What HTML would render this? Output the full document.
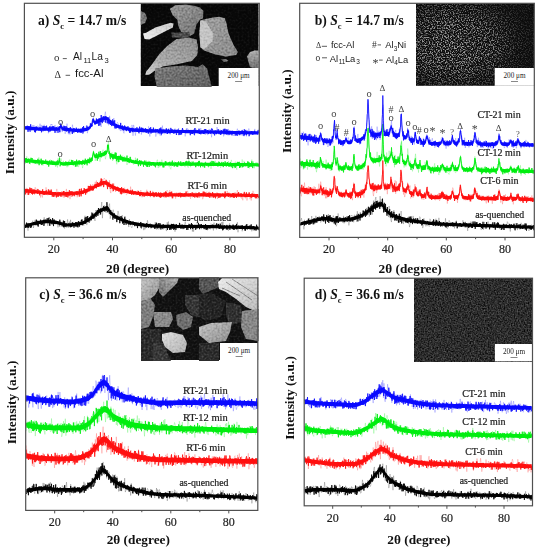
<!DOCTYPE html>
<html><head><meta charset="utf-8"><style>
html,body{margin:0;padding:0;background:#fff;width:537px;height:550px;overflow:hidden}
svg{display:block}
</style></head><body>
<svg width="537" height="550" viewBox="0 0 537 550">
<defs>
<linearGradient id="gb" x1="0" y1="0" x2="1" y2="0.3"><stop offset="0" stop-color="#3a3a3a"/><stop offset="0.55" stop-color="#2a2a2a"/><stop offset="1" stop-color="#0a0a0a"/></linearGradient>
<filter id="spk1" x="0" y="0" width="100%" height="100%" color-interpolation-filters="sRGB">
<feTurbulence type="fractalNoise" baseFrequency="0.75" numOctaves="2" seed="7"/>
<feColorMatrix type="matrix" values="0 0 0 0 0.7  0 0 0 0 0.7  0 0 0 0 0.7  4.2 0 0 0 -1.9"/>
<feGaussianBlur stdDeviation="0.3"/>
</filter>
<radialGradient id="gmb" cx="0.3" cy="0.5" r="0.7" fx="0.3" fy="0.5"><stop offset="0" stop-color="#f0f0f0"/><stop offset="0.5" stop-color="#c0c0c0"/><stop offset="0.8" stop-color="#505050"/><stop offset="1" stop-color="#282828"/></radialGradient>
<mask id="mb" maskUnits="userSpaceOnUse" x="416" y="3" width="119" height="83"><rect x="416" y="3.3" width="118.3" height="82.5" fill="url(#gmb)"/></mask>
<filter id="grain" x="0" y="0" width="100%" height="100%" color-interpolation-filters="sRGB">
<feTurbulence type="fractalNoise" baseFrequency="0.5" numOctaves="3" seed="11"/>
<feColorMatrix type="matrix" values="0.8 0 0 0 0.1  0.8 0 0 0 0.1  0.8 0 0 0 0.1  0 0 0 0 1"/>
</filter>
<linearGradient id="ga1" x1="0" y1="1" x2="1" y2="0"><stop offset="0" stop-color="#f0f0f0"/><stop offset="1" stop-color="#c8c8c8"/></linearGradient>
<linearGradient id="ga2" x1="0" y1="0" x2="1" y2="1"><stop offset="0" stop-color="#9a9a9a"/><stop offset="1" stop-color="#707070"/></linearGradient>
<linearGradient id="ga3" x1="0" y1="1" x2="1" y2="0"><stop offset="0" stop-color="#d8d8d8"/><stop offset="0.3" stop-color="#aaaaaa"/><stop offset="1" stop-color="#8e8e8e"/></linearGradient>
<linearGradient id="ga4" x1="0" y1="0" x2="1" y2="1"><stop offset="0" stop-color="#7c7c7c"/><stop offset="1" stop-color="#5e5e5e"/></linearGradient>
<linearGradient id="ga5" x1="0" y1="0" x2="1" y2="1"><stop offset="0" stop-color="#a0a0a0"/><stop offset="1" stop-color="#8a8a8a"/></linearGradient>
<linearGradient id="ga6" x1="0" y1="0" x2="0" y2="1"><stop offset="0" stop-color="#b0b0b0"/><stop offset="1" stop-color="#707070"/></linearGradient>
<linearGradient id="gc5" x1="1" y1="0" x2="0" y2="1"><stop offset="0" stop-color="#b4b4b4"/><stop offset="1" stop-color="#6a6a6a"/></linearGradient>
<linearGradient id="gc1" x1="0" y1="0" x2="1" y2="1"><stop offset="0" stop-color="#c8c8c8"/><stop offset="1" stop-color="#8a8a8a"/></linearGradient>
<linearGradient id="gc2" x1="0" y1="0" x2="1" y2="1"><stop offset="0" stop-color="#e0e0e0"/><stop offset="1" stop-color="#b0b0b0"/></linearGradient>
<linearGradient id="gc3" x1="0" y1="0" x2="1" y2="1"><stop offset="0" stop-color="#ececec"/><stop offset="1" stop-color="#b8b8b8"/></linearGradient>
<linearGradient id="gc4" x1="0" y1="0" x2="1" y2="1"><stop offset="0" stop-color="#c4c4c4"/><stop offset="1" stop-color="#8c8c8c"/></linearGradient>
<filter id="spk2" x="0" y="0" width="100%" height="100%" color-interpolation-filters="sRGB">
<feTurbulence type="fractalNoise" baseFrequency="0.7" numOctaves="2" seed="3"/>
<feColorMatrix type="matrix" values="0.48 0 0 0 -0.065  0.48 0 0 0 -0.065  0.48 0 0 0 -0.065  0 0 0 0 1"/>
<feGaussianBlur stdDeviation="0.4"/>
</filter>
<linearGradient id="gbm" x1="0" y1="0" x2="1" y2="0.2"><stop offset="0" stop-color="#000" stop-opacity="0"/><stop offset="0.45" stop-color="#000" stop-opacity="0.1"/><stop offset="0.75" stop-color="#000" stop-opacity="0.45"/><stop offset="1" stop-color="#000" stop-opacity="0.55"/></linearGradient>
</defs>
<rect width="537" height="550" fill="#fff"/>
<g transform="scale(0.1)" fill="none" stroke="#000"><path fill="#000" stroke="none" d="M250 2248l6-2 6-2 6-2 6-3 6-2 6-2 6-2 6-2 6-2 6-1 6-2 6-2 6-2 6-1 6-2 6-1 6-1 6-2 6-1 6-1 6-2 6-1 6-1 6-1 6-2 6-1 6-1 6-1 6-1 6-1 6 0 6-1 6 0 6 0 6-1 6 0 6 1 6 0 6 0 6 0 6 1 6 0 6 0 6 1 6 1 6 0 6 1 6 0 6 1 6 1 6 0 6 1 6 1 6 1 6 1 6 2 6 2 6 2 6 2 6 2 6 2 6 2 6 2 6 2 6 2 6 1 6 2 6 0 6 1 6 0 6 0 6 0 6 0 6 0 6-1 6 0 6-1 6 0 6-1 6 0 6-1 6 0 6-1 6-1 6-1 6-1 6-1 6 0 6-1 6-1 6-1 6-2 6-1 6-2 6-2 6-2 6-2 6-3 6-3 6-3 6-4 6-3 6-4 6-4 6-4 6-4 6-3 6-4 6-4 6-4 6-5 6-5 6-5 6-6 6-6 6-5 6-6 6-5 6-6 6-5 6-4 6-5 6-3 6-4 6-3 6-4 6-3 6-3 6-3 6-2 6-3 6-2 6-3 6-3 6-2 6-1 6-1 6 2 6 6 6 9 6 11 6 11 6 9 6 7 6 5 6 5 6 5 6 5 6 4 6 4 6 4 6 4 6 3 6 4 6 3 6 3 6 3 6 3 6 3 6 3 6 2 6 3 6 3 6 2 6 2 6 3 6 2 6 2 6 2 6 2 6 2 6 2 6 2 6 1 6 2 6 1 6 2 6 2 6 1 6 2 6 1 6 1 6 2 6 1 6 1 6 2 6 1 6 1 6 1 6 1 6 1 6 1 6 1 6 1 6 1 6 0 6 1 6 1 6 0 6 1 6 1 6 0 6 1 6 1 6 0 6 1 6 0 6 1 6 0 6 1 6 0 6 1 6 0 6 1 6 0 6 1 6 0 6 0 6 0 6 1 6 0 6 0 6 0 6 0 6 1 6 0 6 0 6 0 6 0 6 0 6 0 6 0 6 0 6 0 6 0 6 0 6 0 6 0 6 0 6 0 6 0 6 0 6 0 6 0 6 0 6 0 6 0 6 0 6 0 6 1 6 0 6 0 6 0 6 0 6 0 6 0 6 0 6 0 6 0 6 0 6 0 6 0 6 0 6 0 6 0 6 0 6 0 6 0 6 0 6 0 6 0 6 0 6 0 6 0 6 0 6 0 6 0 6 0 6 0 6 0 6 0 6 0 6 0 6 0 6 0 6 0 6 0 6 0 6 0 6 0 6 1 6 0 6 0 6 0 6 0 6 0 6 0 6 0 6 0 6 0 6 0 6 0 6 0 6 0 6 0 6 1 6 0 6 0 6 0 6 0 6 0 6 0 6 0 6 0 6 0 6 1 6 0 6 0 6 0 6 0 6 0 6 0 6 0 6 1 6 0 6 0 6 0 6 0 6 0 6 0 6 1 6 0 6 0 6 0 6 0 6 0 6 0 6 1 6 0 6 0 6 0 6 0 6 0 6 1 6 0 6 0 6 0 6 0 6 0 6 1 6 0 6 0 6 0 6 0 6 1 6 0 6 0 6 0 6 0 6 1 6 0 6 0 6 0 6 0 6 1 6 0 6 0 6 0 6 0 6 1 6 0 6 0 6 0 6 0 6 1 6 0 6 0 6 0 6 1 6 0 6 0 6 0 6 0 6 1 6 0 6 0 6 0 6 1 6 0 0 30 -6 0 -6-1 -6 0 -6 0 -6 0 -6-1 -6 0 -6 0 -6 0 -6 0 -6-1 -6 0 -6 0 -6 0 -6 0 -6-1 -6 0 -6 0 -6 0 -6 0 -6-1 -6 0 -6 0 -6 0 -6 0 -6-1 -6 0 -6 0 -6 0 -6 0 -6 0 -6-1 -6 0 -6 0 -6 0 -6 0 -6-1 -6 0 -6 0 -6 0 -6 0 -6 0 -6-1 -6 0 -6 0 -6 0 -6 0 -6 0 -6-1 -6 0 -6 0 -6 0 -6 0 -6 0 -6 0 -6-1 -6 0 -6 0 -6 0 -6 0 -6 0 -6 0 -6-1 -6 0 -6 0 -6 0 -6 0 -6 0 -6 0 -6 0 -6 0 -6-1 -6 0 -6 0 -6 0 -6 0 -6 0 -6 0 -6 0 -6 0 -6 0 -6-1 -6 0 -6 0 -6 0 -6 0 -6 0 -6 0 -6 0 -6 0 -6 0 -6 0 -6 0 -6 0 -6 0 -6-1 -6 0 -6 0 -6 0 -6 0 -6 0 -6 0 -6 0 -6 0 -6 0 -6 0 -6 0 -6 0 -6 0 -6 0 -6 0 -6 0 -6 0 -6 0 -6 0 -6 0 -6 0 -6 0 -6 0 -6 0 -6 0 -6 0 -6 0 -6 0 -6 0 -6 0 -6 0 -6 0 -6 0 -6 0 -6 0 -6 0 -6 0 -6 0 -6-1 -6 0 -6 0 -6 0 -6 0 -6 0 -6 0 -6 0 -6 0 -6 0 -6 0 -6 0 -6 0 -6 0 -6 0 -6 0 -6 0 -6 0 -6 0 -6 0 -6 0 -6 0 -6 0 -6 0 -6 0 -6 0 -6 0 -6 0 -6 0 -6-1 -6 0 -6 0 -6 0 -6 0 -6 0 -6-1 -6 0 -6 0 -6 0 -6-1 -6 0 -6-1 -6 0 -6 0 -6-1 -6 0 -6-1 -6 0 -6-1 -6-1 -6 0 -6-1 -6 0 -6-1 -6-1 -6 0 -6-1 -6 0 -6-1 -6-1 -6 0 -6-1 -6-1 -6-1 -6-1 -6-1 -6-1 -6-1 -6-1 -6-1 -6-2 -6-1 -6-1 -6-2 -6-1 -6-1 -6-2 -6-1 -6-2 -6-1 -6-2 -6-1 -6-2 -6-2 -6-2 -6-2 -6-2 -6-2 -6-2 -6-2 -6-2 -6-3 -6-2 -6-2 -6-3 -6-3 -6-2 -6-3 -6-3 -6-3 -6-3 -6-4 -6-3 -6-4 -6-3 -6-4 -6-5 -6-4 -6-5 -6-5 -6-5 -6-6 -6-9 -6-11 -6-10 -6-9 -6-6 -6-2 -6 1 -6 1 -6 2 -6 3 -6 3 -6 2 -6 3 -6 2 -6 3 -6 3 -6 3 -6 3 -6 3 -6 4 -6 3 -6 4 -6 5 -6 5 -6 5 -6 5 -6 6 -6 5 -6 6 -6 5 -6 5 -6 5 -6 4 -6 4 -6 4 -6 4 -6 4 -6 3 -6 4 -6 4 -6 3 -6 3 -6 4 -6 3 -6 3 -6 2 -6 3 -6 2 -6 2 -6 1 -6 2 -6 1 -6 1 -6 1 -6 1 -6 0 -6 1 -6 1 -6 1 -6 1 -6 0 -6 1 -6 1 -6 0 -6 1 -6 0 -6 1 -6 0 -6 0 -6 0 -6 1 -6 0 -6 0 -6 0 -6-1 -6-1 -6-1 -6-1 -6-2 -6-2 -6-2 -6-2 -6-2 -6-2 -6-2 -6-2 -6-1 -6-2 -6-1 -6-1 -6-1 -6-1 -6 0 -6-1 -6-1 -6 0 -6-1 -6 0 -6-1 -6 0 -6-1 -6 0 -6-1 -6 0 -6 0 -6 0 -6 0 -6 0 -6 0 -6 0 -6 0 -6 1 -6 1 -6 0 -6 1 -6 1 -6 1 -6 1 -6 2 -6 1 -6 1 -6 1 -6 1 -6 2 -6 1 -6 1 -6 1 -6 2 -6 1 -6 2 -6 1 -6 2 -6 1 -6 2 -6 2 -6 2 -6 2 -6 2 -6 2 -6 2 -6 2 -6 2 -6 2z"/><path stroke-width="6" stroke-opacity="0.35" d="M250 2232l6 10 6 16 6-32 6 37 6 44 6-74 6 5 6 28 6-7 6 16 6-11 6-28 6-30 6 74 6-25 6-45 6-13 6 54 6-52 6 38 6 23 6-35 6 4 6-3 6 8 6 2 6 1 6-9 6-2 6-10 6-10 6-33 6 62 6-2 6-41 6 24 6-28 6 71 6-64 6 16 6-41 6 33 6-13 6 48 6-22 6 27 6-15 6-16 6-16 6 20 6 3 6-2 6 4 6 10 6 43 6-48 6 14 6 29 6-33 6-20 6 51 6-25 6 1 6-26 6 19 6 50 6-44 6 14 6 20 6-44 6-38 6 85 6-25 6-38 6 38 6-56 6 65 6-36 6 21 6-30 6 26 6 1 6-17 6 43 6-30 6 31 6-21 6-3 6 26 6-20 6 17 6-25 6-39 6 23 6-25 6 30 6-2 6 23 6-60 6-39 6 77 6-26 6 43 6-22 6-47 6-20 6 18 6-7 6 41 6-23 6-40 6-16 6 0 6 0 6-8 6 76 6 7 6-110 6 20 6 37 6-12 6 2 6-59 6 31 6 29 6-23 6-61 6-44 6 162 6-87 6-30 6-13 6 22 6 17 6 36 6-67 6 66 6-20 6 17 6-72 6-15 6 151 6-32 6-55 6 43 6-19 6-27 6 40 6 17 6 14 6 9 6 0 6-24 6 7 6-51 6 24 6 33 6 43 6-42 6-7 6 46 6-56 6 65 6-9 6 23 6-38 6 21 6-24 6 44 6-29 6 26 6 7 6 35 6-80 6 26 6 36 6 14 6 11 6-17 6-20 6 6 6-17 6 13 6-23 6 20 6 19 6-34 6 7 6-12 6 1 6 27 6-14 6-15 6 71 6-27 6-22 6 22 6 39 6-55 6 47 6-52 6-9 6 30 6-60 6 28 6 46 6-30 6 19 6-34 6 54 6-27 6 2 6 9 6-18 6 20 6 17 6-68 6 34 6 41 6-32 6 28 6-24 6 27 6-12 6 7 6-53 6 29 6 21 6-42 6 52 6-32 6 23 6-32 6 10 6 32 6 13 6-89 6 46 6-53 6 43 6-3 6 21 6 20 6-16 6-38 6 4 6 24 6 23 6-30 6 54 6-55 6-7 6 34 6-15 6-6 6-2 6 10 6-19 6-18 6 2 6 17 6-6 6 17 6 0 6-24 6 11 6-40 6 32 6 4 6 9 6 3 6 16 6-45 6 24 6 13 6-6 6-11 6-5 6 66 6-59 6 60 6-40 6-22 6-2 6-16 6 3 6 10 6 17 6-7 6 28 6-3 6-15 6-30 6 52 6-15 6-4 6 9 6-37 6 47 6-14 6 22 6-36 6-6 6 45 6-41 6 32 6-8 6-27 6 34 6-56 6 7 6 22 6 1 6 38 6-79 6 38 6-7 6 7 6 31 6-24 6-12 6 16 6-40 6 42 6 9 6-26 6 2 6-42 6 36 6-39 6 73 6-32 6-1 6 11 6-2 6 27 6 7 6-16 6 23 6-51 6-22 6 35 6-11 6 8 6 27 6-47 6 34 6 5 6-22 6 5 6 15 6-19 6 35 6-77 6 101 6-72 6 9 6 29 6-13 6-9 6 6 6 40 6-45 6-7 6 6 6-6 6 31 6-3 6-42 6 33 6-38 6 16 6 34 6-30 6 22 6 12 6-33 6 50 6-21 6 1 6 13 6-20 6-7 6-3 6 5 6-6 6-4 6-6 6 18"/><path stroke-width="8" stroke-linejoin="bevel" d="M250 2262l3 15 3-6 3-17 3 19 3-46 3 26 3 1 3 22 3-30 3-16 3 25 3 23 3-31 3 1 3-3 3 3 3 20 3 10 3-26 3-10 3 32 3-30 3-2 3-8 3 0 3 9 3-10 3 11 3-6 3 7 3-16 3 2 3 7 3-4 3 0 3 18 3-39 3-16 3 46 3-18 3 27 3-25 3-20 3 59 3-33 3-15 3-6 3 22 3-22 3 18 3 13 3-46 3 18 3 15 3 20 3-13 3-26 3 35 3-34 3 3 3 10 3-27 3 61 3-20 3-18 3-15 3-11 3 28 3 6 3-20 3 4 3 13 3-11 3-33 3 47 3-8 3 9 3-27 3-25 3 16 3 29 3 32 3 4 3-36 3-32 3 21 3 15 3 0 3-6 3 22 3-40 3-22 3 23 3-5 3 62 3-43 3-22 3 37 3 7 3-17 3 3 3 15 3-8 3-22 3 24 3 6 3-10 3 10 3-5 3-13 3 2 3 14 3-19 3 30 3 2 3-55 3 35 3-11 3 3 3 15 3-5 3 14 3-3 3 2 3-19 3 8 3 31 3-61 3 67 3-36 3 29 3-56 3 31 3 21 3-11 3 15 3-31 3 6 3-2 3 19 3-1 3-9 3-2 3-1 3 6 3-17 3 15 3-2 3-6 3-1 3 33 3-34 3 16 3 16 3-11 3-12 3 16 3-40 3 3 3 13 3 3 3 2 3 32 3-4 3-29 3 5 3-20 3 20 3-28 3 45 3-32 3 18 3-32 3 45 3-14 3 22 3-32 3-29 3 14 3-9 3 48 3-38 3-3 3 23 3-6 3 3 3-18 3-27 3 10 3-15 3 59 3-8 3-23 3 16 3 0 3-2 3-4 3 5 3-16 3-43 3-4 3 64 3-14 3-55 3 44 3-22 3 5 3-36 3 57 3-18 3 15 3 4 3 2 3 5 3-28 3-4 3-19 3 22 3-18 3-21 3 46 3-12 3-65 3 7 3 31 3-26 3 52 3-25 3 6 3 5 3 6 3-38 3 17 3-11 3 10 3-8 3 17 3-23 3-26 3 12 3-32 3 32 3 26 3-52 3-26 3 35 3-12 3 10 3-16 3 15 3-28 3 60 3-45 3 17 3 4 3-23 3 13 3-18 3-7 3 5 3 16 3-45 3 8 3 1 3 5 3 41 3-31 3-8 3 10 3 22 3-46 3 44 3-85 3 36 3 60 3 4 3-32 3-12 3 35 3-25 3 53 3-4 3-5 3-33 3 48 3-24 3 4 3-2 3 10 3 16 3 11 3 2 3 33 3-54 3 35 3-38 3 13 3-19 3 53 3-18 3-1 3-3 3 23 3-28 3 21 3 40 3-48 3-8 3-6 3 39 3-14 3-15 3 0 3 19 3-20 3 64 3-44 3 1 3 3 3-32 3 8 3 23 3 8 3-22 3 58 3-23 3 17 3-1 3-26 3 48 3-39 3-36 3-8 3 45 3 18 3-14 3 31 3-36 3 17 3 4 3-32 3 26 3 2 3 14 3 3 3-4 3-30 3 27 3 7 3-18 3 14 3 1 3 8 3-19 3 8 3-4 3-2 3-11 3 6 3-13 3 16 3 16 3 0 3 3 3-14 3 26 3-31 3 21 3-5 3-19 3 1 3 25 3-11 3 5 3 33 3-27 3-7 3 10 3-21 3 7 3 11 3-20 3 13 3-2 3 5 3-30 3 58 3-30 3 11 3-25 3-4 3 22 3-6 3 16 3-25 3 0 3 21 3 7 3 3 3-15 3 5 3-16 3 34 3-3 3 0 3-43 3 40 3-25 3 19 3 0 3 12 3-21 3-3 3-10 3-2 3 28 3-23 3 25 3-17 3-2 3 24 3-2 3-28 3 13 3 2 3 11 3-21 3 5 3 5 3 12 3 3 3-21 3 35 3-20 3-19 3-11 3 16 3-28 3 39 3 6 3 11 3-12 3-34 3 22 3 15 3-44 3 21 3 22 3-8 3-32 3 23 3 8 3 31 3-38 3-7 3 18 3 1 3 4 3 13 3-23 3-20 3 22 3-1 3 15 3-2 3-24 3 23 3 3 3-18 3 18 3-12 3 0 3-5 3 15 3 22 3-31 3-21 3 14 3-5 3 13 3-7 3 37 3-23 3 17 3-39 3 7 3 35 3-57 3 28 3-26 3 47 3-45 3 17 3 2 3-23 3 60 3-37 3 28 3-36 3-11 3 25 3 0 3 31 3-50 3-8 3 13 3 15 3 4 3-20 3 6 3 14 3 8 3-25 3 11 3-38 3 21 3 21 3-6 3-3 3 27 3-29 3-12 3 20 3 0 3-21 3 33 3 11 3-35 3-4 3 12 3 20 3-28 3-2 3 2 3 13 3-1 3-6 3 21 3 16 3-43 3 25 3-12 3 30 3-47 3 8 3 7 3-24 3 19 3 14 3-33 3 24 3 25 3-36 3-5 3-21 3 33 3-23 3 34 3 16 3-16 3-21 3 22 3-17 3-10 3 10 3 11 3-9 3 13 3 25 3-23 3 2 3-22 3 30 3-14 3 10 3-27 3 15 3-39 3 30 3-7 3-3 3 42 3-50 3 21 3 0 3 11 3 7 3-40 3 16 3-2 3 21 3 4 3-21 3-2 3-7 3 21 3 20 3-20 3-16 3-2 3 2 3-14 3 51 3-25 3-6 3 39 3-31 3 19 3-18 3 13 3-16 3-6 3 11 3 5 3 6 3-14 3-6 3-2 3 10 3-12 3 3 3 13 3 0 3-1 3-18 3-11 3 26 3-2 3-8 3 9 3 10 3-16 3 9 3-20 3 11 3-9 3-9 3 28 3-41 3 34 3 12 3-5 3-29 3 26 3-31 3 15 3 34 3-19 3 16 3-34 3-15 3 20 3 30 3-5 3 2 3-18 3 1 3-1 3 37 3-33 3 25 3-29 3 23 3-36 3 9 3 13 3-14 3 2 3 4 3-5 3 31 3-6 3-38 3 46 3-26 3 1 3-2 3 15 3-2 3-18 3 8 3-20 3 47 3-40 3 0 3 2 3 13 3 9 3-16 3 6 3-6 3 25 3-16 3-28 3 47 3-17 3 23 3-37 3 2 3 5 3-18 3 15 3 24 3-8 3-44 3 53 3-14 3 7 3-11 3 2 3-2 3 0 3-16 3 31 3-12 3 2 3 0 3-9 3 3 3-18 3 23 3 0 3-7 3-21 3 44 3-22 3 3 3-4 3-5 3 3 3-10 3 8 3 38 3-12 3 12 3-38 3-18 3 7 3-13 3 49 3 2 3-16 3 4 3 0 3-7 3 12 3-25 3 9 3 4 3-22 3 10 3 21 3-2 3-38 3 47 3-8 3 6 3-12 3 10 3-27 3 15 3-12 3 8 3 24 3 7 3-23 3-6 3 17 3-4 3 20 3-18 3-41 3 34 3-6 3-6 3 13 3-1 3-6 3 27"/></g>
<g transform="scale(0.1)" fill="none" stroke="#ff1010"><path fill="#ff1010" stroke="none" d="M250 1888l6 1 6 1 6 1 6 0 6 1 6 1 6 1 6 1 6 0 6 1 6 1 6 1 6 1 6 0 6 1 6 1 6 0 6 1 6 1 6 1 6 0 6 1 6 1 6 0 6 1 6 0 6 1 6 1 6 0 6 1 6 0 6 1 6 1 6 0 6 1 6 0 6 1 6 0 6 1 6 1 6 0 6 1 6 0 6 1 6 1 6 0 6 1 6 0 6 1 6 0 6 0 6 1 6 0 6 0 6 1 6 0 6 0 6 0 6 0 6 0 6 0 6 0 6 0 6 0 6-1 6 0 6 0 6 0 6 0 6-1 6 0 6 0 6 0 6-1 6 0 6-1 6 0 6 0 6-1 6 0 6-1 6 0 6-1 6 0 6-1 6 0 6-1 6 0 6-1 6-1 6-1 6-1 6-1 6-2 6-1 6-2 6-2 6-2 6-2 6-3 6-2 6-2 6-3 6-2 6-2 6-3 6-2 6-3 6-3 6-3 6-3 6-4 6-3 6-3 6-3 6-4 6-3 6-3 6-3 6-4 6-3 6-3 6-4 6-3 6-2 6-3 6-2 6-2 6-2 6-2 6-1 6-1 6-1 6 2 6 2 6 4 6 4 6 4 6 4 6 3 6 3 6 3 6 4 6 3 6 3 6 3 6 3 6 3 6 3 6 3 6 2 6 3 6 2 6 2 6 2 6 2 6 2 6 2 6 2 6 2 6 2 6 1 6 2 6 2 6 1 6 2 6 1 6 2 6 1 6 2 6 1 6 1 6 2 6 1 6 1 6 1 6 2 6 1 6 1 6 1 6 1 6 0 6 1 6 1 6 1 6 0 6 1 6 1 6 0 6 1 6 1 6 0 6 1 6 1 6 0 6 1 6 0 6 1 6 1 6 0 6 1 6 0 6 1 6 0 6 1 6 0 6 1 6 0 6 1 6 0 6 1 6 0 6 0 6 1 6 0 6 0 6 0 6 1 6 0 6 0 6 0 6 0 6 0 6 0 6 0 6 0 6 0 6 0 6 0 6 0 6 0 6 0 6 0 6 0 6 0 6 0 6 0 6 0 6 0 6 0 6 0 6 0 6 0 6 0 6 0 6 0 6 0 6 0 6 0 6 0 6 0 6 0 6 0 6 0 6 0 6 0 6 0 6 0 6 0 6 0 6 0 6 0 6 0 6 0 6 0 6 0 6 0 6 0 6 0 6 0 6 0 6 0 6 0 6 0 6 0 6 0 6 0 6 0 6 0 6 0 6 0 6 0 6 0 6 0 6 0 6 0 6 0 6 0 6 0 6 0 6 0 6 0 6 0 6 0 6 0 6 0 6 0 6 0 6 0 6 0 6 0 6 0 6 0 6 0 6 0 6 0 6 1 6 0 6 0 6 0 6 0 6 0 6 0 6 0 6 0 6 0 6 0 6 0 6 0 6 0 6 0 6 0 6 0 6 0 6 0 6 1 6 0 6 0 6 0 6 0 6 0 6 0 6 0 6 0 6 0 6 0 6 0 6 0 6 1 6 0 6 0 6 0 6 0 6 0 6 0 6 0 6 0 6 0 6 1 6 0 6 0 6 0 6 0 6 0 6 0 6 0 6 0 6 1 6 0 6 0 6 0 6 0 6 0 6 0 6 0 6 0 6 1 6 0 6 0 6 0 6 0 6 0 6 0 6 0 6 1 6 0 6 0 6 0 6 0 6 0 6 0 6 0 6 1 6 0 6 0 6 0 6 0 6 0 6 0 0 31 -6 0 -6 0 -6 0 -6 0 -6 0 -6 0 -6 0 -6-1 -6 0 -6 0 -6 0 -6 0 -6 0 -6 0 -6 0 -6-1 -6 0 -6 0 -6 0 -6 0 -6 0 -6 0 -6 0 -6-1 -6 0 -6 0 -6 0 -6 0 -6 0 -6 0 -6 0 -6 0 -6 0 -6-1 -6 0 -6 0 -6 0 -6 0 -6 0 -6 0 -6 0 -6 0 -6 0 -6-1 -6 0 -6 0 -6 0 -6 0 -6 0 -6 0 -6 0 -6 0 -6 0 -6 0 -6 0 -6-1 -6 0 -6 0 -6 0 -6 0 -6 0 -6 0 -6 0 -6 0 -6 0 -6 0 -6 0 -6 0 -6 0 -6 0 -6-1 -6 0 -6 0 -6 0 -6 0 -6 0 -6 0 -6 0 -6 0 -6 0 -6 0 -6 0 -6 0 -6 0 -6 0 -6 0 -6 0 -6 0 -6 0 -6 0 -6 0 -6 0 -6 0 -6 0 -6 0 -6 0 -6 0 -6 0 -6 0 -6 0 -6 0 -6 0 -6 0 -6 0 -6 0 -6 0 -6 0 -6 0 -6 0 -6 0 -6 0 -6 0 -6 0 -6 0 -6 0 -6 0 -6 0 -6 0 -6 0 -6 0 -6 0 -6 0 -6 0 -6 0 -6 0 -6 0 -6 0 -6 0 -6 0 -6 0 -6 0 -6 0 -6 0 -6 0 -6 0 -6 0 -6 0 -6 0 -6 0 -6 0 -6 0 -6 0 -6 0 -6 0 -6 0 -6 0 -6 0 -6 0 -6 0 -6 0 -6 0 -6 0 -6 0 -6 0 -6 0 -6 0 -6 0 -6 0 -6 0 -6 0 -6 0 -6 0 -6 0 -6 0 -6 0 -6 0 -6 0 -6 0 -6-1 -6 0 -6 0 -6 0 -6 0 -6-1 -6 0 -6 0 -6-1 -6 0 -6 0 -6-1 -6 0 -6 0 -6-1 -6 0 -6-1 -6 0 -6-1 -6 0 -6-1 -6 0 -6-1 -6-1 -6 0 -6-1 -6 0 -6-1 -6-1 -6 0 -6-1 -6 0 -6-1 -6-1 -6 0 -6-1 -6-1 -6 0 -6-1 -6-1 -6-1 -6-1 -6-1 -6-1 -6-1 -6-1 -6-1 -6-1 -6-2 -6-1 -6-1 -6-2 -6-1 -6-1 -6-2 -6-1 -6-2 -6-1 -6-2 -6-1 -6-2 -6-2 -6-2 -6-1 -6-2 -6-2 -6-2 -6-2 -6-3 -6-2 -6-2 -6-3 -6-2 -6-3 -6-3 -6-3 -6-3 -6-4 -6-3 -6-3 -6-3 -6-3 -6-3 -6-4 -6-4 -6-4 -6-2 -6-1 -6 0 -6 1 -6 1 -6 2 -6 2 -6 2 -6 2 -6 2 -6 3 -6 3 -6 3 -6 3 -6 3 -6 4 -6 3 -6 3 -6 3 -6 3 -6 3 -6 3 -6 3 -6 3 -6 3 -6 3 -6 3 -6 3 -6 2 -6 3 -6 2 -6 2 -6 2 -6 3 -6 2 -6 2 -6 2 -6 2 -6 2 -6 2 -6 1 -6 2 -6 1 -6 1 -6 1 -6 0 -6 1 -6 1 -6 0 -6 1 -6 0 -6 1 -6 0 -6 1 -6 0 -6 0 -6 1 -6 0 -6 1 -6 0 -6 0 -6 1 -6 0 -6 0 -6 0 -6 1 -6 0 -6 0 -6 0 -6 0 -6 1 -6 0 -6 0 -6 0 -6 0 -6 0 -6 0 -6 0 -6 0 -6 0 -6-1 -6 0 -6 0 -6 0 -6-1 -6 0 -6-1 -6 0 -6-1 -6 0 -6-1 -6 0 -6-1 -6 0 -6-1 -6-1 -6 0 -6-1 -6 0 -6-1 -6 0 -6-1 -6 0 -6-1 -6 0 -6-1 -6-1 -6 0 -6-1 -6 0 -6-1 -6-1 -6 0 -6-1 -6 0 -6-1 -6-1 -6 0 -6-1 -6-1 -6-1 -6 0 -6-1 -6-1 -6 0 -6-1 -6-1 -6-1 -6 0 -6-1 -6-1 -6-1 -6-1 -6 0 -6-1z"/><path stroke-width="6" stroke-opacity="0.35" d="M250 1916l6-5 6-33 6 24 6 44 6-48 6 22 6-17 6 45 6-53 6-15 6 55 6-52 6 29 6-4 6 21 6 19 6-76 6 56 6-27 6-14 6 43 6-9 6-8 6 11 6-18 6 69 6-54 6 29 6 25 6-56 6 24 6-22 6-7 6 36 6-77 6 37 6 23 6 20 6-25 6 22 6-53 6 36 6-22 6-17 6 71 6-20 6 1 6 14 6-11 6-10 6 32 6-50 6-32 6 32 6 23 6-27 6 25 6-7 6-1 6 12 6-35 6 8 6 52 6-26 6 34 6-30 6-7 6-11 6-42 6 65 6-39 6 2 6 3 6 2 6 70 6-47 6 22 6-5 6-7 6 1 6-1 6-14 6 24 6-18 6-19 6-15 6 60 6-34 6-43 6 24 6-1 6-29 6 22 6 39 6-19 6-17 6-11 6 7 6 10 6-27 6 15 6-15 6-7 6 27 6-3 6 7 6-22 6 25 6-81 6 53 6-36 6 34 6-49 6 65 6-38 6 7 6-58 6 40 6-53 6 60 6-35 6 25 6-20 6-13 6-2 6-26 6 42 6 2 6 17 6-12 6-41 6-21 6 9 6 7 6 21 6 45 6 3 6-40 6 12 6 24 6-60 6 107 6 22 6-89 6-3 6 76 6-53 6-27 6 32 6 20 6 33 6-42 6 21 6-38 6 50 6 4 6-4 6-20 6 1 6-4 6 24 6 0 6 20 6-46 6 53 6-62 6 44 6 2 6 26 6-5 6-15 6-37 6 28 6 2 6 9 6-65 6 55 6 4 6-10 6 18 6-26 6 24 6-9 6-11 6 42 6-12 6 2 6-41 6 7 6 9 6 1 6 46 6-65 6 59 6 14 6-45 6 31 6-20 6-9 6-13 6 8 6 9 6-37 6 69 6-39 6 3 6 18 6 18 6 6 6-52 6 21 6 4 6-37 6 49 6 6 6-43 6 26 6 4 6 6 6-31 6 30 6-13 6-13 6 32 6-1 6-20 6 10 6-13 6 17 6 3 6-4 6 25 6-47 6 38 6-28 6-33 6-7 6 13 6 53 6 7 6-71 6 6 6 45 6 10 6-37 6 17 6 39 6-44 6 20 6-33 6 61 6-37 6-27 6 22 6-12 6 7 6-1 6 2 6-19 6 24 6 9 6-10 6 19 6-21 6 29 6-34 6 9 6 26 6-28 6-20 6-16 6 23 6 13 6 10 6 15 6 18 6-56 6-12 6 53 6-5 6-25 6-1 6-14 6 5 6-10 6 56 6-6 6-38 6 17 6-15 6 43 6-25 6-16 6-4 6-1 6 58 6-10 6-39 6-1 6 3 6 12 6-12 6-28 6 44 6 5 6-32 6-17 6 27 6 4 6 6 6 23 6-22 6-27 6 12 6 11 6 10 6-26 6 10 6 21 6-45 6 69 6-45 6 20 6-6 6 13 6-40 6 37 6-4 6-36 6 11 6-11 6 26 6 10 6-48 6 32 6-3 6-36 6 23 6 15 6-25 6 54 6-40 6 0 6 23 6-5 6-17 6-10 6 16 6 36 6-60 6 28 6 22 6-33 6-37 6 70 6 2 6-6 6-15 6 24 6-23 6 33 6-14 6 32 6-62 6 32 6-5 6 15 6-4 6-56 6 82 6-59 6 22 6-12 6-29 6 65 6-40 6 53 6-37 6-5 6-55 6 44 6 6 6 4 6 4 6 21 6-38 6 0 6 39 6-40"/><path stroke-width="8" stroke-linejoin="bevel" d="M250 1915l3-25 3 54 3-33 3 8 3 6 3-25 3 26 3-38 3 5 3 11 3 46 3-28 3 11 3-28 3 17 3-46 3 33 3 13 3-18 3-24 3 6 3 41 3 13 3-30 3 35 3-51 3 34 3-5 3 13 3-44 3 44 3-15 3-17 3 8 3 4 3 9 3-19 3 0 3 16 3-1 3 9 3 7 3-47 3 31 3 6 3-3 3-19 3 30 3 18 3-32 3-10 3 27 3-13 3 2 3 2 3-11 3 7 3-11 3-21 3 51 3-12 3-6 3 24 3-25 3 22 3-5 3-18 3-16 3 29 3-4 3 13 3-42 3 24 3 6 3 2 3-3 3 3 3-42 3 33 3-6 3-14 3 27 3-8 3-12 3-3 3 28 3-42 3 36 3-17 3 21 3 29 3-14 3-17 3 25 3 7 3-15 3 15 3-27 3 7 3-11 3-4 3 6 3-12 3 11 3 37 3-24 3-14 3 30 3-4 3-40 3 6 3 39 3-26 3 1 3-11 3-9 3 36 3-32 3 22 3 21 3-21 3-12 3 13 3-1 3-16 3 11 3-23 3-9 3 19 3-19 3 18 3 8 3 4 3 27 3-45 3 8 3 0 3-9 3 48 3-45 3 9 3 0 3 40 3-42 3-8 3 33 3-31 3-24 3 52 3-3 3-39 3 3 3 20 3-16 3-9 3 5 3 49 3-12 3-36 3 15 3 4 3-8 3 5 3 29 3-39 3-3 3 12 3-11 3 4 3-1 3-9 3 36 3-31 3 33 3-37 3-2 3 20 3-9 3 18 3-3 3 27 3-77 3 19 3 17 3-4 3 2 3 40 3-78 3 49 3-17 3 3 3 18 3-21 3 14 3 8 3-2 3-56 3 20 3-13 3 9 3 9 3 41 3-51 3 5 3 1 3 30 3-40 3 18 3 6 3-6 3-51 3 13 3 36 3-48 3 28 3-26 3 35 3-10 3-31 3 24 3-18 3 8 3 35 3-21 3 0 3 22 3-30 3 23 3-21 3-4 3-14 3-12 3-6 3 1 3 29 3-4 3-28 3 43 3-42 3 3 3-23 3 10 3 36 3-11 3-25 3 39 3-30 3 2 3 20 3-14 3-19 3-18 3 52 3-79 3 34 3-27 3 25 3 32 3-28 3-3 3 8 3 46 3-14 3-27 3-20 3 5 3 18 3-13 3 4 3-19 3-6 3 8 3 32 3-23 3 75 3-38 3 4 3 9 3-43 3-1 3 22 3 19 3 1 3 25 3-3 3-6 3 3 3-16 3 14 3-22 3-1 3 30 3-52 3 64 3 11 3-46 3 26 3-10 3-21 3 28 3 4 3 11 3-25 3 10 3-13 3 32 3-20 3 20 3-29 3 16 3-18 3 4 3 36 3-24 3 3 3 17 3-28 3 52 3-50 3 8 3 49 3-72 3 66 3-25 3 3 3-28 3 23 3-25 3 42 3-22 3-7 3 4 3 7 3 21 3-11 3-19 3-1 3-3 3 33 3-4 3-28 3-8 3 28 3-8 3 19 3-10 3 9 3 8 3 5 3-22 3 17 3-21 3-11 3 25 3 17 3 4 3-24 3-28 3 35 3-8 3 14 3 8 3-25 3-4 3 6 3-5 3-5 3 21 3-16 3 8 3 0 3-5 3 21 3-18 3 7 3 15 3-15 3-21 3 16 3 0 3 18 3 17 3-23 3-5 3 26 3-34 3 16 3 3 3-8 3-2 3 6 3 22 3-15 3-18 3 14 3 11 3 13 3-15 3-9 3 18 3-7 3-11 3-13 3 12 3 14 3-31 3-8 3 33 3-32 3 4 3 17 3 0 3 5 3 2 3 5 3-9 3-11 3-22 3 54 3-7 3-2 3-10 3-13 3 21 3-8 3-20 3 37 3-37 3 15 3 33 3-39 3 15 3 14 3-16 3-21 3 14 3 6 3-21 3 44 3-17 3 6 3-7 3 2 3-11 3-17 3 33 3-10 3 23 3-41 3 20 3 30 3-53 3 3 3 21 3 22 3-43 3 18 3-3 3-6 3 5 3 22 3-17 3-22 3 11 3 11 3-23 3 11 3 4 3-26 3 60 3-52 3 25 3-3 3-7 3 27 3-17 3-13 3 30 3-10 3-24 3-7 3 36 3-15 3-20 3 30 3-30 3 12 3-2 3-18 3 41 3 26 3-27 3-4 3-10 3 3 3 5 3 6 3-17 3 8 3-4 3 12 3 6 3 2 3-23 3-1 3 18 3-14 3 1 3 10 3-1 3 14 3-38 3 35 3-24 3 17 3-29 3 17 3-7 3 36 3-41 3 32 3-30 3-5 3 22 3 12 3-17 3 10 3-6 3-4 3 22 3-21 3 13 3-31 3 15 3 17 3-21 3-26 3 44 3-2 3-13 3 6 3-7 3 11 3 11 3-12 3-6 3-6 3 5 3-6 3 23 3-31 3 7 3 14 3 0 3-1 3-10 3 9 3-24 3-2 3 4 3 25 3 15 3-27 3-2 3 4 3 32 3-24 3-2 3-10 3 16 3 12 3-17 3-15 3 32 3-20 3 28 3-43 3 13 3 7 3-31 3 28 3 8 3-11 3 8 3-4 3-15 3 23 3-22 3 7 3-7 3 21 3-17 3 0 3-25 3 28 3 19 3-46 3 37 3-6 3-26 3 20 3 21 3-15 3 6 3 11 3-21 3 17 3-31 3 5 3 35 3-1 3-6 3-37 3 19 3-10 3 43 3-50 3 2 3 10 3 14 3-14 3 4 3 9 3-4 3-28 3 9 3 44 3-24 3 26 3-5 3-5 3-16 3 22 3-29 3 40 3-24 3 0 3-15 3-3 3 5 3-4 3-5 3-3 3 19 3 15 3 12 3-18 3-13 3 11 3 16 3-23 3 13 3-9 3-4 3-10 3 19 3-23 3-2 3 20 3 9 3-1 3-1 3-17 3 3 3 18 3 14 3-67 3 55 3-15 3-4 3-10 3 1 3-8 3 22 3-19 3 12 3-19 3 40 3-8 3-27 3 24 3-13 3-7 3 14 3 12 3 9 3-18 3 14 3-8 3 0 3 5 3-35 3 15 3 28 3-42 3 7 3 40 3-43 3 17 3 3 3-9 3 18 3-1 3-23 3 36 3-37 3 5 3 5 3 5 3-20 3 20 3-36 3 25 3-6 3 3 3 9 3 5 3-15 3 12 3-23 3 17 3 19 3-24 3 6 3 4 3 12 3-6 3-8 3-12 3 18 3-37 3 40 3-17 3 20 3-10 3 20 3-29 3-19 3 29 3-7 3 5 3 19 3-30 3 23 3 3 3 3 3-45 3 31 3-12 3 7 3-8 3 7 3 18 3 11 3-14 3-28 3 36 3-36 3 13 3 21 3-24 3 18 3-14 3-12 3 19 3-10 3 33 3 1 3-4 3-37 3 42 3-23 3 3 3-4 3-11 3 10 3 11 3 9 3-13"/></g>
<g transform="scale(0.1)" fill="none" stroke="#00ee10"><path fill="#00ee10" stroke="none" d="M250 1586l6 1 6 1 6 0 6 1 6 1 6 1 6 0 6 1 6 1 6 0 6 1 6 1 6 1 6 0 6 1 6 1 6 0 6 1 6 1 6 0 6 1 6 1 6 0 6 1 6 1 6 0 6 1 6 0 6 1 6 1 6 0 6 1 6 1 6 0 6 1 6 1 6 0 6 1 6 1 6 0 6 1 6 1 6 1 6 0 6 1 6 1 6 0 6 1 6 1 6 0 6 0 6 1 6 0 6-1 6-2 6-7 6-16 6 10 6 11 6 4 6 1 6 1 6 0 6 0 6 0 6 0 6 0 6 0 6-1 6 0 6 0 6 0 6-1 6 0 6-1 6 0 6 0 6-1 6 0 6-1 6 0 6-1 6 0 6-1 6 0 6-1 6 0 6-1 6 0 6-1 6 0 6-1 6 0 6-1 6-1 6-1 6-1 6-1 6-1 6-1 6-1 6-1 6-1 6-2 6-1 6-2 6-2 6-2 6-4 6-5 6-7 6-13 6-28 6-32 6 23 6 18 6 4 6 0 6-2 6-2 6-2 6-2 6-2 6-1 6-2 6-2 6-2 6-2 6-1 6-2 6-2 6-3 6-2 6-3 6-4 6-7 6-16 6-45 6 7 6 49 6 20 6 10 6 5 6 4 6 3 6 3 6 2 6 2 6 2 6 2 6 1 6 2 6 1 6 2 6 1 6 1 6 2 6 1 6 1 6 1 6 1 6 1 6 2 6 1 6 1 6 1 6 2 6 1 6 2 6 2 6 2 6 2 6 3 6 2 6 2 6 2 6 2 6 2 6 2 6 2 6 1 6 1 6 1 6 1 6 1 6 0 6 1 6 1 6 1 6 0 6 1 6 1 6 0 6 1 6 1 6 0 6 1 6 0 6 1 6 0 6 1 6 0 6 1 6 0 6 1 6 0 6 1 6 0 6 0 6 1 6 0 6 1 6 0 6 0 6 0 6 1 6 0 6 0 6 0 6 1 6 0 6 0 6 0 6 0 6 0 6 0 6 0 6 0 6 1 6 0 6 0 6 0 6 0 6 0 6 0 6 0 6 0 6 0 6 0 6 0 6 0 6 0 6 0 6 0 6 1 6 0 6 0 6 0 6 0 6 0 6 0 6 0 6 0 6 0 6 0 6 0 6 0 6 0 6 0 6 0 6 0 6 0 6 0 6 0 6 0 6 0 6 0 6 0 6 0 6 0 6 0 6 1 6 0 6 0 6 0 6 0 6 0 6 0 6 0 6 0 6 0 6 0 6 0 6 0 6 0 6 0 6 0 6 0 6 0 6 0 6 0 6 0 6 0 6 0 6 0 6 1 6 0 6 0 6 0 6 0 6 0 6 0 6 0 6 0 6 0 6 0 6 0 6 0 6 0 6 0 6 0 6 0 6 0 6 1 6 0 6 0 6 0 6 0 6 0 6 0 6 0 6 0 6 0 6 0 6 0 6 0 6 0 6 0 6 0 6 0 6 1 6 0 6 0 6 0 6 0 6 0 6 0 6 0 6 0 6 0 6 0 6 0 6 0 6 0 6 0 6 0 6 1 6 0 6 0 6 0 6 0 6 0 6 0 6 0 6 0 6 0 6 0 6 0 6 0 6 0 6 0 6 1 6 0 6 0 6 0 6 0 6 0 6 0 6 0 6 0 6 0 6 0 6 0 6 0 6 0 6 0 6 1 6 0 6 0 6 0 6 0 6 0 6 0 6 0 6 0 6 0 6 0 6 0 6 0 0 31 -6 0 -6 0 -6 0 -6 0 -6 0 -6 0 -6 0 -6 0 -6 0 -6 0 -6 0 -6 0 -6 0 -6-1 -6 0 -6 0 -6 0 -6 0 -6 0 -6 0 -6 0 -6 0 -6 0 -6 0 -6 0 -6 0 -6 0 -6 0 -6 0 -6-1 -6 0 -6 0 -6 0 -6 0 -6 0 -6 0 -6 0 -6 0 -6 0 -6 0 -6 0 -6 0 -6 0 -6 0 -6 0 -6-1 -6 0 -6 0 -6 0 -6 0 -6 0 -6 0 -6 0 -6 0 -6 0 -6 0 -6 0 -6 0 -6 0 -6 0 -6 0 -6 0 -6-1 -6 0 -6 0 -6 0 -6 0 -6 0 -6 0 -6 0 -6 0 -6 0 -6 0 -6 0 -6 0 -6 0 -6 0 -6 0 -6 0 -6 0 -6 0 -6-1 -6 0 -6 0 -6 0 -6 0 -6 0 -6 0 -6 0 -6 0 -6 0 -6 0 -6 0 -6 0 -6 0 -6 0 -6 0 -6 0 -6 0 -6 0 -6-1 -6 0 -6 0 -6 0 -6 0 -6 0 -6 0 -6 0 -6 0 -6 0 -6 0 -6 0 -6 0 -6 0 -6 0 -6 0 -6 0 -6 0 -6 0 -6 0 -6 0 -6 0 -6 0 -6 0 -6 0 -6 0 -6 0 -6 0 -6 0 -6 0 -6-1 -6 0 -6 0 -6 0 -6 0 -6 0 -6 0 -6 0 -6 0 -6 0 -6 0 -6 0 -6 0 -6 0 -6 0 -6 0 -6 0 -6 0 -6 0 -6 0 -6 0 -6 0 -6 0 -6-1 -6 0 -6 0 -6 0 -6 0 -6 0 -6 0 -6 0 -6 0 -6 0 -6 0 -6 0 -6 0 -6-1 -6 0 -6 0 -6 0 -6 0 -6 0 -6-1 -6 0 -6 0 -6-1 -6 0 -6 0 -6 0 -6-1 -6 0 -6-1 -6 0 -6 0 -6-1 -6 0 -6-1 -6 0 -6-1 -6 0 -6-1 -6 0 -6-1 -6 0 -6-1 -6-1 -6 0 -6-1 -6 0 -6-1 -6-1 -6 0 -6-1 -6-1 -6-1 -6 0 -6-1 -6-1 -6-2 -6-1 -6-2 -6-2 -6-2 -6-2 -6-2 -6-2 -6-2 -6-2 -6-2 -6-2 -6-2 -6-1 -6-2 -6-1 -6-1 -6-1 -6-1 -6-2 -6-1 -6-1 -6-1 -6-1 -6-1 -6-1 -6-2 -6-1 -6-1 -6-2 -6-2 -6-1 -6-2 -6-2 -6-2 -6-3 -6-2 -6-4 -6-5 -6-10 -6-20 -6-49 -6-6 -6 45 -6 15 -6 7 -6 4 -6 3 -6 3 -6 2 -6 2 -6 2 -6 1 -6 2 -6 2 -6 1 -6 2 -6 2 -6 2 -6 2 -6 1 -6 2 -6 2 -6 0 -6-5 -6-18 -6-23 -6 32 -6 27 -6 13 -6 8 -6 4 -6 4 -6 2 -6 2 -6 1 -6 2 -6 1 -6 2 -6 1 -6 1 -6 1 -6 1 -6 1 -6 1 -6 0 -6 1 -6 1 -6 0 -6 1 -6 0 -6 1 -6 0 -6 1 -6 0 -6 1 -6 0 -6 1 -6 0 -6 1 -6 0 -6 1 -6 0 -6 0 -6 1 -6 0 -6 1 -6 0 -6 0 -6 0 -6 1 -6 0 -6 0 -6 0 -6 1 -6 0 -6 0 -6 0 -6-1 -6 0 -6-2 -6-3 -6-12 -6-10 -6 17 -6 6 -6 2 -6 1 -6 0 -6 0 -6 0 -6-1 -6 0 -6-1 -6 0 -6-1 -6-1 -6 0 -6-1 -6-1 -6 0 -6-1 -6-1 -6-1 -6 0 -6-1 -6-1 -6 0 -6-1 -6 0 -6-1 -6 0 -6-1 -6-1 -6 0 -6-1 -6-1 -6 0 -6-1 -6 0 -6-1 -6-1 -6 0 -6-1 -6-1 -6 0 -6-1 -6-1 -6 0 -6-1 -6 0 -6-1 -6-1 -6 0 -6-1 -6-1 -6-1 -6 0 -6-1 -6-1 -6 0z"/><path stroke-width="6" stroke-opacity="0.35" d="M250 1602l6-7 6 26 6-58 6 59 6 12 6-44 6-6 6 31 6 28 6-69 6 44 6-25 6 8 6 11 6 10 6 19 6-33 6 0 6 22 6 13 6-14 6 11 6-66 6 38 6-4 6-16 6 4 6 35 6-1 6 25 6-33 6-8 6-11 6 8 6 15 6-11 6 35 6-50 6 39 6-22 6 3 6-24 6 5 6 38 6-8 6 7 6 13 6-18 6-7 6-8 6 51 6-33 6 7 6 32 6-92 6 70 6-58 6 25 6 8 6-44 6 27 6 16 6 10 6-29 6 49 6-16 6 12 6-4 6-25 6 49 6-28 6 19 6-52 6-16 6 36 6-9 6-28 6 22 6 20 6-33 6 26 6 21 6-37 6-2 6 17 6-2 6 19 6-41 6 64 6-4 6-64 6 19 6 0 6 29 6-7 6 39 6-32 6-19 6-31 6 40 6-33 6-5 6 8 6-18 6 21 6-14 6-9 6 47 6-53 6 5 6 23 6-19 6-11 6-68 6 7 6 9 6 81 6-36 6-15 6-28 6 15 6-1 6 30 6-66 6 108 6-70 6-18 6 25 6-34 6-23 6 37 6 3 6 8 6 47 6-28 6-53 6 14 6-67 6-51 6 67 6 21 6 93 6-27 6 15 6-52 6 86 6-53 6 28 6-59 6 47 6-5 6 46 6 29 6-57 6-19 6-5 6 3 6 1 6 38 6-51 6 57 6-24 6-30 6 37 6-12 6-19 6 49 6 8 6-37 6 68 6-46 6 0 6 18 6-23 6 10 6-38 6 33 6-11 6 29 6-20 6 45 6-18 6 3 6-56 6 62 6-36 6 17 6 29 6-14 6-12 6-22 6 43 6-31 6 24 6-7 6 6 6-11 6 7 6 12 6 7 6-36 6-12 6 67 6-44 6-7 6-10 6 42 6 2 6-14 6 20 6-29 6 20 6 1 6-5 6 15 6-8 6 13 6-27 6-1 6-39 6 1 6 82 6-50 6 39 6 2 6-54 6 33 6-54 6 28 6 23 6-24 6-7 6 5 6 38 6-32 6 6 6 7 6 14 6-22 6 33 6-15 6 31 6 11 6-28 6-47 6-5 6 27 6 28 6-54 6 28 6-12 6 30 6 4 6 4 6-43 6 3 6 1 6 3 6 14 6-15 6 32 6-40 6 16 6 9 6-5 6 24 6 5 6-50 6-16 6 51 6 5 6 14 6-87 6 36 6 7 6 40 6-61 6 45 6-15 6-29 6 6 6 17 6 3 6 7 6 25 6-38 6-8 6 11 6 34 6-62 6 33 6-10 6 31 6-26 6-12 6 37 6 14 6-14 6-22 6-17 6-5 6 21 6-6 6 17 6-16 6 43 6-6 6-20 6-36 6 75 6-45 6-15 6 14 6-10 6-2 6 26 6-49 6 23 6 18 6-24 6 11 6 18 6 8 6-41 6 35 6 23 6-18 6-13 6-1 6-5 6 14 6-21 6 19 6-28 6 13 6 8 6-25 6 21 6-31 6 24 6-11 6 24 6-32 6-17 6 44 6 40 6-6 6-50 6 55 6-64 6 0 6 54 6 25 6-82 6 24 6-16 6 25 6-22 6 17 6-14 6 29 6-63 6 68 6 9 6-64 6 25 6 34 6-10 6-28 6 13 6-5 6-20 6 44 6 24 6-32 6-20 6 20 6-57 6 72 6-58 6 18 6 55 6-27 6 1 6-36 6 10 6-2 6-2 6 23"/><path stroke-width="8" stroke-linejoin="bevel" d="M250 1636l3-11 3-44 3 30 3 18 3-48 3 14 3 35 3-41 3 26 3-12 3 5 3-22 3 18 3-6 3 39 3-20 3-9 3-2 3 13 3-40 3 11 3 2 3 2 3-14 3 38 3-17 3 31 3-24 3-4 3 14 3 1 3-13 3 16 3 12 3-29 3 30 3-25 3 18 3-15 3-6 3 13 3-24 3-8 3 27 3-3 3-15 3 55 3-28 3-19 3 21 3 1 3-16 3 3 3-27 3 36 3 28 3-12 3-2 3-27 3-8 3 33 3-9 3-8 3-2 3 22 3-5 3-18 3 6 3-25 3 8 3 29 3-16 3-7 3 19 3 17 3-34 3 9 3 1 3 44 3-22 3-12 3-27 3 35 3-2 3-12 3-9 3 5 3-18 3 20 3-1 3-6 3 9 3-19 3 43 3-20 3-16 3 31 3-3 3-17 3-12 3 20 3 8 3 3 3 4 3-1 3-36 3 24 3-31 3 43 3-10 3 7 3-19 3-8 3-17 3-24 3 39 3 48 3-14 3-21 3 10 3 3 3-15 3 9 3 5 3-12 3 14 3 12 3-6 3-8 3-7 3 14 3-20 3-1 3 29 3-25 3-16 3 34 3-2 3 6 3-19 3 19 3-19 3-14 3 13 3 6 3-21 3 14 3 7 3-11 3 8 3-2 3-12 3 17 3 4 3-41 3 21 3 23 3-6 3-37 3 33 3 18 3-8 3-2 3-14 3 3 3-20 3 19 3 36 3-37 3-15 3 23 3-41 3 68 3-26 3-15 3-1 3-9 3 16 3-2 3-25 3 40 3-22 3-12 3 32 3-3 3-21 3-2 3 28 3-25 3 10 3 18 3-42 3-5 3 10 3 4 3 10 3 15 3-24 3 35 3-25 3-37 3 32 3 11 3 6 3-31 3 10 3 38 3-35 3-19 3-11 3 18 3 12 3-26 3 41 3-37 3-21 3 43 3-13 3-6 3 23 3-36 3 19 3-27 3 31 3-40 3-16 3-10 3-25 3 18 3 2 3 28 3-4 3-8 3 23 3-2 3-30 3 14 3-28 3 34 3 14 3 28 3-41 3 15 3 7 3-16 3-54 3 28 3 16 3-2 3-5 3-22 3-21 3 46 3 16 3-35 3 20 3-23 3 7 3-10 3 29 3-38 3 21 3 15 3-21 3-27 3 34 3-14 3-26 3 22 3-4 3 17 3-28 3 7 3 1 3-72 3 35 3-37 3 1 3 54 3 38 3-24 3 11 3 45 3 8 3 12 3-38 3-18 3 2 3 14 3-12 3 30 3 18 3-46 3 52 3-46 3 5 3-13 3 43 3-15 3 3 3-46 3 35 3 19 3-51 3 84 3-31 3 16 3-26 3 24 3 7 3 20 3-63 3 61 3-60 3 24 3-9 3 4 3-32 3 31 3-16 3 19 3 10 3-4 3-2 3 29 3-20 3 6 3 14 3-25 3 4 3 11 3-17 3 29 3-34 3 8 3 2 3-2 3 6 3-7 3-33 3 64 3-27 3 22 3-32 3 31 3-32 3 49 3-27 3-4 3-32 3 2 3 32 3-1 3 1 3 3 3 25 3-22 3 1 3-5 3-5 3 25 3-13 3 2 3 11 3-3 3 12 3 0 3-33 3 9 3 29 3-22 3 17 3-24 3-23 3 2 3 25 3 5 3 44 3-24 3-1 3 4 3-40 3 27 3-2 3 33 3-42 3-12 3 25 3-4 3 5 3 2 3 0 3-13 3 4 3 43 3-46 3 19 3-24 3-11 3 42 3-11 3 18 3-4 3-12 3-15 3 42 3-29 3 33 3-22 3 4 3-5 3-2 3-10 3 36 3-46 3-9 3 28 3-14 3 25 3-18 3 21 3-16 3-13 3 7 3 16 3-20 3-4 3 10 3 8 3 14 3-12 3 7 3-16 3 31 3 4 3-42 3 14 3-6 3 7 3-9 3-6 3-9 3 12 3 8 3 15 3-7 3-14 3-4 3-13 3 33 3-9 3 8 3 2 3-3 3-10 3-2 3-11 3 5 3 16 3 26 3-38 3 9 3 29 3-31 3-6 3 5 3-4 3-25 3 41 3-39 3 18 3 2 3 13 3-10 3-4 3-6 3 16 3-8 3-6 3-10 3 7 3 16 3-26 3 25 3 0 3 15 3-27 3-5 3 13 3-4 3-28 3 52 3-15 3-1 3-14 3 17 3-9 3 28 3-14 3 11 3-39 3 5 3 7 3-3 3 33 3-19 3-21 3 12 3 32 3-32 3 13 3-35 3 18 3 6 3-2 3 4 3 5 3 12 3-43 3 27 3 10 3-7 3 13 3-19 3-4 3-6 3 26 3-33 3 13 3 6 3 10 3-14 3-10 3 23 3-26 3 6 3-19 3 33 3-1 3-28 3 23 3 11 3-18 3-15 3 23 3 11 3-37 3 41 3-14 3 15 3-30 3 30 3-9 3 7 3-11 3 14 3-17 3-4 3-9 3-8 3 24 3-6 3 4 3-3 3 9 3-4 3-10 3 21 3 20 3-45 3 7 3 15 3-19 3 26 3-25 3-8 3 4 3 30 3-46 3 32 3-34 3 43 3-5 3 4 3 22 3-32 3 18 3-8 3 7 3-27 3 28 3-21 3 27 3-8 3-12 3 8 3-1 3-5 3 30 3-45 3-8 3 1 3 16 3 3 3 11 3 4 3-10 3-2 3-16 3 29 3 6 3-22 3 12 3-20 3 9 3 2 3 11 3-34 3 23 3 12 3-8 3 4 3-46 3 24 3 6 3-5 3-24 3 51 3-12 3-33 3 22 3 7 3 14 3-4 3-25 3 5 3 13 3 11 3-21 3-3 3 18 3-6 3 18 3-13 3 8 3-44 3 9 3-3 3 12 3 16 3-10 3 12 3-19 3 26 3-2 3-38 3 9 3 7 3 21 3 0 3 15 3-49 3 25 3-3 3-4 3 2 3-29 3 36 3-11 3-13 3 40 3-31 3 14 3-14 3-13 3 16 3 12 3-20 3 23 3 18 3-8 3-22 3-7 3 25 3-34 3 5 3 42 3-20 3 2 3-12 3 38 3 0 3-35 3 14 3-16 3 11 3 13 3 0 3-23 3 10 3 26 3-18 3 7 3-12 3-10 3-15 3 2 3-11 3 9 3 3 3 24 3-36 3 32 3-36 3 62 3-41 3 11 3 24 3-29 3 4 3 1 3 6 3-16 3 34 3-9 3-15 3 16 3-20 3-6 3 6 3 9 3-30 3 18 3 12 3-24 3 22 3-22 3 20 3-4 3 6 3-16 3-19 3-5 3 67 3-54 3 9 3-12 3 46 3-10 3 2 3-30 3 32 3-26 3 30 3-20 3-33 3 32 3-11 3 46 3-53 3 16 3 0 3-9 3 2 3 10 3 6 3-11 3 2 3 4 3-14 3 11 3 4 3 14 3-5 3-2 3 6 3-25 3 28 3-22"/></g>
<g transform="scale(0.1)" fill="none" stroke="#0a0aff"><path fill="#0a0aff" stroke="none" d="M250 1261l6 1 6 0 6 1 6 1 6 0 6 1 6 1 6 0 6 1 6 0 6 1 6 1 6 0 6 1 6 0 6 1 6 0 6 1 6 0 6 1 6 0 6 0 6 1 6 0 6 0 6 0 6 1 6 0 6 0 6 0 6 0 6 0 6 0 6 0 6 0 6 0 6 0 6 0 6 0 6 0 6 0 6 0 6 0 6 0 6 0 6 0 6 0 6 0 6 0 6 0 6 0 6 0 6-1 6 0 6-1 6-1 6-3 6-6 6-14 6-6 6 16 6 9 6 4 6 2 6 1 6 1 6 1 6 1 6 0 6 1 6 0 6 1 6 1 6 0 6 1 6 1 6 0 6 1 6 0 6 1 6 0 6 1 6 0 6 1 6 0 6 0 6 0 6 1 6 0 6 0 6-1 6 0 6 0 6-1 6-1 6 0 6-1 6-1 6-1 6-2 6-1 6-2 6-1 6-2 6-2 6-3 6-5 6-7 6-7 6-9 6-11 6-16 6-34 6-5 6 24 6 8 6 0 6-2 6-3 6-3 6-3 6-3 6-3 6-3 6-3 6-3 6-3 6-3 6-2 6-3 6-3 6-3 6-2 6-1 6 1 6 3 6 4 6 6 6 6 6 6 6 5 6 5 6 4 6 5 6 5 6 5 6 5 6 4 6 4 6 4 6 3 6 3 6 2 6 3 6 2 6 2 6 2 6 2 6 2 6 1 6 2 6 2 6 1 6 2 6 1 6 2 6 1 6 2 6 1 6 2 6 1 6 2 6 1 6 1 6 2 6 1 6 1 6 1 6 1 6 1 6 1 6 0 6 1 6 0 6 1 6 0 6 1 6 0 6 0 6 1 6 0 6 0 6 1 6 0 6 0 6 0 6 1 6 0 6 0 6 1 6 0 6 0 6 0 6 0 6 1 6 0 6 0 6 0 6 0 6 1 6 0 6 0 6 0 6 0 6 0 6 1 6 0 6 0 6 0 6 0 6 0 6 0 6 1 6 0 6 0 6 0 6 0 6 0 6 1 6 0 6 0 6 0 6 0 6 0 6 0 6 0 6 1 6 0 6 0 6 0 6 0 6 0 6 0 6 0 6 1 6 0 6 0 6 0 6 0 6 0 6 0 6 0 6 0 6 0 6 1 6 0 6 0 6 0 6 0 6 0 6 0 6 0 6 0 6 0 6 0 6 1 6 0 6 0 6 0 6 0 6 0 6 0 6 0 6 0 6 0 6 1 6 0 6 0 6 0 6 0 6 0 6 0 6 0 6 0 6 0 6 1 6 0 6 0 6 0 6 0 6 0 6 0 6 0 6 0 6 1 6 0 6 0 6 0 6 0 6 0 6 0 6 0 6 0 6 1 6 0 6 0 6 0 6 0 6 0 6 0 6 0 6 1 6 0 6 0 6 0 6 0 6 0 6 0 6 0 6 0 6 1 6 0 6 0 6 0 6 0 6 0 6 0 6 0 6 1 6 0 6 0 6 0 6 0 6 0 6 0 6 0 6 1 6 0 6 0 6 0 6 0 6 0 6 0 6 0 6 1 6 0 6 0 6 0 6 0 6 0 6 0 6 0 6 1 6 0 6 0 6 0 6 0 6 0 6 0 6 1 6 0 6 0 6 0 6 0 6 0 6 0 6 0 6 1 6 0 6 0 6 0 6 0 6 0 6 0 6 0 6 1 6 0 6 0 6 0 6 0 6 0 6 0 6 1 6 0 6 0 6 0 6 0 6 0 6 0 0 31 -6 0 -6 0 -6 0 -6 0 -6 0 -6 0 -6-1 -6 0 -6 0 -6 0 -6 0 -6 0 -6 0 -6 0 -6-1 -6 0 -6 0 -6 0 -6 0 -6 0 -6 0 -6 0 -6-1 -6 0 -6 0 -6 0 -6 0 -6 0 -6 0 -6 0 -6 0 -6-1 -6 0 -6 0 -6 0 -6 0 -6 0 -6 0 -6 0 -6-1 -6 0 -6 0 -6 0 -6 0 -6 0 -6 0 -6 0 -6-1 -6 0 -6 0 -6 0 -6 0 -6 0 -6 0 -6 0 -6 0 -6-1 -6 0 -6 0 -6 0 -6 0 -6 0 -6 0 -6 0 -6-1 -6 0 -6 0 -6 0 -6 0 -6 0 -6 0 -6 0 -6 0 -6-1 -6 0 -6 0 -6 0 -6 0 -6 0 -6 0 -6 0 -6 0 -6-1 -6 0 -6 0 -6 0 -6 0 -6 0 -6 0 -6 0 -6 0 -6-1 -6 0 -6 0 -6 0 -6 0 -6 0 -6 0 -6 0 -6 0 -6-1 -6 0 -6 0 -6 0 -6 0 -6 0 -6 0 -6 0 -6 0 -6 0 -6-1 -6 0 -6 0 -6 0 -6 0 -6 0 -6 0 -6 0 -6 0 -6 0 -6 0 -6 0 -6-1 -6 0 -6 0 -6 0 -6 0 -6 0 -6 0 -6 0 -6 0 -6 0 -6 0 -6-1 -6 0 -6 0 -6 0 -6 0 -6 0 -6 0 -6 0 -6 0 -6 0 -6-1 -6 0 -6 0 -6 0 -6 0 -6 0 -6 0 -6 0 -6 0 -6-1 -6 0 -6 0 -6 0 -6 0 -6 0 -6 0 -6 0 -6-1 -6 0 -6 0 -6 0 -6 0 -6 0 -6 0 -6-1 -6 0 -6 0 -6 0 -6 0 -6 0 -6 0 -6-1 -6 0 -6 0 -6 0 -6 0 -6 0 -6-1 -6 0 -6 0 -6 0 -6 0 -6-1 -6 0 -6 0 -6 0 -6 0 -6-1 -6 0 -6 0 -6 0 -6-1 -6 0 -6 0 -6-1 -6 0 -6 0 -6-1 -6 0 -6 0 -6-1 -6 0 -6 0 -6-1 -6-1 -6 0 -6-1 -6-1 -6-1 -6-1 -6-1 -6-2 -6-1 -6-1 -6-2 -6-1 -6-1 -6-2 -6-1 -6-2 -6-1 -6-1 -6-2 -6-1 -6-2 -6-1 -6-2 -6-2 -6-2 -6-2 -6-2 -6-2 -6-2 -6-2 -6-3 -6-3 -6-4 -6-4 -6-4 -6-4 -6-5 -6-5 -6-4 -6-5 -6-5 -6-4 -6-6 -6-5 -6-6 -6-5 -6-3 -6 0 -6 1 -6 2 -6 3 -6 3 -6 2 -6 3 -6 2 -6 3 -6 3 -6 3 -6 3 -6 3 -6 3 -6 3 -6 3 -6 2 -6 2 -6-1 -6-7 -6-25 -6 5 -6 34 -6 16 -6 11 -6 8 -6 7 -6 6 -6 5 -6 3 -6 2 -6 2 -6 1 -6 2 -6 1 -6 1 -6 1 -6 1 -6 1 -6 1 -6 1 -6 0 -6 1 -6 0 -6 0 -6 0 -6 0 -6 0 -6 0 -6-1 -6 0 -6 0 -6-1 -6 0 -6 0 -6-1 -6-1 -6 0 -6-1 -6 0 -6-1 -6 0 -6-1 -6-1 -6 0 -6-1 -6-1 -6 0 -6-1 -6-1 -6-1 -6-2 -6-4 -6-8 -6-17 -6 6 -6 14 -6 6 -6 3 -6 1 -6 1 -6 0 -6 1 -6 0 -6 0 -6 0 -6 0 -6 0 -6 0 -6 0 -6 0 -6 0 -6 0 -6 0 -6 0 -6 0 -6 0 -6 0 -6 0 -6 0 -6 0 -6 0 -6 0 -6 0 -6 0 -6 0 -6 0 -6 0 -6 0 -6-1 -6 0 -6 0 -6-1 -6 0 -6 0 -6-1 -6 0 -6 0 -6-1 -6 0 -6-1 -6 0 -6-1 -6 0 -6-1 -6-1 -6 0 -6-1 -6 0 -6-1 -6-1 -6 0 -6-1 -6 0 -6-1z"/><path stroke-width="6" stroke-opacity="0.35" d="M250 1274l6 23 6-2 6-28 6-9 6 4 6 52 6-8 6-21 6-26 6 39 6 7 6-12 6-42 6 23 6-22 6 50 6-22 6 11 6-22 6 28 6-39 6 2 6 11 6 16 6-50 6 73 6-61 6 28 6 13 6 28 6-7 6-64 6 35 6 29 6-47 6 29 6 1 6-19 6 58 6-42 6 12 6-5 6-57 6 9 6-10 6 47 6 4 6-17 6 0 6-25 6 32 6 47 6-55 6-13 6 27 6 11 6-16 6 49 6-23 6-48 6-5 6 66 6-24 6-21 6-6 6-4 6 73 6-74 6 40 6-69 6 62 6 39 6 5 6-43 6 47 6-33 6 1 6 22 6-89 6 29 6 21 6 35 6-29 6-1 6-2 6 1 6 14 6-5 6 13 6-24 6-9 6 35 6-46 6 29 6-9 6 0 6 16 6-14 6-25 6-10 6 29 6-16 6 18 6 35 6-36 6-33 6 19 6-17 6 8 6-28 6-38 6 6 6-5 6-4 6-1 6 21 6 21 6-23 6-4 6 23 6-21 6-15 6 52 6-22 6-26 6 21 6 40 6-95 6-16 6 27 6 21 6 13 6-70 6-33 6 58 6 23 6-14 6 4 6 64 6-3 6-91 6 59 6 32 6-37 6 43 6-12 6 14 6-77 6 111 6-47 6 3 6 8 6-21 6-12 6 10 6 33 6 32 6-27 6 41 6-53 6 48 6-33 6 14 6 34 6 12 6-72 6 25 6-12 6-5 6 30 6-5 6-28 6 6 6 25 6 19 6-4 6-44 6-18 6 3 6 105 6-109 6 26 6 26 6 55 6-48 6-23 6-7 6 22 6 12 6-10 6-12 6 11 6-28 6 73 6-65 6 10 6-13 6 22 6 16 6-15 6-1 6 27 6-10 6-10 6-1 6-42 6 21 6 80 6-67 6 2 6 25 6-4 6-19 6-18 6 39 6-31 6-7 6 81 6-32 6-22 6 27 6 3 6-36 6 7 6 41 6-19 6 24 6-30 6-73 6 81 6-49 6 54 6-47 6 35 6 10 6-50 6 24 6 2 6-19 6-12 6 26 6 34 6-34 6-1 6-6 6 19 6 12 6-16 6 19 6-53 6 32 6-15 6 11 6-19 6 29 6-43 6 50 6 14 6-16 6 18 6-8 6-41 6-8 6 20 6 17 6-9 6 47 6-45 6-37 6 27 6-25 6 16 6-4 6 14 6 7 6-18 6-2 6 9 6 30 6-8 6-25 6-2 6 29 6-50 6 21 6-3 6 9 6 30 6-7 6-33 6 27 6-9 6-34 6 48 6 11 6-26 6-2 6 29 6-27 6 35 6-5 6-54 6 9 6 48 6 4 6-34 6-28 6 51 6-16 6 0 6 49 6-90 6 22 6 38 6-18 6-25 6 29 6-26 6 43 6-76 6 43 6-1 6 32 6-20 6-29 6 10 6 13 6 12 6-22 6 15 6 41 6-19 6-1 6-1 6-3 6-12 6-2 6 27 6-64 6 65 6-47 6 9 6-3 6 20 6 24 6-35 6 4 6 34 6-18 6 18 6-34 6 34 6-52 6-21 6 35 6 30 6-20 6-25 6 2 6 6 6 14 6 29 6-41 6 15 6 20 6-21 6 5 6-1 6 29 6-50 6-12 6 34 6-51 6 26 6 7 6-10 6 6 6 19 6 7 6-31 6 35 6-28 6-27 6 35 6-3 6 14 6-6 6-5 6-36"/><path stroke-width="8" stroke-linejoin="bevel" d="M250 1267l3 7 3 8 3-4 3 7 3 0 3-24 3-3 3 35 3-28 3 53 3-58 3 23 3-4 3 6 3-21 3 23 3 30 3-45 3-29 3 51 3-4 3 5 3-27 3 22 3 9 3-24 3 10 3 8 3 5 3-17 3 7 3 32 3 1 3-54 3 57 3-44 3 25 3-40 3 18 3-7 3 25 3-10 3 4 3 0 3-4 3 13 3-14 3-3 3-10 3-4 3 6 3 16 3 11 3-19 3 36 3-12 3-21 3 5 3-6 3-31 3 45 3-10 3-33 3 45 3-25 3 5 3-25 3 29 3 8 3-15 3 7 3-32 3 41 3-10 3 0 3 13 3 6 3-19 3 17 3 16 3-51 3 20 3-29 3 34 3 18 3-27 3-17 3 10 3 17 3-33 3 1 3 33 3-32 3 25 3-20 3-9 3 42 3 5 3-33 3 53 3-37 3 7 3-6 3-22 3 36 3-15 3 6 3-6 3-10 3 47 3-33 3-13 3 15 3-34 3 25 3 32 3-60 3 12 3-37 3 23 3 27 3-29 3 7 3 40 3-13 3 8 3-1 3-31 3-7 3-2 3 42 3-33 3-6 3 22 3 7 3 7 3-35 3 54 3-38 3 19 3-3 3-16 3 24 3-1 3 14 3 14 3 4 3-20 3-4 3-18 3-19 3 33 3-16 3 5 3-3 3 16 3-14 3 47 3-25 3-23 3 15 3 18 3-44 3 24 3-12 3 10 3-9 3 11 3 5 3 3 3-35 3 37 3-11 3-11 3 9 3 28 3-29 3-12 3 26 3-15 3 15 3-7 3 18 3-33 3 4 3 24 3 10 3-25 3 17 3-13 3-8 3-29 3 63 3-16 3-58 3 51 3-24 3-8 3 7 3 21 3-14 3-3 3 0 3-5 3 15 3-45 3 11 3 20 3-19 3 23 3-11 3 11 3-12 3 12 3-14 3 10 3-24 3-30 3 29 3-4 3-15 3 24 3-16 3 11 3-53 3-19 3 5 3 28 3-30 3 35 3-6 3-3 3 26 3-1 3-4 3-30 3 13 3-38 3 47 3-42 3 21 3 23 3-25 3 7 3-20 3 63 3-78 3 12 3 9 3 52 3-64 3 13 3 16 3-69 3 68 3-13 3 26 3-1 3-25 3 13 3-42 3-13 3 20 3 9 3-13 3 16 3 5 3 26 3-46 3-6 3 23 3-4 3 11 3 29 3-57 3 40 3 17 3 1 3-60 3 29 3 38 3-26 3 12 3-10 3 33 3-21 3-9 3 11 3 30 3-19 3-41 3-7 3 60 3-47 3 39 3-15 3 21 3-18 3-31 3 77 3-27 3-2 3 36 3-16 3 9 3-25 3 8 3 8 3-20 3 29 3-7 3-13 3-1 3 25 3-18 3 11 3-1 3-8 3-39 3 51 3 9 3-26 3 0 3 30 3-38 3 46 3-12 3 16 3-25 3 3 3 4 3-32 3 12 3 37 3-32 3-4 3 24 3 19 3-24 3-4 3 5 3 9 3-34 3 34 3 2 3 12 3 1 3-7 3 24 3-33 3-2 3 31 3-26 3-11 3 1 3 10 3-22 3 40 3-11 3 16 3-38 3 12 3-5 3 20 3-2 3 6 3-1 3-29 3 23 3-3 3-2 3 9 3-39 3 20 3 7 3-10 3-5 3 35 3-1 3 14 3-44 3-22 3 49 3-17 3-12 3 26 3-9 3-27 3 29 3-28 3 36 3-29 3-5 3 37 3 4 3-20 3-14 3 28 3-7 3 2 3-10 3-18 3 16 3 31 3-33 3 9 3 1 3 16 3-11 3-11 3 37 3-27 3 2 3-15 3-14 3 32 3-13 3 11 3-41 3 63 3-26 3 12 3-30 3 19 3 1 3 15 3-5 3-45 3 36 3-1 3-7 3 8 3 6 3 6 3-33 3 5 3 14 3 10 3-26 3 16 3-20 3 20 3-3 3 11 3 14 3-34 3 19 3-32 3 30 3 23 3-52 3 17 3-28 3 43 3 27 3-49 3 20 3 17 3-34 3 16 3-16 3 5 3 8 3 14 3-10 3-5 3-2 3 20 3-9 3-1 3-36 3 26 3-13 3 44 3-17 3 13 3-36 3-11 3 11 3 23 3-21 3 23 3 10 3-27 3 21 3-50 3 15 3 10 3 4 3-17 3 17 3 22 3-3 3-6 3-21 3 36 3-11 3-27 3 32 3-21 3 14 3-2 3 3 3 14 3 12 3-29 3-4 3-2 3 8 3 2 3-30 3 22 3 34 3-23 3 5 3-18 3 35 3-24 3-14 3-7 3 19 3 20 3-38 3-5 3-21 3 48 3-28 3 5 3-5 3 3 3 26 3-25 3 15 3-14 3 6 3 16 3 0 3-29 3 19 3-15 3 26 3-21 3-5 3 27 3-21 3 11 3 9 3-20 3 4 3 14 3 26 3-26 3 2 3-11 3-1 3 24 3-34 3 0 3 34 3-35 3-7 3 27 3 8 3 12 3 7 3-70 3 33 3-2 3 10 3-18 3 13 3 4 3-1 3-16 3 17 3-17 3 0 3 9 3 17 3-44 3 30 3 23 3-19 3-11 3 12 3 21 3-27 3-8 3 23 3-16 3-7 3 24 3-26 3 8 3 26 3-19 3 18 3-48 3 5 3 11 3 10 3-27 3 33 3-12 3 0 3 9 3-5 3-14 3 15 3-15 3 39 3-28 3 4 3-7 3 11 3 3 3-5 3-14 3 33 3-17 3-29 3-6 3 18 3-1 3-8 3 11 3 20 3 14 3-15 3 2 3 12 3 16 3-16 3-8 3-11 3-14 3 22 3 12 3-13 3-13 3 17 3-10 3-8 3-21 3 39 3-19 3 28 3-27 3 11 3-10 3 36 3-7 3-20 3 22 3-41 3 29 3-18 3 6 3-5 3 16 3-36 3 20 3 28 3-55 3 31 3-17 3-14 3 41 3-13 3 26 3-47 3 34 3 18 3-52 3 38 3 1 3-7 3 18 3-11 3-21 3-1 3 10 3 27 3-27 3 16 3-16 3 12 3-1 3 10 3 9 3-35 3-9 3 16 3 1 3 4 3 11 3-21 3 7 3 0 3 16 3-23 3 25 3 11 3-32 3 25 3-13 3-10 3 32 3-12 3-23 3 13 3-18 3-11 3 37 3-16 3 25 3-22 3 2 3-6 3 4 3-14 3 8 3-22 3-1 3 6 3 12 3 8 3-2 3 21 3 15 3-68 3 57 3-8 3-22 3 11 3-32 3 26 3 27 3-41 3 8 3 11 3 9 3-10 3-8 3 17 3-18 3 42 3-15 3-17 3-13 3 4 3-3 3 6 3 11 3-25 3 22 3-3 3-14 3 33 3-12 3-2 3-13 3-2 3 11 3-22 3 27 3-22 3 16 3 11 3-14 3-6 3-1 3 13 3-19 3 16 3 15 3-42 3 16 3 16"/></g>
<g transform="scale(0.1)" fill="none" stroke="#000"><path fill="#000" stroke="none" d="M3003 2224l6-2 6-1 6-2 6-2 6-1 6-2 6-2 6-1 6-2 6-1 6-2 6-1 6-2 6-1 6-2 6-1 6-1 6-2 6-1 6-2 6-1 6-2 6-1 6-2 6-2 6-1 6-2 6-1 6-2 6-1 6-2 6-1 6-1 6-1 6-1 6-1 6 0 6-1 6 0 6 0 6 0 6 0 6 1 6 0 6 1 6 1 6 0 6 1 6 1 6 1 6 1 6 1 6 1 6 1 6 0 6 1 6 1 6 0 6 1 6 0 6 0 6 0 6 0 6 0 6 0 6 0 6-1 6 0 6 0 6 0 6-1 6 0 6-1 6 0 6 0 6-1 6 0 6-1 6-1 6 0 6-1 6 0 6-1 6-1 6-1 6-1 6-1 6-1 6-2 6-1 6-2 6-2 6-2 6-2 6-2 6-3 6-2 6-2 6-3 6-2 6-3 6-3 6-3 6-4 6-4 6-4 6-5 6-4 6-5 6-4 6-5 6-4 6-4 6-5 6-4 6-5 6-4 6-5 6-5 6-5 6-4 6-5 6-4 6-3 6-4 6-2 6-3 6-2 6-2 6-2 6-2 6-1 6-1 6-1 6-1 6 2 6 6 6 10 6 11 6 11 6 9 6 7 6 6 6 6 6 6 6 5 6 5 6 5 6 5 6 4 6 4 6 3 6 4 6 3 6 3 6 3 6 2 6 3 6 2 6 3 6 2 6 2 6 2 6 2 6 2 6 2 6 2 6 2 6 1 6 2 6 1 6 2 6 2 6 1 6 1 6 2 6 1 6 2 6 1 6 1 6 1 6 1 6 2 6 1 6 1 6 1 6 1 6 1 6 1 6 1 6 1 6 1 6 1 6 1 6 0 6 1 6 1 6 1 6 1 6 1 6 1 6 1 6 0 6 1 6 1 6 1 6 1 6 0 6 1 6 1 6 1 6 0 6 1 6 1 6 0 6 1 6 1 6 0 6 1 6 1 6 0 6 1 6 0 6 1 6 0 6 1 6 0 6 1 6 0 6 0 6 1 6 0 6 0 6 1 6 0 6 0 6 1 6 0 6 0 6 1 6 0 6 0 6 0 6 1 6 0 6 0 6 1 6 0 6 0 6 0 6 1 6 0 6 0 6 0 6 1 6 0 6 0 6 0 6 0 6 1 6 0 6 0 6 0 6 1 6 0 6 0 6 0 6 0 6 1 6 0 6 0 6 0 6 0 6 0 6 1 6 0 6 0 6 0 6 0 6 1 6 0 6 0 6 0 6 0 6 1 6 0 6 0 6 0 6 0 6 1 6 0 6 0 6 0 6 0 6 1 6 0 6 0 6 0 6 0 6 1 6 0 6 0 6 0 6 0 6 1 6 0 6 0 6 0 6 1 6 0 6 0 6 0 6 0 6 1 6 0 6 0 6 0 6 1 6 0 6 0 6 0 6 0 6 1 6 0 6 0 6 0 6 0 6 1 6 0 6 0 6 0 6 0 6 1 6 0 6 0 6 0 6 1 6 0 6 0 6 0 6 0 6 1 6 0 6 0 6 0 6 0 6 1 6 0 6 0 6 0 6 0 6 1 6 0 6 0 6 0 6 0 6 1 6 0 6 0 6 0 6 0 6 1 6 0 6 0 6 0 6 0 6 1 6 0 6 0 6 0 6 0 6 1 6 0 6 0 6 0 6 0 6 1 6 0 6 0 6 0 6 0 6 1 6 0 6 0 6 0 6 0 6 1 6 0 6 0 0 30 -6 0 -6 0 -6-1 -6 0 -6 0 -6 0 -6 0 -6-1 -6 0 -6 0 -6 0 -6 0 -6 0 -6-1 -6 0 -6 0 -6 0 -6 0 -6-1 -6 0 -6 0 -6 0 -6 0 -6 0 -6-1 -6 0 -6 0 -6 0 -6 0 -6-1 -6 0 -6 0 -6 0 -6 0 -6-1 -6 0 -6 0 -6 0 -6 0 -6-1 -6 0 -6 0 -6 0 -6 0 -6-1 -6 0 -6 0 -6 0 -6 0 -6 0 -6-1 -6 0 -6 0 -6 0 -6 0 -6-1 -6 0 -6 0 -6 0 -6 0 -6-1 -6 0 -6 0 -6 0 -6 0 -6-1 -6 0 -6 0 -6 0 -6 0 -6-1 -6 0 -6 0 -6 0 -6-1 -6 0 -6 0 -6 0 -6 0 -6-1 -6 0 -6 0 -6 0 -6 0 -6-1 -6 0 -6 0 -6 0 -6 0 -6-1 -6 0 -6 0 -6 0 -6 0 -6-1 -6 0 -6 0 -6 0 -6 0 -6-1 -6 0 -6 0 -6 0 -6 0 -6 0 -6-1 -6 0 -6 0 -6 0 -6 0 -6-1 -6 0 -6 0 -6 0 -6 0 -6 0 -6-1 -6 0 -6 0 -6 0 -6 0 -6-1 -6 0 -6 0 -6 0 -6 0 -6-1 -6 0 -6 0 -6 0 -6 0 -6-1 -6 0 -6 0 -6 0 -6 0 -6-1 -6 0 -6 0 -6 0 -6-1 -6 0 -6 0 -6 0 -6-1 -6 0 -6 0 -6 0 -6-1 -6 0 -6 0 -6-1 -6 0 -6 0 -6-1 -6 0 -6 0 -6-1 -6 0 -6 0 -6-1 -6 0 -6 0 -6-1 -6 0 -6-1 -6 0 -6-1 -6 0 -6-1 -6-1 -6 0 -6-1 -6 0 -6-1 -6-1 -6 0 -6-1 -6-1 -6 0 -6-1 -6-1 -6-1 -6 0 -6-1 -6-1 -6-1 -6-1 -6 0 -6-1 -6-1 -6-1 -6-1 -6-1 -6 0 -6-1 -6-1 -6-1 -6-1 -6-1 -6-1 -6-1 -6-1 -6-1 -6-1 -6-1 -6-1 -6-1 -6-1 -6-2 -6-1 -6-1 -6-1 -6-2 -6-1 -6-1 -6-2 -6-1 -6-2 -6-1 -6-2 -6-2 -6-1 -6-2 -6-2 -6-2 -6-2 -6-2 -6-2 -6-3 -6-2 -6-3 -6-2 -6-3 -6-3 -6-3 -6-3 -6-3 -6-4 -6-4 -6-4 -6-5 -6-5 -6-5 -6-6 -6-5 -6-6 -6-7 -6-9 -6-11 -6-10 -6-9 -6-7 -6-1 -6 0 -6 1 -6 1 -6 2 -6 1 -6 2 -6 2 -6 2 -6 3 -6 2 -6 3 -6 4 -6 4 -6 4 -6 4 -6 5 -6 5 -6 4 -6 5 -6 4 -6 5 -6 4 -6 4 -6 4 -6 4 -6 5 -6 4 -6 5 -6 4 -6 4 -6 4 -6 3 -6 3 -6 3 -6 3 -6 2 -6 3 -6 2 -6 2 -6 2 -6 2 -6 2 -6 2 -6 2 -6 2 -6 1 -6 2 -6 1 -6 1 -6 1 -6 1 -6 1 -6 1 -6 0 -6 1 -6 0 -6 1 -6 0 -6 1 -6 0 -6 1 -6 0 -6 1 -6 0 -6 0 -6 1 -6 0 -6 0 -6 0 -6 1 -6 0 -6 0 -6 0 -6 0 -6 0 -6-1 -6 0 -6-1 -6 0 -6-1 -6-1 -6 0 -6-1 -6-1 -6-1 -6-1 -6-1 -6-1 -6 0 -6-1 -6-1 -6 0 -6 0 -6-1 -6 0 -6 0 -6 0 -6 1 -6 0 -6 1 -6 1 -6 1 -6 1 -6 1 -6 2 -6 1 -6 1 -6 2 -6 1 -6 2 -6 1 -6 2 -6 2 -6 1 -6 2 -6 1 -6 1 -6 2 -6 1 -6 1 -6 2 -6 1 -6 1 -6 2 -6 1 -6 2 -6 1 -6 2 -6 1 -6 2 -6 1 -6 2 -6 2 -6 1 -6 2z"/><path stroke-width="6" stroke-opacity="0.35" d="M3003 2211l6-5 6-25 6 48 6-17 6 5 6 77 6-96 6 40 6-19 6 9 6-21 6 21 6-8 6 16 6-53 6 56 6-28 6 4 6-55 6 40 6 38 6-7 6 13 6-19 6-17 6-50 6 46 6-6 6-3 6 3 6-35 6 1 6 43 6 18 6-13 6-3 6-49 6 53 6-23 6-29 6 57 6-32 6 15 6-53 6 50 6-46 6-12 6 43 6 10 6-21 6-1 6 33 6-35 6 25 6-38 6 17 6 5 6 43 6-20 6 62 6-17 6-42 6-70 6 43 6 7 6-5 6 18 6-6 6-14 6 22 6 29 6-70 6 76 6-10 6-30 6 28 6-21 6 8 6-19 6-30 6 94 6-75 6-21 6 2 6 0 6-10 6 19 6 8 6 46 6-75 6 5 6 34 6-17 6 48 6-106 6 61 6 9 6-3 6-34 6-25 6 63 6-32 6 7 6-53 6 65 6-40 6 5 6-32 6 21 6-45 6 19 6 48 6-71 6-5 6 96 6-48 6-60 6 88 6-51 6 52 6-61 6-80 6 68 6 10 6-94 6-20 6 107 6-5 6-70 6 50 6 5 6-1 6-95 6 63 6-32 6 82 6 13 6-26 6 43 6-13 6-7 6 29 6-13 6 8 6 11 6-7 6 59 6-111 6 91 6-27 6 78 6 19 6-110 6 22 6-10 6-21 6 45 6 13 6 14 6-4 6 11 6 11 6-16 6 1 6 21 6 18 6-4 6-102 6 101 6-10 6-3 6 43 6-37 6-31 6 32 6 13 6-4 6-8 6-14 6 46 6-32 6 65 6-26 6-11 6-73 6 46 6 0 6-48 6 48 6 4 6-21 6 47 6-23 6-33 6 45 6-40 6 15 6 17 6-52 6 9 6 60 6-5 6-29 6 80 6-20 6-79 6 38 6 27 6 16 6-2 6-55 6 55 6-6 6 4 6 6 6-77 6 10 6 31 6-4 6 21 6-11 6 17 6-57 6 43 6 25 6-76 6 35 6-3 6 42 6-23 6-60 6 57 6 22 6 9 6-46 6 5 6 44 6-44 6 27 6-16 6 20 6-73 6 70 6 19 6 15 6-10 6-27 6-47 6 10 6 50 6 5 6-45 6 41 6-5 6-9 6-29 6 63 6-65 6 9 6-22 6 51 6-7 6 8 6 9 6 5 6-38 6-2 6 24 6 9 6-2 6-60 6 33 6 9 6 29 6-57 6 29 6 20 6-36 6 79 6-81 6 49 6-21 6-29 6-11 6 61 6-59 6 44 6-24 6-8 6 39 6-7 6-4 6-31 6 36 6-11 6-3 6 18 6 0 6 1 6-36 6 65 6-1 6-51 6 13 6 40 6-11 6-68 6 44 6 4 6 4 6-11 6-10 6-35 6 48 6-25 6 37 6-6 6-17 6 7 6 9 6-27 6 5 6 7 6 18 6-3 6-3 6-6 6 3 6-7 6-26 6 43 6 19 6-37 6 26 6-22 6 38 6-27 6 30 6-30 6-14 6 19 6-13 6 2 6 3 6-50 6 11 6 52 6 12 6-22 6 46 6-65 6 22 6-17 6 5 6-7 6-22 6 46 6-45 6 44 6-13 6-3 6 41 6-56 6-1 6 27 6 26 6-37 6-32 6 42 6-24 6 32 6-15 6 19 6-31 6 29 6-50 6 56 6-9 6 10 6-7 6 30 6-19 6 4 6-28 6-20 6 3 6 20 6-3 6-18"/><path stroke-width="8" stroke-linejoin="bevel" d="M3003 2252l3-8 3 6 3-16 3 1 3 5 3-1 3-10 3 1 3-5 3 2 3-7 3-2 3-4 3 41 3-37 3 9 3-16 3 19 3 19 3-36 3 15 3-4 3 16 3-18 3-1 3-3 3-32 3 53 3 11 3-46 3 31 3-17 3 26 3-37 3 18 3 15 3-14 3-7 3-6 3-11 3 13 3-21 3 49 3-22 3-14 3-26 3 48 3 4 3-17 3 7 3 0 3-18 3-6 3 7 3 21 3-36 3-20 3 32 3-1 3-4 3 4 3-27 3 6 3 8 3 6 3 10 3 4 3-11 3-7 3-17 3 10 3-22 3 16 3 22 3 3 3-32 3 43 3-70 3 57 3-10 3-4 3 12 3-16 3 52 3-53 3 3 3 13 3-45 3 36 3-24 3 54 3-36 3 8 3-32 3 70 3-69 3 6 3 14 3-29 3 19 3 18 3 29 3 1 3-43 3 11 3 25 3 10 3-39 3 12 3 5 3 3 3-7 3 40 3-39 3 28 3-12 3 34 3-16 3-65 3 50 3-52 3 65 3-31 3-35 3 21 3 12 3 35 3-26 3 7 3-22 3 3 3-20 3 21 3 2 3 4 3-15 3 11 3-5 3 14 3-18 3 1 3-6 3 3 3 8 3-15 3 44 3-5 3-13 3 8 3-39 3 11 3 3 3 13 3 11 3 1 3-46 3 28 3 23 3-28 3 14 3-42 3 33 3-6 3-35 3 55 3 11 3-11 3-23 3 3 3-10 3 24 3-3 3 19 3-29 3 18 3-24 3-11 3 14 3-18 3-1 3 32 3-2 3-32 3-3 3 13 3-12 3 29 3-23 3-21 3 8 3 26 3 33 3-34 3-41 3 9 3 21 3-8 3 6 3 38 3-66 3-1 3 19 3 1 3 2 3 12 3-20 3 22 3-21 3 2 3-49 3 17 3 9 3 21 3-31 3-10 3 3 3 54 3-76 3 38 3-7 3 31 3-20 3-26 3 26 3 9 3-42 3-34 3 9 3 28 3-28 3 26 3 23 3-26 3 47 3-60 3-29 3 33 3 18 3-63 3 45 3 28 3-39 3 40 3-88 3 51 3-60 3-4 3 5 3 65 3-22 3 28 3-61 3-24 3 67 3-42 3-24 3 61 3 6 3-50 3 24 3 10 3-41 3 2 3 29 3 37 3-72 3 49 3-7 3-11 3-10 3-18 3 43 3-19 3-57 3 77 3-25 3 23 3 62 3-39 3-57 3 48 3-14 3 58 3-81 3 76 3-10 3-7 3 22 3 37 3-87 3 36 3 14 3 4 3-4 3 20 3-6 3-11 3-31 3 62 3 20 3-4 3-16 3 20 3-60 3 54 3-9 3-7 3 29 3-29 3-3 3-13 3-17 3 32 3 51 3 3 3-53 3 18 3 32 3-55 3 13 3-19 3 66 3-47 3 7 3 8 3-17 3 67 3-22 3 22 3-88 3 61 3-19 3-19 3 26 3 34 3-9 3-35 3 58 3-21 3-40 3 0 3 5 3 13 3-8 3-2 3 34 3-33 3 18 3-15 3 8 3 31 3-24 3 17 3-17 3 25 3-23 3 25 3-49 3 49 3-13 3-27 3 6 3-26 3 35 3 9 3-14 3 32 3-63 3 39 3-20 3 15 3 27 3-16 3 30 3-36 3-6 3 8 3-23 3 12 3 16 3 20 3-37 3 2 3-13 3 4 3 26 3 2 3 6 3-11 3 26 3-54 3 34 3 13 3-18 3 15 3-12 3-3 3 11 3-15 3 12 3 13 3-32 3 34 3 10 3 9 3-37 3 28 3-55 3 9 3 27 3-21 3 3 3-1 3 13 3-6 3-5 3 17 3-8 3 10 3 6 3 5 3-14 3-3 3 0 3-12 3 29 3-9 3 20 3-13 3-14 3 24 3-20 3 4 3 10 3-4 3-17 3 26 3-5 3-7 3-3 3 8 3-30 3 49 3-63 3 23 3 1 3 24 3-6 3 6 3-28 3 43 3-5 3-52 3 40 3-37 3 24 3 19 3-9 3-22 3 11 3 30 3-15 3 9 3-41 3 38 3-5 3-20 3 41 3-25 3 16 3-23 3 15 3 3 3-11 3 4 3 3 3-6 3-20 3 27 3-7 3 6 3-17 3 39 3-10 3 8 3 9 3-15 3-22 3-16 3 41 3-15 3 10 3 8 3-24 3-13 3 22 3-14 3-6 3 20 3-10 3 13 3-27 3 16 3-2 3 4 3-9 3 21 3-35 3 31 3 11 3-18 3 2 3-14 3 17 3 3 3-4 3 3 3 3 3-5 3-34 3 12 3 17 3 37 3-18 3-18 3-2 3-4 3 17 3-15 3 6 3-15 3 7 3-8 3 3 3 7 3 25 3-13 3 11 3-24 3 12 3-14 3 6 3 1 3-23 3 26 3-19 3 27 3-18 3-15 3 6 3 5 3 37 3-43 3 14 3 9 3-5 3 2 3 12 3-23 3 39 3-5 3-19 3 19 3-20 3-8 3-13 3 9 3 20 3-4 3 20 3-1 3-10 3-12 3 26 3-28 3-37 3 33 3 12 3 2 3 0 3 3 3-50 3 74 3-27 3-7 3-32 3 43 3-29 3-15 3 41 3-1 3-10 3-13 3 21 3-5 3 4 3 2 3-30 3 30 3-27 3 27 3-13 3-2 3 34 3-22 3 0 3 9 3 22 3-71 3 45 3-7 3 17 3-17 3-1 3 10 3-9 3-13 3 14 3 29 3-20 3-45 3 34 3-13 3 30 3-32 3 16 3 9 3 6 3-23 3 14 3 31 3-45 3 11 3-14 3 11 3 10 3-6 3 9 3-30 3 22 3-7 3-31 3 54 3-16 3-10 3 26 3-9 3-45 3 45 3 29 3-32 3 9 3-39 3 2 3 2 3 39 3-2 3-52 3 51 3-46 3 10 3 21 3-9 3 10 3 4 3 15 3-26 3-2 3-1 3 48 3-18 3 1 3-10 3-5 3 19 3-24 3-22 3-2 3 62 3-53 3 6 3 8 3 20 3-34 3 14 3 9 3-26 3 21 3 17 3-14 3-2 3 6 3-8 3-6 3-1 3 21 3-39 3 7 3 32 3 6 3-17 3-15 3-12 3 35 3-7 3 3 3 1 3-23 3 5 3 10 3-1 3-23 3 6 3 17 3 24 3 16 3-33 3-9 3 10 3-4 3-14 3-21 3 37 3-12 3 9 3-15 3 11 3 7 3-23 3 10 3 21 3 3 3-40 3 40 3 8 3-13 3 0 3-4 3 4 3-13 3 27 3-20 3-22 3 30 3 6 3-7 3-22 3 25 3-44 3 61 3-18 3-36 3-4 3 68 3-32 3-15 3 16 3-8 3 0 3 8 3 0 3-20 3 20 3-1 3-18 3 30 3-7 3-23 3 43 3-19 3 13 3-32 3 4 3 9 3-10 3 5 3-18 3 52"/></g>
<g transform="scale(0.1)" fill="none" stroke="#ff1010"><path fill="#ff1010" stroke="none" d="M3003 1875l6 1 6 1 6 0 6 1 6 1 6 1 6 0 6 1 6 1 6 0 6 1 6 1 6 1 6 0 6 1 6 1 6 1 6 0 6 1 6 1 6 1 6 0 6 1 6 1 6 0 6 1 6 0 6 1 6 0 6 0 6-2 6-4 6-14 6-35 6 24 6 25 6 8 6 4 6 2 6 2 6 2 6 1 6 1 6 1 6 1 6 1 6 1 6 0 6 1 6 0 6-1 6-1 6-4 6-9 6-26 6-81 6-43 6 105 6 36 6 5 6-29 6-2 6 41 6 13 6 5 6 3 6 1 6 1 6 1 6 0 6 1 6 0 6-1 6-3 6-8 6-25 6 16 6 16 6 4 6 2 6 0 6 1 6-1 6-1 6-1 6-4 6-9 6-24 6-69 6 14 6 61 6 20 6 7 6 2 6 1 6-1 6-2 6-2 6-2 6-3 6-2 6-3 6-3 6-4 6-5 6-6 6-7 6-10 6-14 6-23 6-44 6-86 6-62 6 80 6 68 6 31 6 15 6 7 6 4 6 2 6 1 6 1 6 0 6 0 6 0 6-1 6 0 6 0 6-1 6 0 6-1 6-1 6-2 6-3 6-7 6-22 6-101 6-26 6 122 6 26 6 8 6 4 6 1 6 1 6 0 6-1 6-3 6-4 6-10 6-18 6-28 6 1 6 29 6 20 6 11 6 6 6 4 6 2 6 2 6 2 6 0 6 0 6-1 6-3 6-9 6-21 6-57 6-85 6 68 6 72 6 30 6 13 6 8 6 4 6 2 6 0 6-6 6-19 6-42 6 17 6 42 6 18 6 9 6 5 6 3 6 2 6 0 6-1 6-4 6-14 6-34 6-4 6 39 6 18 6 8 6 3 6 0 6-5 6-21 6 8 6 20 6 7 6 3 6 2 6 1 6 0 6-2 6-3 6-9 6-20 6-24 6 18 6 25 6 12 6 6 6 4 6 1 6 2 6 1 6 0 6 1 6 0 6 1 6 0 6 0 6 0 6 0 6 0 6 0 6 0 6 0 6-1 6-2 6-3 6-7 6-15 6-15 6 15 6 15 6 8 6 3 6 2 6 1 6 0 6 1 6 0 6 0 6-1 6-1 6-3 6-4 6-12 6-29 6-9 6 31 6 16 6 6 6 2 6 1 6 0 6-2 6-2 6-5 6-10 6-22 6-45 6-28 6 46 6 37 6 17 6 8 6 5 6 2 6 2 6 1 6 1 6 1 6 0 6 0 6 0 6 0 6 0 6 0 6-1 6-1 6-2 6-3 6-6 6-12 6-27 6-39 6 17 6 37 6 19 6 9 6 5 6 3 6 1 6 2 6 0 6 1 6 1 6 0 6 0 6 1 6 0 6 0 6 0 6 1 6 0 6 0 6 0 6 0 6 0 6 0 6 0 6 1 6 0 6 0 6 0 6-1 6 0 6 0 6 0 6-1 6-1 6-2 6-4 6-8 6-21 6-42 6 13 6 38 6 16 6 6 6 4 6 2 6 1 6 0 6 1 6 0 6 1 6 0 6 0 6 0 6-1 6-1 6-2 6-4 6-12 6-12 6 15 6 10 6 4 6 2 6 1 6 0 6 0 6-1 6-1 6-4 6-12 6-16 6 12 6 14 6 6 6 3 6 1 6 1 6 0 6 1 6 0 6 0 6 1 6 0 6 0 6 0 6 0 6 0 6 1 6 0 6 0 6 0 6 0 6 0 6 0 6 0 6 1 6 0 0 34 -6 0 -6-1 -6 0 -6 0 -6 0 -6 0 -6 0 -6 0 -6 0 -6-1 -6 0 -6 0 -6 0 -6 0 -6 0 -6-1 -6 0 -6 0 -6-1 -6 0 -6-1 -6-1 -6-3 -6-5 -6-14 -6-13 -6 17 -6 11 -6 4 -6 2 -6 0 -6 0 -6 0 -6-1 -6-1 -6-4 -6-11 -6-15 -6 12 -6 12 -6 5 -6 2 -6 0 -6 1 -6 0 -6 0 -6 0 -6 0 -6-1 -6 0 -6-1 -6-1 -6-2 -6-3 -6-7 -6-16 -6-37 -6-13 -6 41 -6 21 -6 9 -6 3 -6 2 -6 2 -6 0 -6 1 -6 0 -6 0 -6 0 -6 0 -6 0 -6 0 -6 0 -6 0 -6 0 -6 0 -6 0 -6-1 -6 0 -6 0 -6 0 -6 0 -6 0 -6-1 -6 0 -6 0 -6-1 -6 0 -6-1 -6-1 -6-1 -6-2 -6-2 -6-5 -6-9 -6-19 -6-38 -6-16 -6 39 -6 27 -6 12 -6 6 -6 3 -6 2 -6 1 -6 0 -6 1 -6 0 -6 0 -6 0 -6 0 -6-1 -6 0 -6-1 -6-1 -6-2 -6-2 -6-5 -6-8 -6-17 -6-37 -6-46 -6 28 -6 45 -6 22 -6 10 -6 5 -6 2 -6 2 -6 0 -6-1 -6-2 -6-6 -6-16 -6-31 -6 9 -6 28 -6 12 -6 5 -6 3 -6 1 -6 0 -6 1 -6 0 -6-1 -6 0 -6-1 -6-2 -6-3 -6-8 -6-15 -6-15 -6 15 -6 15 -6 7 -6 3 -6 2 -6 1 -6 0 -6 1 -6 0 -6 0 -6-1 -6 0 -6 0 -6 0 -6-1 -6 0 -6 0 -6-1 -6-1 -6-1 -6-2 -6-3 -6-6 -6-12 -6-25 -6-18 -6 23 -6 21 -6 8 -6 4 -6 1 -6 0 -6 0 -6-2 -6-3 -6-7 -6-20 -6-8 -6 21 -6 6 -6-1 -6-3 -6-8 -6-18 -6-38 -6 4 -6 34 -6 13 -6 5 -6 1 -6 0 -6-2 -6-3 -6-5 -6-8 -6-19 -6-42 -6-16 -6 42 -6 19 -6 6 -6 1 -6-3 -6-4 -6-7 -6-14 -6-29 -6-72 -6-68 -6 85 -6 56 -6 22 -6 9 -6 3 -6 2 -6 0 -6-1 -6-1 -6-2 -6-3 -6-4 -6-6 -6-10 -6-20 -6-29 -6-1 -6 27 -6 19 -6 10 -6 4 -6 2 -6 2 -6 0 -6-1 -6-1 -6-4 -6-8 -6-26 -6-122 -6 26 -6 101 -6 22 -6 7 -6 3 -6 2 -6 1 -6 1 -6 0 -6 1 -6 0 -6 0 -6 1 -6 0 -6 0 -6 0 -6-1 -6-1 -6-2 -6-4 -6-8 -6-14 -6-32 -6-68 -6-80 -6 62 -6 86 -6 44 -6 22 -6 14 -6 10 -6 7 -6 6 -6 5 -6 3 -6 3 -6 3 -6 3 -6 2 -6 2 -6 2 -6 1 -6 1 -6 0 -6-3 -6-6 -6-20 -6-61 -6-14 -6 69 -6 24 -6 8 -6 4 -6 2 -6 1 -6 0 -6 0 -6-1 -6-1 -6-5 -6-16 -6-16 -6 25 -6 9 -6 2 -6 1 -6 0 -6 0 -6 0 -6-1 -6-1 -6-2 -6-2 -6-5 -6-13 -6-42 -6 3 -6 28 -6-4 -6-36 -6-105 -6 43 -6 81 -6 26 -6 9 -6 4 -6 2 -6 0 -6 0 -6 0 -6-1 -6-1 -6 0 -6-1 -6-1 -6-1 -6-2 -6-1 -6-2 -6-2 -6-4 -6-8 -6-25 -6-24 -6 35 -6 14 -6 5 -6 1 -6 0 -6 0 -6 0 -6-1 -6 0 -6-1 -6 0 -6-1 -6-1 -6 0 -6-1 -6-1 -6-1 -6 0 -6-1 -6-1 -6 0 -6-1 -6-1 -6 0 -6-1 -6-1 -6-1 -6 0 -6-1 -6-1 -6 0 -6-1 -6-1 -6 0z"/><path stroke-width="6" stroke-opacity="0.35" d="M3003 1912l6 42 6 9 6-80 6 12 6 31 6-20 6-80 6 86 6-2 6 3 6 6 6 6 6-25 6-39 6 61 6 21 6-44 6-24 6 66 6-66 6 16 6 30 6-58 6 46 6-39 6 75 6-50 6 40 6-48 6 13 6-63 6 107 6-61 6-67 6 38 6 31 6 31 6 36 6-37 6 42 6-59 6 85 6-111 6 111 6-63 6 3 6-7 6 31 6-68 6 66 6-43 6 15 6 6 6-25 6-18 6-57 6-46 6 122 6-47 6 53 6-2 6-14 6 4 6 44 6 24 6 10 6-11 6-29 6 16 6 24 6-50 6 35 6-30 6-6 6 13 6-4 6 3 6 33 6-30 6 15 6-8 6 16 6 9 6 26 6-49 6 20 6 38 6-113 6-31 6-15 6 28 6 29 6 43 6-25 6 31 6 33 6-33 6-2 6-20 6 56 6-32 6-15 6 23 6-15 6-18 6 50 6-85 6 5 6-1 6-32 6-44 6-53 6-103 6 32 6 93 6 51 6 30 6-34 6 63 6-7 6 38 6 32 6-53 6-3 6-37 6 19 6 44 6-23 6-53 6-12 6 55 6-20 6-28 6-5 6 10 6-99 6-17 6-34 6 158 6-14 6 57 6-79 6 58 6-23 6 80 6-71 6-14 6-1 6-15 6 4 6 49 6-98 6 46 6 74 6-65 6 52 6-6 6-94 6 136 6-126 6 71 6 30 6-59 6 19 6-41 6 53 6-86 6-83 6 33 6 104 6-26 6 117 6-37 6 63 6-31 6-16 6 13 6-43 6-54 6 43 6-28 6 23 6-22 6 129 6-15 6-53 6 49 6 12 6-45 6-35 6-57 6 52 6 36 6 14 6-4 6-45 6 31 6 7 6-30 6 27 6 5 6-1 6 63 6-19 6 6 6 16 6-48 6-13 6 21 6-41 6-46 6 54 6 6 6 23 6 32 6-26 6 25 6-15 6 10 6-18 6 0 6 22 6-39 6 50 6 6 6-55 6 12 6 30 6-49 6 42 6-53 6 80 6-11 6-10 6-58 6 52 6-74 6 34 6 6 6 28 6-30 6 37 6-24 6-20 6 97 6-78 6 15 6 5 6-9 6 5 6-24 6 24 6-60 6-38 6 13 6 47 6 31 6 36 6-54 6 6 6 18 6 56 6-76 6 34 6-50 6-64 6-9 6 43 6 33 6 9 6 1 6 47 6 4 6-34 6-8 6 45 6-7 6-37 6 42 6-35 6-11 6 58 6-53 6 31 6-20 6 5 6-5 6-7 6-70 6 11 6 0 6 20 6-7 6-10 6 22 6 50 6-18 6 2 6 26 6 3 6-41 6 45 6-21 6 6 6 18 6-18 6 27 6-23 6 22 6 25 6-76 6 26 6 26 6-57 6 26 6 3 6-2 6 23 6-23 6 58 6-60 6-1 6 6 6 26 6-66 6 31 6 32 6-42 6-14 6 43 6-74 6-8 6 18 6 97 6-33 6-12 6 61 6-46 6-6 6-24 6 12 6-34 6 67 6-28 6 4 6-11 6-6 6 31 6-25 6 21 6-31 6 22 6 14 6-31 6 73 6-80 6 19 6 9 6 1 6 5 6-27 6-33 6-2 6 52 6 18 6-33 6 46 6-12 6-17 6 19 6-6 6-23 6 28 6 0 6-3 6-12 6 4 6-34 6 13 6-15 6 40 6-17 6 26 6-36 6 7 6-27 6 57 6-35 6 45"/><path stroke-width="8" stroke-linejoin="bevel" d="M3003 1935l3-39 3-2 3-7 3-24 3-15 3 48 3-16 3 34 3 8 3-58 3 4 3 38 3 28 3 4 3-52 3 18 3 32 3-51 3-5 3 55 3-47 3-11 3 65 3-47 3 1 3 24 3 21 3-16 3-12 3 5 3 0 3-3 3-45 3 46 3-37 3 14 3 21 3-6 3 12 3-9 3 12 3 31 3-66 3 50 3 17 3-51 3 2 3 6 3 13 3-26 3 8 3 8 3 2 3 31 3-43 3 30 3-1 3-13 3-1 3-21 3 1 3 23 3-4 3-14 3 26 3-31 3-19 3-23 3 31 3 9 3 10 3-25 3 69 3-63 3 41 3-33 3-7 3-17 3 55 3 4 3-14 3-2 3-18 3 28 3-4 3-26 3 22 3 4 3-16 3 47 3-50 3 68 3-16 3-34 3 44 3-10 3 3 3-22 3-24 3-23 3 49 3-8 3-11 3 54 3-34 3-43 3 24 3 8 3-45 3 13 3-41 3-75 3-17 3 19 3 1 3 99 3 3 3 17 3-21 3 12 3 47 3-41 3-36 3 21 3 8 3 29 3-6 3 27 3-25 3 29 3 13 3-21 3 11 3 2 3-15 3-17 3 49 3-19 3-7 3 31 3-41 3 6 3-4 3-6 3 17 3-10 3 39 3-42 3 34 3-47 3 0 3-7 3-16 3 45 3-15 3 4 3 30 3-27 3 28 3 9 3-5 3 12 3-35 3 32 3-34 3-22 3 28 3 41 3-58 3 52 3-63 3 43 3-11 3-24 3-43 3 41 3-28 3-45 3-10 3-1 3 93 3 1 3-19 3 64 3-38 3 12 3 8 3-32 3 0 3 14 3-19 3 17 3 31 3-50 3 23 3-14 3 27 3-42 3 0 3 18 3 43 3-62 3-17 3 13 3 33 3 3 3-22 3 4 3-37 3 35 3-14 3-13 3 31 3-3 3-37 3 10 3-54 3 11 3 43 3-67 3-14 3 21 3-114 3-14 3-15 3-42 3 22 3 44 3 70 3 1 3 48 3 2 3 12 3 32 3-33 3-8 3 25 3 8 3-10 3-35 3 57 3-57 3-5 3 70 3 14 3-43 3-13 3 53 3-65 3 31 3-13 3 28 3-7 3-26 3 45 3-9 3-18 3-7 3 5 3-29 3 25 3-1 3 19 3-19 3-6 3 15 3 16 3-11 3-19 3-12 3 35 3-46 3-61 3-36 3-139 3 96 3 112 3 18 3 13 3 35 3 15 3-48 3-2 3 12 3-10 3 40 3 6 3-20 3-23 3-12 3 33 3-15 3 28 3-42 3 15 3 1 3 30 3-11 3-15 3-18 3-2 3-73 3 59 3-21 3 56 3 0 3 19 3-36 3 76 3-35 3-4 3-17 3 24 3-56 3 82 3-18 3-12 3 34 3-19 3-1 3-22 3 20 3-34 3 1 3 28 3-18 3-18 3 24 3-41 3 72 3-64 3-13 3 33 3-103 3-65 3 13 3 12 3 79 3 19 3-6 3 56 3 4 3 41 3-15 3-23 3 9 3 18 3-8 3 15 3 2 3-30 3 29 3 10 3-46 3-12 3 34 3-24 3-14 3 12 3-18 3 5 3 44 3-7 3 29 3 12 3-9 3 12 3-9 3 7 3-27 3 57 3-46 3 6 3-6 3 8 3-4 3-32 3 66 3-28 3-21 3-10 3 1 3-16 3-2 3 33 3-45 3 72 3-14 3-5 3-2 3 23 3-33 3 39 3-21 3 27 3-51 3 32 3-29 3-18 3 57 3 10 3-30 3 16 3 36 3-24 3-12 3-5 3 4 3 25 3 7 3-24 3-12 3 3 3-19 3 40 3-11 3 16 3 16 3-25 3-43 3-13 3-27 3-10 3 85 3-15 3-22 3 47 3-45 3 37 3 8 3-11 3 3 3 24 3-22 3 30 3-51 3 25 3 38 3-48 3 0 3 19 3-9 3 13 3 14 3-8 3-6 3-11 3 11 3 13 3-32 3 8 3-12 3 20 3 3 3-12 3-10 3 6 3 25 3-22 3 25 3-26 3-3 3 27 3-28 3 33 3-58 3 36 3-11 3 0 3 7 3-46 3 64 3-55 3 45 3-23 3-1 3-22 3 64 3-14 3 12 3-46 3-2 3 25 3 17 3 5 3 8 3-37 3-8 3 37 3-30 3 16 3 37 3-43 3 14 3-2 3-5 3 6 3 1 3-8 3 24 3-12 3-37 3 38 3-30 3-17 3-28 3 14 3-10 3 4 3 14 3 44 3-20 3 2 3 51 3-34 3 7 3-9 3-2 3-17 3 29 3-8 3-20 3 12 3 31 3-28 3-7 3-16 3-5 3 11 3-8 3-30 3-14 3-54 3 3 3 33 3 40 3-6 3 40 3-25 3 44 3 8 3-24 3 14 3 9 3-23 3 6 3 0 3 18 3 7 3-31 3 4 3 24 3-22 3 8 3 17 3-12 3 17 3-16 3-4 3-10 3-26 3 31 3-24 3 44 3 0 3-6 3 11 3 17 3-66 3 27 3 15 3-19 3 1 3 19 3-13 3-35 3 43 3-46 3 7 3-10 3-59 3 39 3-18 3 12 3 28 3-1 3 28 3 6 3-43 3 21 3 39 3-32 3 29 3-11 3 16 3-42 3 33 3-1 3 5 3-1 3-2 3 5 3 2 3-17 3 34 3-24 3-10 3 21 3-35 3 42 3-23 3 7 3-1 3 8 3-19 3 3 3 14 3-17 3 10 3-2 3-4 3-5 3-2 3 6 3-13 3 2 3 59 3-40 3 15 3-10 3 7 3-10 3 15 3-13 3 1 3-25 3 37 3-20 3 3 3 7 3-2 3-5 3 21 3-35 3-19 3 28 3-32 3 34 3 23 3 5 3-44 3 24 3-27 3 24 3 15 3-34 3 31 3-25 3 26 3-61 3-24 3 14 3-12 3 13 3 0 3 31 3-1 3 39 3-10 3-19 3 0 3-9 3 15 3 10 3 8 3 11 3-25 3 29 3-53 3 32 3 12 3-19 3 13 3 9 3-22 3 12 3 15 3-37 3 37 3-20 3-22 3 30 3 4 3-14 3 8 3 1 3-9 3-1 3 6 3-8 3-21 3-33 3 16 3 23 3 31 3-7 3 24 3-20 3 0 3-11 3 26 3-42 3 28 3-8 3-6 3 24 3-5 3-5 3-12 3-19 3 0 3-21 3 14 3 19 3 8 3-47 3 41 3 20 3-4 3 15 3-24 3-6 3 14 3 12 3-7 3-4 3 11 3-27 3 27 3-44 3 55 3 0 3 12 3-49 3 6 3-8 3-6 3-14 3 50 3-16 3 1 3-26 3 31 3 30 3-30 3 11 3-32 3 36 3-18 3 3 3 4 3-10 3 15 3-12 3-6 3-10 3-1 3 32 3 4 3-19 3-1 3-6 3 12 3 20 3-18 3-13 3 25 3-4"/></g>
<g transform="scale(0.1)" fill="none" stroke="#00ee10"><path fill="#00ee10" stroke="none" d="M3003 1616l6 0 6 1 6 0 6 1 6 0 6 1 6 0 6 1 6 0 6 1 6 0 6 1 6 0 6 1 6 1 6 0 6 1 6 0 6 1 6 1 6 0 6 1 6 0 6 1 6 0 6 1 6 0 6 0 6 0 6 0 6-2 6-5 6-16 6-39 6 27 6 27 6 9 6 4 6 3 6 2 6 1 6 1 6 2 6 1 6 1 6 0 6 1 6 1 6 0 6 0 6 0 6-2 6-5 6-10 6-29 6-91 6-47 6 117 6 40 6 5 6-32 6-3 6 46 6 15 6 6 6 2 6 2 6 1 6 1 6 0 6 1 6-1 6-1 6-2 6-10 6-28 6 18 6 18 6 5 6 1 6 1 6 0 6 0 6-1 6-2 6-4 6-10 6-27 6-77 6 16 6 68 6 22 6 8 6 3 6 1 6-1 6-1 6-1 6-2 6-2 6-3 6-2 6-4 6-4 6-6 6-7 6-11 6-13 6-20 6-34 6-66 6-131 6-95 6 123 6 105 6 48 6 22 6 12 6 6 6 3 6 2 6 1 6 0 6 0 6 0 6 0 6-1 6 0 6-1 6-1 6-1 6-1 6-3 6-5 6-11 6-33 6-156 6-39 6 187 6 40 6 12 6 5 6 3 6 1 6 0 6-1 6-3 6-5 6-10 6-21 6-31 6 2 6 31 6 23 6 12 6 6 6 4 6 3 6 2 6 2 6 0 6 0 6-1 6-5 6-9 6-25 6-63 6-95 6 76 6 80 6 33 6 15 6 8 6 5 6 2 6-1 6-6 6-22 6-47 6 18 6 47 6 20 6 10 6 5 6 3 6 2 6 0 6-1 6-6 6-16 6-38 6-4 6 42 6 20 6 9 6 3 6 0 6-7 6-24 6 9 6 22 6 8 6 3 6 2 6 0 6 0 6-2 6-4 6-10 6-23 6-27 6 21 6 27 6 14 6 6 6 4 6 2 6 1 6 1 6 1 6 0 6 1 6 0 6 1 6 0 6 0 6 0 6 0 6 0 6 0 6-1 6-1 6-2 6-3 6-8 6-17 6-16 6 16 6 17 6 8 6 4 6 2 6 1 6 1 6 0 6 0 6 0 6-1 6-1 6-3 6-5 6-14 6-31 6-10 6 35 6 17 6 6 6 3 6 1 6 0 6-2 6-3 6-5 6-11 6-25 6-50 6-32 6 52 6 41 6 19 6 10 6 5 6 2 6 2 6 2 6 0 6 1 6 0 6 1 6 0 6 0 6 0 6-1 6-1 6-1 6-2 6-3 6-7 6-14 6-30 6-43 6 18 6 42 6 22 6 10 6 5 6 3 6 2 6 1 6 1 6 1 6 0 6 1 6 0 6 0 6 1 6 0 6 0 6 0 6 1 6 0 6 0 6 0 6 0 6 0 6 0 6 0 6 0 6 0 6 0 6 0 6 0 6 0 6-1 6 0 6-2 6-2 6-4 6-9 6-24 6-46 6 14 6 42 6 18 6 7 6 4 6 2 6 1 6 1 6 1 6 0 6 0 6 0 6 0 6 0 6 0 6-1 6-2 6-6 6-13 6-13 6 17 6 11 6 5 6 2 6 1 6 0 6 0 6-1 6-2 6-5 6-12 6-19 6 14 6 16 6 6 6 3 6 2 6 1 6 0 6 1 6 0 6 0 6 0 6 1 6 0 6 0 6 0 6 0 6 0 6 1 6 0 6 0 6 0 6 0 6 0 6 0 6 1 6 0 0 34 -6 0 -6-1 -6 0 -6 0 -6 0 -6 0 -6 0 -6 0 -6 0 -6-1 -6 0 -6 0 -6 0 -6 0 -6 0 -6-1 -6 0 -6 0 -6-1 -6 0 -6-1 -6-2 -6-2 -6-7 -6-15 -6-15 -6 19 -6 12 -6 5 -6 2 -6 1 -6 0 -6 0 -6-1 -6-2 -6-5 -6-11 -6-17 -6 13 -6 14 -6 5 -6 2 -6 1 -6 1 -6 0 -6 0 -6 0 -6-1 -6 0 -6-1 -6 0 -6-2 -6-2 -6-3 -6-8 -6-18 -6-42 -6-14 -6 47 -6 23 -6 9 -6 5 -6 2 -6 1 -6 1 -6 0 -6 1 -6 0 -6 0 -6 0 -6 0 -6 0 -6 0 -6 0 -6 0 -6 0 -6-1 -6 0 -6 0 -6 0 -6 0 -6 0 -6-1 -6 0 -6 0 -6-1 -6 0 -6-1 -6 0 -6-1 -6-1 -6-2 -6-3 -6-6 -6-10 -6-21 -6-42 -6-18 -6 43 -6 30 -6 14 -6 6 -6 4 -6 2 -6 1 -6 1 -6 0 -6 1 -6 0 -6-1 -6 0 -6 0 -6-1 -6-1 -6-1 -6-2 -6-3 -6-5 -6-9 -6-19 -6-41 -6-52 -6 32 -6 50 -6 24 -6 12 -6 5 -6 3 -6 1 -6 1 -6-1 -6-3 -6-6 -6-18 -6-34 -6 10 -6 31 -6 14 -6 5 -6 3 -6 1 -6 1 -6 0 -6 0 -6 0 -6-1 -6-1 -6-2 -6-4 -6-8 -6-17 -6-16 -6 16 -6 17 -6 8 -6 3 -6 2 -6 1 -6 1 -6 0 -6 0 -6 0 -6 0 -6 0 -6 0 -6-1 -6 0 -6 0 -6-1 -6-1 -6-1 -6-1 -6-2 -6-4 -6-6 -6-13 -6-28 -6-20 -6 26 -6 23 -6 10 -6 5 -6 1 -6 1 -6-1 -6-1 -6-3 -6-8 -6-22 -6-9 -6 24 -6 7 -6 0 -6-3 -6-8 -6-21 -6-42 -6 5 -6 38 -6 16 -6 5 -6 2 -6 0 -6-2 -6-3 -6-5 -6-10 -6-20 -6-47 -6-17 -6 47 -6 21 -6 7 -6 1 -6-2 -6-5 -6-8 -6-15 -6-33 -6-80 -6-76 -6 96 -6 63 -6 24 -6 10 -6 4 -6 2 -6 0 -6 0 -6-2 -6-2 -6-2 -6-4 -6-7 -6-12 -6-22 -6-32 -6-1 -6 30 -6 21 -6 11 -6 5 -6 2 -6 1 -6 0 -6-1 -6-2 -6-5 -6-13 -6-39 -6-187 -6 39 -6 156 -6 33 -6 11 -6 5 -6 2 -6 2 -6 1 -6 1 -6 0 -6 1 -6 0 -6 1 -6 0 -6 0 -6-1 -6-1 -6-1 -6-4 -6-6 -6-11 -6-23 -6-48 -6-105 -6-123 -6 95 -6 130 -6 66 -6 33 -6 20 -6 14 -6 10 -6 7 -6 6 -6 4 -6 3 -6 3 -6 2 -6 2 -6 2 -6 1 -6 1 -6 0 -6-1 -6-3 -6-7 -6-22 -6-69 -6-16 -6 78 -6 27 -6 9 -6 4 -6 2 -6 1 -6 1 -6 0 -6-1 -6-2 -6-5 -6-17 -6-18 -6 28 -6 9 -6 3 -6 1 -6 0 -6 0 -6 0 -6-1 -6-1 -6-2 -6-3 -6-5 -6-15 -6-46 -6 3 -6 32 -6-5 -6-40 -6-117 -6 47 -6 91 -6 29 -6 11 -6 4 -6 2 -6 1 -6 0 -6 0 -6-1 -6-1 -6-1 -6 0 -6-1 -6-2 -6-1 -6-1 -6-2 -6-2 -6-5 -6-9 -6-27 -6-27 -6 39 -6 17 -6 5 -6 1 -6 1 -6 0 -6 0 -6 0 -6-1 -6 0 -6-1 -6 0 -6-1 -6-1 -6 0 -6-1 -6 0 -6-1 -6 0 -6-1 -6 0 -6-1 -6 0 -6-1 -6-1 -6 0 -6-1 -6 0 -6-1 -6 0 -6 0 -6-1 -6 0 -6-1z"/><path stroke-width="6" stroke-opacity="0.35" d="M3003 1584l6 97 6-41 6-35 6 34 6 56 6-41 6-28 6 20 6 5 6-43 6 36 6 52 6-67 6 28 6-10 6-4 6-47 6 82 6-52 6 47 6-9 6-17 6-5 6 15 6 20 6 9 6 36 6-52 6-30 6 34 6-70 6 23 6 5 6-50 6 77 6-27 6 22 6-44 6 62 6-32 6 17 6 34 6-95 6 67 6-1 6-29 6 39 6-8 6 2 6 43 6-35 6 31 6-61 6 2 6-50 6-51 6-33 6 91 6 42 6-15 6-57 6 7 6 87 6-16 6 66 6-60 6 42 6 10 6-38 6 32 6-36 6 60 6-43 6 5 6-46 6 19 6 6 6 28 6-5 6 12 6-44 6 19 6 34 6-25 6 11 6 14 6-77 6-6 6-65 6-4 6 95 6-7 6 3 6 56 6-35 6 6 6 16 6-11 6 20 6-11 6-47 6-4 6 16 6 15 6 24 6-47 6 22 6-52 6-61 6 21 6-26 6-151 6-112 6 96 6 124 6 48 6-32 6 68 6 11 6-13 6 22 6 25 6-71 6 22 6 21 6-24 6-9 6-60 6 70 6-19 6 29 6 67 6-59 6 8 6-61 6 57 6-227 6-45 6 200 6 53 6 3 6-33 6 103 6-139 6 62 6 9 6 31 6-120 6 72 6-29 6 32 6-40 6-4 6-18 6 72 6 22 6 59 6-125 6 19 6 33 6 6 6 11 6-41 6 44 6-4 6-19 6-99 6-49 6-36 6 144 6 48 6 4 6 66 6-78 6 43 6 26 6-9 6-41 6-131 6 48 6 73 6 58 6-59 6 17 6 21 6 23 6 48 6-54 6 18 6-9 6-76 6-55 6 56 6 47 6 42 6-30 6 73 6-82 6 3 6 19 6-11 6 10 6 19 6 29 6-16 6-25 6 29 6-83 6 78 6-26 6-70 6 57 6-7 6 49 6 15 6-53 6 41 6 38 6-62 6 24 6-24 6 60 6-74 6-31 6 79 6-2 6-31 6 11 6 8 6 15 6 38 6-66 6 26 6-4 6-16 6 16 6-37 6 27 6-49 6 70 6-3 6-23 6-2 6 37 6-2 6 6 6 3 6 11 6-53 6 29 6-16 6-56 6-8 6 0 6 72 6-33 6 5 6 39 6 4 6-10 6-30 6-5 6 15 6-55 6 30 6-58 6-40 6 58 6 36 6 30 6-27 6 29 6-7 6 8 6-21 6 6 6-11 6-6 6 51 6-9 6-3 6-50 6 53 6-14 6-18 6 49 6-33 6-4 6-43 6-37 6-48 6 62 6 44 6-5 6 57 6-29 6 7 6-29 6 27 6 18 6 11 6 1 6-23 6-33 6 8 6 19 6-4 6 21 6-29 6 49 6-58 6 12 6 12 6-7 6 6 6 7 6 6 6-2 6-44 6 55 6-29 6 7 6 5 6 14 6-26 6 6 6 5 6-38 6 6 6-5 6-57 6 26 6-16 6 47 6 58 6-20 6-20 6 8 6 3 6 31 6-26 6 8 6-27 6 16 6 26 6-14 6 33 6-63 6-1 6-18 6-6 6 55 6-4 6 9 6-3 6-33 6 28 6-25 6 8 6-10 6-10 6 7 6 15 6-29 6 52 6-20 6-43 6 104 6-54 6 21 6-34 6 25 6 2 6-11 6 44 6-43 6 19 6 9 6-25 6 17 6-55 6 30 6 8 6 5 6-29 6 20 6 14 6-19 6 12"/><path stroke-width="8" stroke-linejoin="bevel" d="M3003 1645l3-11 3 5 3-25 3 47 3-14 3 9 3-45 3 20 3-11 3 49 3-37 3 52 3-38 3-21 3 38 3 11 3-40 3-8 3 11 3-23 3 3 3-23 3 33 3-14 3 30 3 3 3 16 3-16 3-10 3 32 3-41 3-29 3 16 3 19 3 21 3 9 3-41 3 43 3-14 3 6 3-33 3 16 3-39 3 46 3-9 3 22 3 9 3-41 3 37 3 4 3-28 3 44 3-53 3-13 3 29 3 35 3-24 3-46 3 25 3 34 3-40 3 11 3-20 3 57 3-11 3-70 3-29 3 27 3 2 3 14 3 19 3 2 3 30 3 3 3 10 3-6 3-27 3 4 3 4 3 8 3-15 3-2 3 12 3-3 3 7 3 34 3-5 3-35 3 12 3-7 3-10 3 26 3-47 3 41 3-9 3-18 3 33 3 9 3-14 3 3 3-25 3 25 3 18 3-49 3 60 3-77 3 46 3-34 3 4 3-22 3-33 3-40 3-86 3 24 3 86 3 25 3-10 3 43 3 5 3-7 3 18 3-31 3-37 3 21 3 14 3 33 3 53 3-59 3 68 3-33 3-1 3-5 3-11 3 34 3-17 3-5 3 11 3 29 3-36 3 6 3 27 3-42 3 33 3 28 3-44 3-30 3 46 3-25 3 27 3-21 3-16 3-37 3 38 3 4 3 11 3 7 3 3 3-2 3-4 3-27 3 19 3 4 3 26 3 0 3-36 3 8 3-3 3 16 3-1 3 4 3-24 3 4 3 39 3-63 3 37 3-30 3-27 3-61 3-24 3 51 3 27 3 27 3 10 3 20 3-4 3-1 3 18 3-6 3-26 3 23 3 25 3-17 3 19 3-58 3 37 3-43 3 45 3-24 3 8 3 10 3-25 3 2 3 4 3 19 3 10 3-41 3-5 3 16 3-27 3-6 3 32 3-24 3 36 3-54 3 42 3-13 3-40 3 0 3-67 3 34 3-31 3-57 3-10 3-153 3-9 3-35 3 52 3 37 3 109 3 17 3 44 3 36 3-26 3-24 3 66 3 3 3-7 3-7 3-4 3 25 3 12 3-22 3 40 3-34 3 20 3-18 3 4 3 23 3-7 3 12 3-2 3-24 3 16 3-6 3-1 3 8 3-17 3 1 3 8 3-34 3 41 3 3 3-71 3 64 3-35 3-4 3 32 3-39 3 22 3-27 3-25 3 47 3-106 3-119 3-121 3 152 3 50 3 121 3-17 3 35 3 1 3 31 3-39 3 63 3-51 3-22 3 37 3 15 3-3 3 7 3-27 3 37 3-14 3-43 3 10 3-10 3 6 3 5 3-24 3-6 3 6 3-13 3 7 3-82 3 58 3 15 3 17 3 1 3 6 3 42 3 17 3-51 3 44 3-64 3 62 3 27 3-15 3-39 3 0 3 13 3 36 3-21 3-3 3 6 3-35 3-25 3 33 3-1 3 13 3-11 3 39 3-74 3-27 3 4 3-84 3 1 3 18 3 34 3 47 3-18 3 81 3-11 3 18 3 14 3-13 3-20 3 12 3-8 3 42 3-19 3 2 3-12 3 4 3-25 3 18 3-38 3 5 3-35 3 9 3 35 3 15 3 13 3 26 3-19 3 15 3 13 3-32 3 17 3 54 3-34 3 0 3 8 3-14 3-5 3 2 3 25 3 9 3-45 3 2 3 1 3-46 3 1 3 4 3 11 3 43 3-27 3 18 3 24 3-5 3 19 3-19 3-31 3 17 3-16 3 31 3 16 3-23 3-33 3-33 3 50 3 1 3 9 3 17 3 42 3-45 3-5 3-11 3 42 3-33 3-16 3 24 3 14 3-28 3 19 3-30 3 49 3-47 3 14 3-25 3-7 3-1 3-26 3 13 3 38 3 35 3-13 3-6 3 9 3-22 3 5 3 2 3 28 3-8 3-3 3 46 3-39 3 15 3-6 3-7 3 9 3-35 3 28 3 16 3 12 3-33 3 29 3-10 3-21 3-21 3 33 3-16 3 31 3-13 3-32 3 17 3 15 3 15 3-64 3 51 3-32 3 18 3-11 3 31 3-11 3 24 3-10 3-36 3-27 3 30 3-10 3 5 3-24 3-10 3 18 3-3 3-5 3 28 3-15 3 21 3 19 3-22 3-13 3 26 3-8 3 38 3-32 3-9 3-9 3-18 3 24 3 15 3-17 3 25 3 6 3-4 3-23 3-3 3 27 3-26 3-1 3-1 3 29 3-60 3 43 3-17 3-7 3-34 3 35 3-7 3-11 3 1 3 31 3 12 3 0 3 13 3 3 3-58 3 40 3 0 3 10 3-25 3 33 3-20 3 20 3-36 3 6 3-25 3-1 3 1 3-18 3-7 3-27 3-34 3-5 3 3 3 41 3 28 3 9 3 36 3 4 3-18 3 10 3 10 3 4 3 26 3-28 3-6 3 17 3 6 3 10 3-37 3 13 3 8 3 0 3-29 3 33 3 17 3-13 3-13 3-15 3 1 3 16 3-13 3 0 3-15 3 35 3 6 3-16 3 11 3-9 3 25 3-30 3 0 3-22 3 16 3-9 3-7 3 25 3-25 3-13 3-35 3-41 3 15 3 36 3-8 3 30 3 15 3 26 3-10 3 16 3 1 3-13 3 10 3-23 3 14 3 18 3-2 3 0 3-5 3 14 3-3 3-8 3-28 3 65 3 1 3-52 3 39 3-29 3 24 3-34 3 14 3-7 3 20 3 3 3-13 3-40 3 40 3-19 3 43 3-34 3-27 3 34 3-20 3 29 3-28 3 28 3-34 3 46 3-20 3 13 3-16 3 38 3-38 3 15 3-13 3 22 3-44 3-2 3 34 3-21 3-4 3 24 3-8 3-38 3 39 3-11 3-8 3 29 3-3 3 13 3-32 3-8 3 54 3-26 3-4 3-29 3 3 3 15 3-59 3 1 3 4 3-61 3 37 3 5 3 0 3 45 3 12 3 5 3 15 3-33 3 20 3 18 3-3 3 1 3 37 3-47 3-2 3 21 3-14 3 19 3-18 3 32 3-39 3 6 3 19 3-13 3 14 3-2 3 2 3-35 3 35 3-14 3 4 3-20 3 22 3 4 3-9 3-1 3-11 3-14 3 2 3-14 3 8 3 19 3 15 3 17 3-7 3-15 3-13 3 19 3-21 3 0 3-14 3 51 3-2 3-36 3 19 3 4 3 18 3-3 3-39 3 17 3-36 3 16 3-8 3-14 3-10 3 24 3 50 3-39 3 14 3 18 3 0 3-19 3 31 3 0 3-19 3 2 3-7 3 11 3-4 3 14 3-45 3 42 3-16 3 25 3-4 3-22 3 3 3-8 3-8 3 13 3 16 3-17 3-17 3 21 3-17 3 18 3 10 3 4 3 4 3-32 3-24 3 37 3-4 3 16 3-1 3-15 3 5 3 13 3-24 3-24 3 40 3-3 3-11 3 29 3-23 3-9"/></g>
<g transform="scale(0.1)" fill="none" stroke="#0a0aff"><path fill="#0a0aff" stroke="none" d="M3003 1349l6 1 6 1 6 1 6 1 6 1 6 0 6 1 6 1 6 1 6 1 6 1 6 1 6 1 6 1 6 1 6 1 6 1 6 1 6 1 6 1 6 1 6 2 6 1 6 1 6 1 6 1 6 1 6 1 6 0 6 0 6-1 6-5 6-16 6-41 6 29 6 29 6 10 6 4 6 3 6 2 6 1 6 2 6 1 6 1 6 0 6 1 6 0 6 0 6 0 6-1 6-1 6-3 6-5 6-11 6-31 6-97 6-50 6 122 6 42 6 5 6-34 6-3 6 48 6 15 6 6 6 3 6 2 6 1 6 1 6 0 6 0 6 0 6-1 6-3 6-10 6-30 6 19 6 18 6 6 6 1 6 1 6 0 6-1 6-1 6-3 6-5 6-11 6-30 6-83 6 15 6 70 6 22 6 7 6 1 6 0 6-1 6-2 6-1 6-3 6-2 6-3 6-3 6-4 6-5 6-6 6-6 6-9 6-12 6-19 6-32 6-67 6-134 6-97 6 132 6 112 6 51 6 24 6 12 6 7 6 3 6 2 6 2 6 0 6 1 6 0 6 0 6-1 6 0 6-1 6-1 6-1 6-2 6-3 6-5 6-12 6-35 6-164 6-42 6 197 6 42 6 13 6 5 6 3 6 1 6 0 6-1 6-2 6-6 6-11 6-22 6-32 6 1 6 34 6 23 6 12 6 6 6 4 6 3 6 1 6 1 6 1 6-1 6-2 6-5 6-11 6-25 6-67 6-101 6 80 6 85 6 35 6 16 6 9 6 5 6 3 6-1 6-6 6-23 6-49 6 19 6 50 6 22 6 10 6 5 6 4 6 2 6 1 6-1 6-5 6-16 6-40 6-4 6 45 6 22 6 8 6 4 6 0 6-8 6-25 6 8 6 23 6 8 6 3 6 1 6 0 6-1 6-2 6-5 6-11 6-24 6-29 6 21 6 29 6 14 6 7 6 4 6 2 6 1 6 1 6 1 6 0 6 1 6 0 6 0 6 1 6 0 6 0 6 0 6-1 6 0 6-1 6-1 6-2 6-4 6-8 6-18 6-18 6 17 6 18 6 9 6 4 6 2 6 1 6 0 6 1 6-1 6 0 6-1 6-1 6-3 6-6 6-14 6-34 6-10 6 36 6 18 6 7 6 3 6 1 6-1 6-1 6-3 6-6 6-12 6-26 6-53 6-33 6 54 6 43 6 20 6 10 6 5 6 3 6 2 6 1 6 1 6 1 6 0 6 0 6 0 6 0 6 0 6-1 6 0 6-2 6-2 6-4 6-7 6-14 6-32 6-45 6 18 6 45 6 22 6 10 6 6 6 3 6 2 6 1 6 1 6 1 6 0 6 0 6 1 6 0 6 0 6 0 6 0 6 1 6 0 6 0 6 0 6 0 6 0 6 0 6 0 6 0 6 0 6 0 6 0 6 0 6-1 6 0 6-1 6 0 6-2 6-2 6-5 6-10 6-24 6-49 6 15 6 44 6 19 6 7 6 4 6 2 6 2 6 1 6 0 6 0 6 1 6 0 6 0 6-1 6 0 6-1 6-2 6-6 6-14 6-14 6 18 6 12 6 5 6 2 6 0 6 1 6 0 6-1 6-2 6-5 6-13 6-20 6 15 6 16 6 7 6 3 6 1 6 1 6 1 6 0 6 1 6 0 6 0 6 1 6 0 6 0 6 0 6 0 6 0 6 1 6 0 6 0 6 0 6 0 6 0 6 0 6 1 6 0 0 34 -6 0 -6-1 -6 0 -6 0 -6 0 -6 0 -6 0 -6 0 -6-1 -6 0 -6 0 -6 0 -6 0 -6 0 -6-1 -6 0 -6 0 -6 0 -6-1 -6 0 -6-1 -6-2 -6-3 -6-6 -6-17 -6-15 -6 20 -6 13 -6 5 -6 2 -6 1 -6 0 -6 0 -6-1 -6-2 -6-5 -6-12 -6-18 -6 14 -6 14 -6 6 -6 2 -6 1 -6 1 -6 0 -6 0 -6 0 -6 0 -6-1 -6 0 -6-1 -6-1 -6-2 -6-4 -6-8 -6-19 -6-44 -6-15 -6 49 -6 25 -6 10 -6 4 -6 3 -6 1 -6 1 -6 0 -6 1 -6 0 -6 0 -6 0 -6 0 -6 0 -6 0 -6 0 -6 0 -6 0 -6 0 -6 0 -6 0 -6 0 -6 0 -6 0 -6 0 -6-1 -6 0 -6 0 -6 0 -6-1 -6-1 -6 0 -6-2 -6-2 -6-3 -6-5 -6-10 -6-23 -6-44 -6-19 -6 45 -6 32 -6 15 -6 7 -6 3 -6 3 -6 1 -6 1 -6 0 -6 1 -6 0 -6 0 -6 0 -6-1 -6 0 -6-1 -6-1 -6-2 -6-3 -6-6 -6-9 -6-20 -6-43 -6-55 -6 34 -6 53 -6 25 -6 12 -6 6 -6 3 -6 2 -6 0 -6-1 -6-2 -6-7 -6-18 -6-37 -6 11 -6 33 -6 15 -6 5 -6 3 -6 2 -6 1 -6 0 -6 0 -6 0 -6-1 -6-1 -6-2 -6-4 -6-8 -6-18 -6-17 -6 18 -6 17 -6 9 -6 4 -6 2 -6 1 -6 0 -6 1 -6 0 -6 0 -6 0 -6 0 -6 0 -6 0 -6-1 -6 0 -6 0 -6-1 -6-1 -6-2 -6-2 -6-3 -6-7 -6-14 -6-29 -6-21 -6 29 -6 24 -6 11 -6 5 -6 2 -6 1 -6 0 -6-1 -6-3 -6-8 -6-23 -6-8 -6 25 -6 8 -6 0 -6-3 -6-9 -6-22 -6-45 -6 5 -6 40 -6 15 -6 6 -6 1 -6-1 -6-2 -6-4 -6-5 -6-10 -6-22 -6-49 -6-19 -6 49 -6 23 -6 7 -6 0 -6-2 -6-6 -6-8 -6-16 -6-35 -6-84 -6-80 -6 100 -6 67 -6 26 -6 10 -6 5 -6 3 -6 0 -6 0 -6-1 -6-1 -6-3 -6-4 -6-6 -6-12 -6-23 -6-34 -6-1 -6 32 -6 22 -6 11 -6 6 -6 2 -6 1 -6 0 -6-1 -6-2 -6-6 -6-13 -6-42 -6-196 -6 41 -6 164 -6 36 -6 11 -6 6 -6 2 -6 2 -6 1 -6 1 -6 1 -6 1 -6 0 -6 0 -6 0 -6-1 -6 0 -6-2 -6-2 -6-3 -6-7 -6-12 -6-24 -6-51 -6-112 -6-133 -6 97 -6 135 -6 66 -6 32 -6 19 -6 12 -6 8 -6 7 -6 5 -6 5 -6 4 -6 3 -6 3 -6 2 -6 2 -6 2 -6 1 -6 1 -6 0 -6-1 -6-7 -6-22 -6-70 -6-15 -6 83 -6 29 -6 11 -6 5 -6 3 -6 2 -6 0 -6 0 -6 0 -6-2 -6-5 -6-18 -6-19 -6 29 -6 10 -6 3 -6 1 -6 1 -6 0 -6-1 -6-1 -6-1 -6-1 -6-3 -6-6 -6-15 -6-49 -6 4 -6 34 -6-5 -6-42 -6-123 -6 51 -6 96 -6 31 -6 12 -6 5 -6 3 -6 1 -6 1 -6 0 -6 0 -6 0 -6-1 -6 0 -6-1 -6-1 -6-1 -6-2 -6-2 -6-2 -6-5 -6-10 -6-28 -6-29 -6 41 -6 16 -6 5 -6 1 -6 0 -6 0 -6-1 -6-1 -6-1 -6-1 -6-1 -6-1 -6-1 -6-1 -6-1 -6-1 -6-1 -6-1 -6-1 -6-1 -6-1 -6-1 -6-1 -6-1 -6-1 -6 0 -6-1 -6-1 -6-1 -6-1 -6-1 -6-1 -6-1 -6-1z"/><path stroke-width="6" stroke-opacity="0.35" d="M3003 1375l6-41 6-5 6 26 6 38 6-76 6 31 6 28 6 26 6-30 6 15 6-43 6 64 6 46 6-65 6-14 6 22 6-47 6-6 6 38 6-22 6 35 6 32 6-56 6-26 6 63 6 31 6-87 6 59 6-11 6-3 6 13 6-33 6-50 6 5 6 49 6-4 6 46 6 26 6-13 6-51 6 12 6 38 6-32 6 42 6-52 6 77 6-23 6-67 6 53 6 21 6-24 6-63 6 72 6-37 6 24 6-162 6-60 6 125 6 43 6 7 6-43 6 40 6-20 6 78 6-26 6-6 6-11 6 55 6-17 6 35 6-32 6-16 6-4 6 31 6-55 6-11 6 6 6 38 6-26 6-21 6 22 6 34 6 13 6-19 6 8 6-20 6 2 6-17 6-104 6-29 6 110 6 9 6 3 6 26 6-26 6-47 6 90 6-43 6 60 6-51 6-2 6 6 6-37 6 20 6 10 6-13 6-9 6-50 6 18 6-9 6-86 6-156 6-50 6 112 6 97 6 35 6 58 6-51 6-25 6 127 6-74 6 20 6-24 6 58 6-50 6 21 6 61 6-136 6 84 6-5 6-38 6 23 6 69 6-43 6-66 6-38 6-182 6-22 6 179 6 71 6 56 6 13 6-62 6 20 6 25 6-43 6 39 6-55 6 34 6-48 6-24 6-48 6 128 6-55 6 67 6 26 6-30 6 4 6-46 6 45 6 51 6-32 6-21 6 31 6-83 6 34 6-50 6-130 6 77 6 69 6 31 6 37 6-3 6 0 6 27 6 15 6-13 6-6 6-85 6 46 6 32 6 12 6-16 6 65 6-74 6 9 6 22 6 5 6-8 6 60 6-89 6-36 6 89 6 9 6-21 6 29 6 8 6-11 6 18 6 6 6-40 6-20 6 37 6 27 6-74 6 11 6 21 6-11 6 34 6-47 6-17 6-10 6 11 6 81 6-81 6 74 6 6 6-19 6-24 6-25 6 45 6 0 6-11 6 62 6-8 6-27 6-6 6-2 6 19 6-4 6-15 6 23 6-28 6 18 6-70 6-4 6-3 6 13 6 65 6 12 6-34 6 11 6 49 6-81 6 57 6-20 6 22 6-27 6-24 6 38 6-30 6-36 6 26 6-6 6 1 6 34 6-11 6 22 6-71 6 75 6-6 6-48 6 23 6-12 6-6 6-60 6-46 6 86 6-29 6 85 6-22 6 35 6-24 6-55 6 103 6-72 6 6 6 12 6-8 6 20 6 36 6-23 6-22 6-7 6 11 6 21 6-48 6-7 6 7 6 13 6-39 6-14 6 56 6-7 6 57 6-38 6-57 6 59 6 12 6-27 6 58 6-33 6 17 6-18 6 33 6-21 6 0 6-15 6-38 6 30 6 10 6 2 6 54 6-47 6-15 6 25 6-29 6 49 6-47 6 23 6 33 6-29 6 9 6-41 6 33 6-2 6-7 6-8 6-21 6 6 6-95 6 70 6 26 6 7 6-6 6 9 6-4 6 17 6-7 6 32 6-11 6-21 6-2 6-6 6 40 6-38 6-16 6-34 6 31 6 14 6-22 6-16 6 57 6-5 6 28 6-32 6-5 6 15 6-6 6 31 6-85 6 29 6-19 6 27 6-11 6 29 6 23 6 7 6-43 6 13 6-8 6 11 6 19 6-38 6 17 6-55 6 70 6-37 6-18 6 46 6 6 6 12 6-23 6-4 6-2 6 1 6 21 6-5 6-2"/><path stroke-width="8" stroke-linejoin="bevel" d="M3003 1369l3-16 3 33 3-10 3 20 3-16 3 11 3-58 3 52 3 7 3-6 3 22 3-30 3 16 3-56 3 59 3 0 3-35 3-27 3 26 3 20 3 35 3-58 3 34 3 4 3-1 3-25 3 28 3-42 3-12 3 40 3-16 3-29 3 75 3-11 3-3 3-31 3 5 3-18 3 33 3-4 3 5 3 31 3-40 3 8 3-26 3 62 3-6 3-71 3 2 3 80 3 6 3-25 3 15 3-54 3 28 3 16 3-20 3-16 3 16 3-14 3 55 3-47 3-8 3-27 3 61 3-43 3-5 3-35 3 13 3 19 3 6 3 31 3-19 3 26 3 4 3 10 3-31 3 59 3-36 3-26 3-8 3 34 3-3 3 14 3-41 3 29 3 9 3 11 3-51 3 21 3-3 3 13 3-3 3 7 3-19 3 25 3-37 3 28 3 41 3-60 3 52 3-9 3-35 3 16 3 0 3-32 3-26 3 27 3-31 3 16 3-78 3 10 3-64 3-40 3 48 3 95 3 12 3 22 3-22 3 2 3 26 3-58 3-35 3 65 3 32 3 1 3-3 3 55 3-34 3 22 3-36 3 1 3 30 3 25 3-46 3 9 3 3 3 34 3-26 3 8 3 9 3-3 3 17 3-54 3 29 3 0 3-30 3 23 3-1 3-18 3-18 3 18 3-17 3 12 3 18 3-8 3 17 3 6 3-23 3 15 3 0 3 5 3-11 3 8 3-9 3-8 3 6 3-20 3 38 3-6 3-24 3-5 3-3 3-13 3-9 3 11 3-48 3-28 3-31 3 38 3 12 3 83 3-22 3-33 3 43 3 0 3 19 3-30 3 23 3-10 3 30 3-30 3 15 3 9 3-37 3 22 3-7 3 31 3-21 3-28 3 51 3-50 3 8 3 2 3 7 3-28 3 7 3-5 3 9 3-24 3 5 3-24 3 63 3-31 3 11 3-49 3-32 3-7 3-6 3 20 3-47 3-42 3-74 3-11 3-144 3 4 3 52 3 82 3 66 3 58 3 72 3-3 3-5 3-21 3 66 3 7 3-46 3 29 3-65 3 32 3 51 3-66 3 57 3 11 3-59 3 31 3 39 3 15 3-48 3 34 3-55 3 3 3 27 3 7 3-13 3 23 3-8 3 12 3-13 3-17 3 2 3-6 3 5 3 22 3-3 3 6 3-12 3-4 3-45 3 3 3-15 3-30 3-91 3-39 3-190 3 114 3 136 3 115 3 1 3 39 3-28 3 24 3 4 3-21 3 9 3-44 3 16 3 28 3-57 3 60 3-2 3-20 3 33 3-9 3 13 3-25 3 5 3-13 3-49 3 19 3-20 3-10 3-8 3 26 3-4 3 1 3 43 3-52 3 22 3 67 3-59 3 43 3-29 3 42 3-6 3 17 3-10 3 15 3-48 3 57 3-45 3 29 3-23 3 29 3-17 3-6 3 7 3-17 3-3 3 25 3-29 3-26 3-37 3-6 3-102 3-26 3-4 3 72 3 60 3 45 3 12 3 36 3-51 3 91 3-27 3 2 3-25 3 40 3-34 3 15 3 6 3 6 3-3 3-32 3-17 3 39 3-34 3-30 3-8 3 26 3-19 3 58 3 32 3-8 3 18 3-2 3-13 3-4 3 14 3 24 3-49 3 48 3-52 3 73 3-40 3 5 3-13 3 23 3-37 3 29 3-5 3-60 3-31 3 41 3-3 3 28 3 22 3 24 3-33 3 35 3-1 3-10 3 15 3-11 3-11 3-33 3-18 3 28 3 5 3-15 3 26 3 41 3-8 3-42 3 43 3-15 3 14 3-7 3-17 3 51 3-78 3 23 3 37 3-24 3 5 3-25 3 26 3-33 3-18 3-15 3 22 3-31 3 18 3 10 3 7 3-5 3 34 3 11 3-26 3 12 3-2 3-19 3 41 3 6 3-11 3 7 3-1 3 18 3-6 3 2 3-28 3 21 3-8 3-18 3 26 3-35 3 9 3 37 3-7 3-42 3 37 3-4 3-7 3-14 3 14 3 17 3 18 3-16 3-29 3 26 3 23 3-38 3-19 3 39 3-29 3 10 3 3 3-11 3-1 3 6 3-5 3-18 3-4 3-13 3-11 3 52 3-14 3 11 3 14 3-16 3-19 3-4 3 23 3 25 3-10 3 3 3-17 3-16 3 20 3-27 3 16 3 23 3-20 3-13 3 31 3-1 3-6 3-34 3 41 3-18 3 11 3 6 3-16 3 5 3-23 3-39 3-18 3 47 3 24 3-23 3 21 3 9 3 10 3-36 3 41 3-9 3 2 3-9 3 30 3-30 3 36 3-5 3-36 3 23 3-2 3-25 3-36 3 25 3 0 3 14 3-36 3-35 3-40 3 6 3-7 3 32 3 17 3 20 3 29 3 44 3-51 3 32 3-2 3-29 3 30 3-32 3 55 3-3 3-27 3 6 3-1 3-2 3 24 3-32 3 13 3-14 3 40 3-17 3 15 3-31 3-27 3 50 3-4 3 8 3-15 3 11 3 3 3-24 3-28 3 46 3-9 3-11 3-15 3 47 3-29 3-5 3-23 3-6 3 3 3-44 3 18 3-49 3 28 3 1 3 9 3 66 3-21 3 1 3 31 3-5 3-3 3-32 3 7 3 45 3-23 3 18 3-23 3 20 3-34 3 27 3 28 3-20 3-10 3 5 3 2 3 31 3-28 3 5 3-16 3 18 3-2 3-19 3-16 3 24 3 23 3-29 3 4 3 25 3-21 3-30 3 59 3-26 3-10 3 5 3 13 3-17 3 38 3-22 3 3 3-6 3-14 3 12 3 27 3-38 3 6 3 8 3-18 3 27 3-35 3 27 3-24 3 12 3 0 3 43 3-48 3 26 3-10 3-19 3 26 3-16 3-26 3-3 3 30 3-1 3-31 3 25 3-11 3 7 3-29 3-2 3-27 3-14 3 1 3 38 3-32 3 47 3-8 3 3 3-5 3 22 3 12 3-3 3 9 3 0 3 5 3-6 3 4 3-2 3-10 3-14 3-2 3 31 3-23 3 28 3-20 3-5 3 8 3 7 3 25 3-35 3-1 3 14 3 9 3-18 3-8 3 16 3-6 3-1 3-34 3 24 3-19 3 12 3-13 3 20 3-3 3 43 3-55 3 10 3 4 3-22 3 27 3 35 3-14 3 6 3-20 3-8 3 8 3-19 3-8 3 44 3-20 3 20 3-49 3 15 3-37 3 41 3-20 3-6 3 10 3 43 3-34 3 16 3 6 3-15 3 41 3 6 3-38 3 13 3 8 3-1 3 2 3-29 3 19 3-23 3 21 3 10 3 5 3-46 3 37 3-26 3 30 3-1 3-3 3 12 3-11 3-16 3 7 3 11 3-32 3 23 3 9 3-22 3 36 3-2 3-9 3-10 3-4 3 15 3-2 3 8 3-26 3 21 3 8 3-33 3 17 3-1 3-4 3 18"/></g>
<g transform="scale(0.1)" fill="none" stroke="#000"><path fill="#000" stroke="none" d="M263 4892l6-2 6-1 6-1 6-2 6-1 6-1 6-2 6-1 6-1 6-1 6-1 6-1 6-1 6-1 6-1 6-1 6-1 6 0 6-1 6-1 6 0 6-1 6 0 6 0 6-1 6 0 6 0 6-1 6 0 6 0 6 0 6 0 6 0 6 1 6 0 6 0 6 1 6 1 6 0 6 1 6 1 6 0 6 1 6 1 6 1 6 1 6 0 6 1 6 1 6 0 6 1 6 0 6 1 6 0 6 0 6 0 6 0 6 0 6 0 6 0 6 0 6 0 6 0 6 0 6 0 6 0 6 0 6 0 6 0 6 0 6 0 6 0 6 0 6 0 6 0 6 0 6 0 6 0 6 0 6 0 6 0 6 0 6 0 6 0 6 0 6 0 6 0 6 0 6 0 6-1 6-2 6-2 6-2 6-2 6-3 6-3 6-3 6-3 6-3 6-4 6-3 6-4 6-4 6-4 6-4 6-6 6-5 6-7 6-6 6-7 6-7 6-7 6-7 6-7 6-7 6-7 6-7 6-8 6-7 6-8 6-8 6-7 6-7 6-7 6-8 6-7 6-4 6-1 6 2 6 4 6 6 6 6 6 6 6 5 6 7 6 7 6 8 6 8 6 8 6 9 6 7 6 7 6 5 6 5 6 5 6 4 6 4 6 4 6 4 6 4 6 3 6 4 6 3 6 3 6 3 6 3 6 3 6 3 6 2 6 3 6 3 6 2 6 3 6 3 6 2 6 3 6 2 6 2 6 3 6 2 6 2 6 2 6 2 6 2 6 2 6 2 6 2 6 2 6 1 6 2 6 1 6 2 6 2 6 1 6 2 6 1 6 2 6 1 6 2 6 1 6 2 6 1 6 2 6 1 6 1 6 2 6 1 6 2 6 1 6 1 6 1 6 2 6 1 6 1 6 1 6 1 6 1 6 1 6 1 6 1 6 1 6 1 6 1 6 1 6 1 6 0 6 1 6 0 6 1 6 0 6 1 6 0 6 1 6 0 6 0 6 0 6 1 6 0 6 0 6 0 6 1 6 0 6 0 6 0 6 0 6 1 6 0 6 0 6 0 6 0 6 0 6 1 6 0 6 0 6 0 6 0 6 0 6 0 6 1 6 0 6 0 6 0 6 0 6 0 6 0 6 0 6 1 6 0 6 0 6 0 6 0 6 0 6 0 6 0 6 0 6 1 6 0 6 0 6 0 6 0 6 0 6 0 6 0 6 0 6 1 6 0 6 0 6 0 6 0 6 0 6 0 6 1 6 0 6 0 6 0 6 0 6 0 6 1 6 0 6 0 6 0 6 0 6 0 6 1 6 0 6 0 6 0 6 0 6 1 6 0 6 0 6 0 6 1 6 0 6 0 6 0 6 0 6 1 6 0 6 0 6 0 6 1 6 0 6 0 6 0 6 1 6 0 6 0 6 0 6 0 6 1 6 0 6 0 6 0 6 1 6 0 6 0 6 1 6 0 6 0 6 0 6 1 6 0 6 0 6 0 6 1 6 0 6 0 6 0 6 1 6 0 6 0 6 1 6 0 6 0 6 0 6 1 6 0 6 0 6 1 6 0 6 0 6 0 6 1 6 0 6 0 6 1 6 0 6 0 6 1 6 0 6 0 6 1 6 0 6 0 6 0 6 1 6 0 6 0 6 1 6 0 6 0 6 1 6 0 6 0 6 1 6 0 6 0 6 1 6 0 6 0 6 1 6 0 6 0 6 1 0 31 -6-1 -6 0 -6 0 -6-1 -6 0 -6 0 -6-1 -6 0 -6 0 -6 0 -6-1 -6 0 -6 0 -6-1 -6 0 -6 0 -6-1 -6 0 -6 0 -6-1 -6 0 -6 0 -6 0 -6-1 -6 0 -6 0 -6-1 -6 0 -6 0 -6 0 -6-1 -6 0 -6 0 -6-1 -6 0 -6 0 -6 0 -6-1 -6 0 -6 0 -6 0 -6-1 -6 0 -6 0 -6 0 -6-1 -6 0 -6 0 -6-1 -6 0 -6 0 -6 0 -6-1 -6 0 -6 0 -6 0 -6-1 -6 0 -6 0 -6 0 -6 0 -6-1 -6 0 -6 0 -6 0 -6-1 -6 0 -6 0 -6 0 -6-1 -6 0 -6 0 -6 0 -6 0 -6-1 -6 0 -6 0 -6 0 -6-1 -6 0 -6 0 -6 0 -6 0 -6-1 -6 0 -6 0 -6 0 -6 0 -6-1 -6 0 -6 0 -6 0 -6 0 -6-1 -6 0 -6 0 -6 0 -6 0 -6 0 -6-1 -6 0 -6 0 -6 0 -6 0 -6 0 -6 0 -6-1 -6 0 -6 0 -6 0 -6 0 -6 0 -6 0 -6 0 -6 0 -6-1 -6 0 -6 0 -6 0 -6 0 -6 0 -6 0 -6 0 -6 0 -6-1 -6 0 -6 0 -6 0 -6 0 -6 0 -6 0 -6 0 -6 0 -6 0 -6-1 -6 0 -6 0 -6 0 -6 0 -6 0 -6 0 -6-1 -6 0 -6 0 -6 0 -6 0 -6 0 -6 0 -6-1 -6 0 -6 0 -6 0 -6 0 -6-1 -6 0 -6 0 -6 0 -6 0 -6-1 -6 0 -6 0 -6 0 -6-1 -6 0 -6-1 -6 0 -6 0 -6-1 -6-1 -6 0 -6-1 -6-1 -6-1 -6 0 -6-1 -6-1 -6-1 -6-1 -6-1 -6-1 -6-1 -6-1 -6-2 -6-1 -6-1 -6-1 -6-1 -6-2 -6-1 -6-1 -6-2 -6-1 -6-1 -6-2 -6-1 -6-2 -6-1 -6-2 -6-1 -6-2 -6-1 -6-1 -6-2 -6-1 -6-2 -6-1 -6-2 -6-2 -6-1 -6-2 -6-2 -6-2 -6-2 -6-2 -6-2 -6-2 -6-3 -6-2 -6-2 -6-2 -6-3 -6-2 -6-3 -6-2 -6-3 -6-3 -6-2 -6-3 -6-3 -6-3 -6-2 -6-3 -6-4 -6-3 -6-3 -6-4 -6-3 -6-4 -6-4 -6-4 -6-5 -6-4 -6-6 -6-6 -6-8 -6-8 -6-8 -6-8 -6-7 -6-7 -6-6 -6-6 -6-6 -6-6 -6-5 -6-3 -6-3 -6 1 -6 4 -6 6 -6 8 -6 8 -6 6 -6 7 -6 8 -6 7 -6 8 -6 7 -6 7 -6 7 -6 6 -6 7 -6 7 -6 7 -6 6 -6 7 -6 6 -6 6 -6 6 -6 5 -6 4 -6 4 -6 4 -6 3 -6 3 -6 4 -6 3 -6 3 -6 3 -6 3 -6 2 -6 3 -6 2 -6 1 -6 2 -6 1 -6 0 -6 1 -6 0 -6 0 -6 0 -6 0 -6 0 -6 0 -6 0 -6 0 -6 0 -6 0 -6 0 -6 0 -6 0 -6 0 -6 0 -6 0 -6 0 -6 0 -6 0 -6 0 -6 0 -6 0 -6 0 -6 0 -6 0 -6 0 -6 0 -6 0 -6 0 -6 0 -6 0 -6-1 -6 0 -6 0 -6 0 -6-1 -6 0 -6-1 -6-1 -6 0 -6-1 -6-1 -6-1 -6 0 -6-1 -6-1 -6-1 -6 0 -6-1 -6 0 -6-1 -6 0 -6-1 -6 0 -6 0 -6 0 -6 0 -6 0 -6 0 -6 0 -6 1 -6 0 -6 0 -6 1 -6 0 -6 1 -6 0 -6 1 -6 0 -6 1 -6 1 -6 0 -6 1 -6 1 -6 1 -6 1 -6 1 -6 1 -6 1 -6 1 -6 2 -6 1 -6 1 -6 1 -6 2 -6 1 -6 2z"/><path stroke-width="6" stroke-opacity="0.35" d="M263 4902l6 16 6-21 6 25 6 4 6-43 6 20 6 15 6-16 6-40 6 32 6-2 6-56 6 42 6 59 6-36 6 1 6-23 6 37 6-23 6 49 6-12 6-70 6 49 6 18 6-10 6-3 6-30 6-55 6 65 6-59 6 6 6 16 6 43 6 2 6-34 6 9 6-24 6 14 6 66 6-111 6 41 6 66 6-39 6-13 6 16 6 28 6 8 6-46 6-14 6 32 6-24 6 91 6-67 6-5 6 4 6-9 6 23 6 8 6-17 6-49 6 5 6 20 6-12 6 47 6-26 6-21 6-48 6 82 6 25 6-32 6 27 6-30 6 62 6-114 6 89 6-41 6-4 6 34 6 18 6-9 6-69 6 71 6-24 6 5 6 12 6-30 6-20 6 20 6-4 6 41 6 0 6-11 6-43 6 22 6 10 6-90 6 55 6-38 6 30 6 8 6 0 6-26 6 50 6-73 6 43 6 11 6-40 6-6 6-14 6-34 6-6 6 66 6-70 6 1 6-2 6-26 6 8 6-79 6 56 6 2 6-36 6 14 6-2 6 55 6-41 6-88 6 83 6-100 6 105 6 25 6-53 6 38 6-40 6 90 6-60 6-16 6 49 6-40 6 38 6 26 6-20 6 50 6 12 6-78 6 55 6 42 6-59 6-37 6 62 6 34 6-77 6 48 6 12 6 90 6-88 6 84 6-46 6 15 6 32 6-55 6-16 6 50 6-25 6-85 6 140 6-17 6-50 6 47 6-26 6 33 6-14 6 3 6-12 6 70 6-121 6 68 6-17 6-23 6 71 6-32 6-21 6 35 6-2 6 12 6 16 6-28 6-10 6 8 6 32 6-12 6-5 6-40 6-16 6 35 6-13 6 57 6 2 6-24 6-30 6 57 6-46 6-24 6 14 6 41 6-2 6 33 6-79 6 46 6-18 6 30 6-9 6 11 6-23 6 53 6-35 6 7 6-73 6 85 6-71 6 69 6-58 6-10 6 41 6-11 6 44 6 7 6 5 6-1 6-21 6 18 6-47 6 18 6 0 6-6 6 67 6-99 6 5 6 11 6 65 6-80 6 57 6-31 6-28 6 6 6 58 6 7 6-83 6 8 6 58 6 22 6-68 6 52 6-1 6-10 6-11 6-15 6 2 6 41 6-55 6 45 6-34 6 61 6-42 6 11 6-39 6 40 6-10 6 64 6-88 6 35 6-7 6 35 6-64 6 39 6-33 6 46 6-14 6-28 6 15 6-2 6-1 6-28 6 47 6-2 6-21 6-45 6 34 6 30 6-37 6 63 6-32 6-39 6 54 6 9 6 15 6-51 6-49 6 63 6 22 6-22 6 37 6-55 6 58 6-79 6 45 6-40 6 9 6 18 6-26 6-30 6 30 6 7 6 33 6-3 6 4 6-6 6 6 6-22 6 18 6 27 6-42 6 11 6-19 6-35 6 49 6 12 6 4 6-68 6 89 6-16 6 6 6-30 6 25 6-14 6-4 6-10 6 31 6-1 6-2 6-23 6 17 6-33 6-9 6 8 6 16 6-11 6 66 6-7 6-59 6 38 6-30 6 38 6 20 6-48 6-48 6 96 6-35 6-10 6 3 6 18 6 15 6-58 6 61 6 5 6-21 6-56 6 12 6 42 6-31 6 51 6-13 6 11 6-21 6 19 6-22 6 56 6-47 6-14 6-48 6 56 6-10 6 49 6 3 6-49 6 19"/><path stroke-width="8" stroke-linejoin="bevel" d="M263 4940l3-10 3 2 3-18 3-8 3-3 3-23 3 72 3-50 3-15 3-11 3 19 3-18 3 46 3 2 3-41 3 43 3-11 3-11 3-2 3-13 3 27 3-60 3 54 3-18 3-51 3 44 3 10 3 10 3-12 3-24 3 26 3-3 3-54 3 24 3 17 3-7 3 19 3 43 3-47 3-12 3 8 3-20 3 8 3-4 3 30 3-26 3 15 3 5 3-32 3 38 3 23 3-43 3 12 3 20 3 4 3-24 3-11 3 17 3-37 3 6 3 6 3 22 3-36 3 32 3-44 3 16 3 2 3 34 3 28 3-77 3 42 3-8 3 13 3-23 3 33 3-68 3 71 3 11 3-51 3 23 3-29 3 18 3 2 3-44 3 71 3-5 3 28 3-44 3 5 3 25 3-68 3 54 3-20 3 52 3-47 3 28 3-33 3-40 3 82 3-7 3 0 3-30 3 34 3-48 3 4 3 39 3-3 3 24 3-57 3 26 3 2 3 13 3-49 3 26 3-11 3 21 3 39 3-34 3 19 3-21 3-22 3 14 3-6 3-3 3 22 3-6 3-32 3-28 3 35 3 21 3 22 3-27 3 8 3 12 3 2 3-42 3 12 3 20 3-27 3-8 3 14 3 6 3 24 3-35 3-7 3 10 3 27 3-58 3 47 3 16 3-32 3-4 3-13 3 6 3 17 3 31 3-16 3-21 3-23 3 5 3 51 3-56 3 54 3-19 3 19 3-14 3-21 3 12 3-9 3-18 3 22 3 3 3-23 3 19 3 22 3-17 3-25 3 59 3-50 3 41 3-19 3 17 3-20 3-32 3 52 3-45 3-18 3-2 3 42 3-23 3 0 3-25 3 77 3-29 3 6 3-21 3 22 3-41 3 42 3-35 3-11 3 28 3-10 3-3 3-49 3 13 3-10 3 10 3 20 3-30 3 22 3-29 3 15 3 20 3 13 3 16 3-46 3-1 3 29 3-85 3 10 3 50 3 1 3 20 3-7 3-7 3-25 3-24 3 29 3-90 3 44 3-42 3 33 3-70 3 81 3-18 3 30 3-84 3 33 3 33 3-83 3 43 3-66 3 123 3-92 3 27 3 5 3-72 3 34 3-38 3 67 3 26 3-124 3 71 3-46 3 59 3 8 3 12 3-7 3-71 3 12 3 43 3 26 3-44 3 16 3 30 3-7 3 32 3-65 3 54 3-9 3 4 3-5 3-7 3 61 3-55 3 35 3-5 3-19 3 32 3 5 3 40 3-64 3 42 3 2 3 13 3-43 3 30 3-41 3 46 3 24 3 13 3-99 3 51 3 23 3-57 3 110 3-49 3-52 3 106 3-45 3-62 3 30 3 6 3 18 3 47 3-59 3 6 3 15 3 16 3-6 3-40 3 58 3-43 3 3 3 77 3-99 3 45 3-24 3 46 3-7 3-31 3 12 3 0 3 27 3-53 3 51 3 0 3-5 3-10 3 29 3-2 3-7 3-3 3 16 3 1 3-41 3-2 3 21 3-7 3 5 3 10 3 38 3-30 3 4 3 16 3-33 3 8 3-34 3 23 3 35 3-22 3 2 3 44 3 4 3-34 3-22 3-8 3 28 3-23 3 24 3-10 3 9 3-4 3 35 3-29 3 40 3-44 3 45 3-56 3 28 3-13 3-14 3 68 3-41 3-23 3-12 3 46 3 3 3-11 3-16 3 4 3-16 3 16 3 4 3 22 3 4 3-39 3-18 3 80 3-35 3-18 3 21 3-21 3 8 3-35 3 37 3 41 3-15 3-21 3 7 3 13 3 8 3-37 3 12 3 9 3 15 3-24 3 17 3 7 3-15 3 10 3 15 3-47 3 28 3 3 3 36 3-78 3 22 3-13 3 9 3 26 3-24 3 17 3 3 3-4 3 21 3-9 3-22 3 8 3 14 3-16 3 20 3-9 3-9 3 4 3-15 3 27 3-16 3-2 3 8 3 46 3-19 3-33 3-7 3 33 3-32 3 40 3-34 3 34 3 18 3-44 3 19 3 2 3 28 3 0 3-57 3 40 3-4 3-14 3 4 3-29 3 3 3 15 3-23 3 32 3-3 3 25 3-48 3 45 3-17 3-2 3-5 3 1 3-13 3-5 3 41 3-65 3 60 3-11 3-2 3 15 3-19 3 5 3 7 3-14 3 20 3-1 3-19 3 10 3-24 3 22 3-3 3-29 3 26 3 10 3-27 3-7 3 24 3-11 3-7 3 19 3-18 3 19 3 18 3-14 3-2 3-22 3 42 3-28 3 36 3-41 3 11 3-25 3 30 3-32 3 27 3 30 3-18 3-37 3 41 3-39 3 16 3-4 3 2 3 7 3-44 3 63 3-21 3-17 3 25 3 21 3-46 3 31 3-13 3 3 3-12 3 11 3 11 3-40 3 14 3 5 3-1 3-21 3 20 3-10 3 28 3-7 3 3 3 4 3-16 3-9 3 31 3-20 3-4 3 41 3-56 3 42 3 9 3-30 3-5 3 18 3-22 3-21 3 56 3 9 3-53 3 37 3-9 3-4 3 14 3-21 3 3 3 8 3 3 3-48 3 64 3-10 3 9 3-23 3-15 3 28 3 0 3 8 3-5 3-28 3-4 3 16 3 11 3-8 3-8 3 12 3-36 3 31 3-37 3 70 3-63 3 65 3-16 3 3 3-4 3-21 3 8 3 27 3-47 3 15 3 21 3-29 3 43 3-52 3 8 3 15 3-15 3 9 3 5 3-3 3 9 3 1 3-1 3-2 3-2 3 5 3 1 3 7 3 16 3-41 3 44 3-16 3 2 3-27 3 15 3 1 3-11 3 18 3-33 3 5 3 30 3-8 3-35 3 36 3-5 3 12 3-16 3 1 3-18 3 15 3-5 3 17 3-45 3 35 3 20 3-59 3 51 3-4 3-5 3 4 3-18 3 27 3-10 3-36 3 43 3-32 3 3 3 24 3-14 3 10 3 2 3-7 3 10 3-34 3 56 3-14 3-26 3 8 3 29 3-41 3-13 3 65 3-13 3-16 3 23 3-21 3 5 3-2 3 3 3-29 3 17 3 5 3-24 3-3 3 21 3 28 3-29 3 20 3 4 3 1 3-11 3-40 3-7 3 17 3 15 3 3 3-6 3 2 3 16 3-30 3 30 3 0 3-39 3 32 3-3 3 10 3-1 3-45 3 69 3-30 3 15 3-1 3-32 3 16 3-2 3 40 3-59 3 48 3-10 3-17 3-15 3 14 3 15 3-27 3 20 3 6 3 2 3-17 3 16 3 2 3-45 3 13 3-3 3 11 3 25 3-4 3-2 3-15 3 26 3-43 3 3 3 35 3-16 3 22 3-3 3 1 3-28 3 4 3-18 3 28 3-1 3-9 3 6 3 7 3 12 3-24 3 0 3 8 3 11 3 21 3-14 3-52 3 9 3 15"/></g>
<g transform="scale(0.1)" fill="none" stroke="#ff1010"><path fill="#ff1010" stroke="none" d="M263 4531l6 2 6 1 6 1 6 2 6 1 6 1 6 2 6 1 6 1 6 1 6 1 6 2 6 1 6 1 6 1 6 1 6 1 6 1 6 1 6 0 6 1 6 1 6 1 6 0 6 1 6 1 6 0 6 1 6 0 6 0 6 1 6 0 6 0 6 1 6 0 6 0 6 0 6 1 6 0 6 0 6 0 6 0 6 1 6 0 6 0 6 0 6 0 6 0 6 0 6 1 6 0 6 0 6 0 6 0 6 0 6 0 6 0 6 0 6 0 6 0 6 0 6 0 6-1 6 0 6 0 6 0 6 0 6-1 6 0 6 0 6-1 6 0 6 0 6-1 6 0 6 0 6-1 6 0 6-1 6 0 6-1 6 0 6-1 6-1 6 0 6-1 6 0 6-1 6-1 6-2 6-1 6-2 6-2 6-3 6-2 6-3 6-3 6-3 6-3 6-4 6-3 6-4 6-3 6-4 6-4 6-5 6-5 6-5 6-5 6-6 6-6 6-6 6-6 6-7 6-6 6-6 6-7 6-8 6-8 6-8 6-7 6-8 6-7 6-6 6-5 6-6 6-5 6-4 6-2 6 1 6 2 6 3 6 4 6 4 6 4 6 4 6 6 6 6 6 6 6 7 6 8 6 7 6 7 6 6 6 6 6 5 6 4 6 3 6 4 6 3 6 3 6 3 6 3 6 3 6 3 6 2 6 3 6 3 6 2 6 3 6 2 6 3 6 3 6 2 6 3 6 2 6 3 6 2 6 3 6 2 6 3 6 2 6 2 6 2 6 2 6 2 6 2 6 1 6 2 6 1 6 2 6 1 6 1 6 2 6 1 6 1 6 2 6 1 6 1 6 1 6 2 6 1 6 1 6 1 6 1 6 1 6 1 6 2 6 1 6 1 6 1 6 1 6 0 6 1 6 1 6 1 6 1 6 1 6 1 6 0 6 1 6 1 6 0 6 1 6 0 6 1 6 0 6 1 6 0 6 1 6 0 6 0 6 0 6 1 6 0 6 0 6 0 6 0 6 0 6 1 6 0 6 0 6 0 6 0 6 0 6 1 6 0 6 0 6 0 6 0 6 0 6 0 6 0 6 1 6 0 6 0 6 0 6 0 6 0 6 0 6 0 6 0 6 0 6 1 6 0 6 0 6 0 6 0 6 0 6 0 6 0 6 0 6 0 6 0 6 0 6 1 6 0 6 0 6 0 6 0 6 0 6 0 6 0 6 0 6 0 6 0 6 0 6 0 6 1 6 0 6 0 6 0 6 0 6 0 6 0 6 0 6 0 6 0 6 1 6 0 6 0 6 0 6 0 6 0 6 0 6 0 6 0 6 0 6 1 6 0 6 0 6 0 6 0 6 0 6 0 6 0 6 0 6 1 6 0 6 0 6 0 6 0 6 0 6 0 6 0 6 0 6 1 6 0 6 0 6 0 6 0 6 0 6 0 6 0 6 0 6 1 6 0 6 0 6 0 6 0 6 0 6 0 6 0 6 0 6 1 6 0 6 0 6 0 6 0 6 0 6 0 6 0 6 0 6 1 6 0 6 0 6 0 6 0 6 0 6 0 6 0 6 0 6 1 6 0 6 0 6 0 6 0 6 0 6 0 6 0 6 0 6 1 6 0 6 0 6 0 6 0 6 0 6 0 6 0 6 0 6 1 6 0 6 0 6 0 6 0 6 0 6 0 6 0 6 0 6 1 6 0 6 0 6 0 6 0 6 0 0 46 -6 0 -6 0 -6 0 -6 0 -6 0 -6-1 -6 0 -6 0 -6 0 -6 0 -6 0 -6 0 -6 0 -6 0 -6 0 -6-1 -6 0 -6 0 -6 0 -6 0 -6 0 -6 0 -6 0 -6 0 -6 0 -6-1 -6 0 -6 0 -6 0 -6 0 -6 0 -6 0 -6 0 -6 0 -6 0 -6-1 -6 0 -6 0 -6 0 -6 0 -6 0 -6 0 -6 0 -6 0 -6 0 -6-1 -6 0 -6 0 -6 0 -6 0 -6 0 -6 0 -6 0 -6 0 -6 0 -6-1 -6 0 -6 0 -6 0 -6 0 -6 0 -6 0 -6 0 -6 0 -6 0 -6-1 -6 0 -6 0 -6 0 -6 0 -6 0 -6 0 -6 0 -6 0 -6-1 -6 0 -6 0 -6 0 -6 0 -6 0 -6 0 -6 0 -6 0 -6 0 -6-1 -6 0 -6 0 -6 0 -6 0 -6 0 -6 0 -6 0 -6 0 -6 0 -6-1 -6 0 -6 0 -6 0 -6 0 -6 0 -6 0 -6 0 -6 0 -6 0 -6 0 -6 0 -6-1 -6 0 -6 0 -6 0 -6 0 -6 0 -6 0 -6 0 -6 0 -6 0 -6 0 -6 0 -6 0 -6-1 -6 0 -6 0 -6 0 -6 0 -6 0 -6 0 -6 0 -6 0 -6 0 -6 0 -6 0 -6 0 -6-1 -6 0 -6 0 -6 0 -6 0 -6 0 -6 0 -6 0 -6 0 -6 0 -6 0 -6-1 -6 0 -6 0 -6 0 -6 0 -6 0 -6 0 -6 0 -6-1 -6 0 -6 0 -6 0 -6 0 -6 0 -6-1 -6 0 -6 0 -6 0 -6 0 -6 0 -6-1 -6 0 -6 0 -6-1 -6 0 -6 0 -6-1 -6 0 -6-1 -6-1 -6 0 -6-1 -6-1 -6 0 -6-1 -6-1 -6-1 -6 0 -6-1 -6-1 -6-1 -6-1 -6-1 -6-1 -6-1 -6-1 -6-1 -6-1 -6-1 -6-1 -6-1 -6-1 -6-1 -6-2 -6-1 -6-1 -6-1 -6-1 -6-2 -6-1 -6-1 -6-1 -6-2 -6-1 -6-2 -6-1 -6-2 -6-2 -6-2 -6-2 -6-2 -6-2 -6-2 -6-3 -6-2 -6-2 -6-3 -6-2 -6-3 -6-2 -6-3 -6-2 -6-3 -6-2 -6-2 -6-3 -6-2 -6-3 -6-2 -6-3 -6-3 -6-3 -6-3 -6-4 -6-3 -6-4 -6-4 -6-6 -6-6 -6-6 -6-7 -6-7 -6-7 -6-6 -6-6 -6-5 -6-4 -6-4 -6-4 -6-4 -6-3 -6-2 -6 0 -6 2 -6 4 -6 5 -6 5 -6 5 -6 6 -6 6 -6 7 -6 8 -6 7 -6 8 -6 7 -6 7 -6 6 -6 6 -6 5 -6 6 -6 6 -6 6 -6 5 -6 5 -6 5 -6 5 -6 4 -6 4 -6 4 -6 3 -6 3 -6 3 -6 3 -6 3 -6 3 -6 3 -6 2 -6 3 -6 2 -6 2 -6 2 -6 2 -6 1 -6 1 -6 1 -6 0 -6 1 -6 0 -6 1 -6 0 -6 1 -6 0 -6 1 -6 0 -6 1 -6 0 -6 0 -6 1 -6 0 -6 0 -6 1 -6 0 -6 0 -6 1 -6 0 -6 0 -6 0 -6 0 -6 1 -6 0 -6 0 -6 0 -6 0 -6 0 -6 0 -6 0 -6 0 -6 0 -6 0 -6 0 -6 0 -6 0 -6 0 -6 0 -6-1 -6 0 -6 0 -6 0 -6 0 -6 0 -6-1 -6 0 -6 0 -6 0 -6 0 -6-1 -6 0 -6 0 -6 0 -6-1 -6 0 -6 0 -6 0 -6-1 -6 0 -6-1 -6 0 -6-1 -6 0 -6-1 -6-1 -6-1 -6 0 -6-1 -6-1 -6-1 -6-1 -6-1 -6-1 -6-1 -6-1 -6-1 -6-1 -6-1 -6-1 -6-2 -6-1 -6-1 -6-1 -6-2 -6-1 -6-1z"/><path stroke-width="6" stroke-opacity="0.35" d="M263 4454l6 63 6 32 6-7 6 56 6-38 6-50 6 21 6 66 6 6 6 55 6-77 6 58 6 31 6-102 6-25 6 48 6-50 6 57 6 3 6-50 6 71 6 17 6-17 6-19 6 20 6 0 6-31 6-63 6 68 6 18 6 42 6-12 6-46 6-14 6-26 6 41 6 3 6 20 6-60 6 32 6-18 6-28 6 46 6 10 6-34 6-13 6 121 6-93 6-51 6 42 6 14 6-57 6 58 6-40 6 56 6-60 6 69 6-29 6-11 6 24 6 49 6-73 6 15 6 35 6-42 6-22 6-18 6 17 6 91 6-71 6-54 6 80 6-32 6 34 6 1 6-52 6 73 6-23 6-58 6 97 6-84 6-61 6 56 6 38 6 30 6-20 6-41 6 43 6-47 6 25 6 16 6-42 6 65 6-57 6-33 6-15 6 130 6-57 6 21 6-59 6-3 6 21 6-45 6-37 6 16 6 5 6 19 6-7 6 30 6-129 6 55 6 1 6-2 6 59 6-145 6 70 6-130 6 124 6-12 6-53 6 31 6 27 6-28 6 24 6-33 6 120 6-176 6-91 6 195 6-33 6-63 6 79 6 6 6 72 6-110 6-25 6-38 6 134 6-32 6-33 6 129 6-63 6-32 6 67 6-107 6 32 6-20 6 36 6 60 6-153 6 112 6-3 6-7 6 49 6 12 6-86 6 94 6 9 6-43 6-86 6 126 6 11 6 11 6-103 6 85 6-20 6-21 6 99 6-88 6-60 6 133 6-41 6 34 6-12 6-41 6 30 6 33 6-74 6 29 6 65 6-30 6-17 6-42 6 29 6 23 6 31 6-113 6 42 6 46 6 5 6 31 6-62 6 23 6 8 6-34 6 59 6-64 6 39 6-32 6 92 6-107 6 66 6 3 6-35 6 70 6-19 6-20 6-4 6 68 6-70 6 17 6-6 6-21 6-40 6 31 6 43 6-19 6 21 6 31 6-13 6-12 6-34 6 24 6-21 6 8 6-30 6-17 6 72 6 50 6-51 6-27 6-58 6 9 6-7 6-15 6 40 6 39 6-13 6 8 6 20 6-76 6 54 6 48 6-39 6-44 6 53 6-102 6 8 6 123 6-100 6 55 6-21 6 2 6 14 6 18 6 12 6-61 6 25 6 29 6-24 6 35 6-57 6 17 6-79 6 129 6 5 6-50 6 27 6-19 6 19 6-98 6 73 6-29 6 28 6-21 6 62 6-21 6-38 6-14 6 53 6-82 6 57 6 43 6-50 6 62 6-44 6-30 6-22 6 54 6-5 6-14 6 57 6-28 6-15 6 67 6-108 6 40 6-20 6 42 6 27 6-79 6 13 6-12 6 10 6 7 6 46 6-53 6 89 6-77 6-37 6 58 6-2 6 10 6-23 6 10 6 52 6-83 6 43 6 14 6-34 6 2 6-48 6 101 6-90 6 3 6 2 6 26 6 12 6-3 6 27 6 4 6 15 6-41 6-30 6 10 6 90 6-109 6 33 6 1 6 14 6 18 6-28 6 54 6 5 6-32 6-45 6-34 6-9 6 90 6-48 6 88 6-138 6 36 6 10 6-60 6 80 6-25 6-17 6-11 6 56 6 54 6-80 6 69 6-52 6 36 6-49 6-2 6-17 6 33 6-77 6 159 6-68 6-15 6 6 6 7 6-6 6-35 6 20 6 19 6 58 6-90 6 58 6-54 6-2 6 40"/><path stroke-width="8" stroke-linejoin="bevel" d="M263 4496l3 54 3 36 3-12 3-18 3 13 3-6 3 35 3-22 3 7 3-40 3 16 3-10 3 45 3-4 3-20 3 22 3-21 3-7 3 22 3-8 3 57 3-99 3 64 3-52 3 48 3-49 3-19 3 91 3-48 3 51 3-65 3-2 3 57 3-50 3 18 3-25 3 18 3-52 3 49 3 7 3 29 3 2 3-29 3 5 3-3 3 59 3-76 3 42 3-19 3-36 3 49 3 16 3-22 3-39 3 47 3 1 3-28 3 36 3-66 3 10 3 23 3 9 3 24 3 2 3-45 3 47 3 14 3-18 3-26 3-3 3-15 3-29 3 30 3-17 3 43 3-2 3 7 3-1 3 4 3-26 3 4 3 20 3 27 3-84 3 18 3 21 3-20 3 12 3 15 3-21 3 42 3-3 3 1 3-7 3 8 3-81 3 82 3-45 3 81 3-74 3 27 3-47 3 8 3 36 3 5 3 30 3-18 3 11 3 18 3-90 3 77 3-59 3 30 3-11 3 26 3-2 3-7 3-26 3-37 3 50 3-2 3 2 3 13 3 36 3-22 3-17 3-25 3-19 3 71 3-21 3-17 3-41 3 31 3 25 3-5 3-23 3 17 3-12 3-4 3 46 3-17 3-11 3-20 3 47 3-71 3 42 3-36 3-27 3 42 3-42 3 46 3-30 3 36 3-13 3-28 3 29 3-10 3 60 3-2 3-17 3 3 3 37 3-54 3-2 3 38 3-26 3-41 3 66 3-37 3 33 3 3 3-52 3 11 3 14 3-50 3 7 3 30 3-5 3-25 3 21 3 13 3-31 3-4 3 16 3-27 3 5 3 12 3-46 3 37 3 22 3-37 3 61 3-25 3 28 3-42 3 19 3-22 3-31 3 47 3-40 3 36 3-48 3 29 3-11 3 46 3-50 3 43 3-20 3 29 3-62 3 41 3-3 3-10 3-16 3 36 3-94 3 68 3-47 3 34 3 8 3-19 3-25 3-26 3-22 3 23 3 38 3-72 3 131 3-87 3-28 3 63 3-1 3-28 3-47 3 27 3 38 3-19 3-110 3 104 3 33 3-100 3-51 3 41 3 31 3-15 3-4 3-91 3 64 3-4 3 24 3 47 3-83 3 77 3 8 3-17 3-67 3 78 3-76 3 9 3-55 3 24 3 4 3 98 3-42 3 0 3-26 3 0 3-22 3 28 3 74 3-63 3 95 3-58 3-36 3 71 3-51 3 45 3-58 3 82 3-38 3-4 3 32 3-54 3-56 3 52 3 69 3 27 3-106 3 73 3 5 3-69 3-12 3 130 3-47 3-26 3 33 3-76 3 74 3-16 3-7 3 53 3-38 3 2 3-16 3-10 3 25 3 56 3-118 3 32 3 17 3 44 3-44 3 44 3-91 3 37 3 61 3-95 3 83 3 37 3-20 3 3 3-52 3 10 3 54 3-21 3 48 3-42 3-7 3-3 3 48 3-14 3-46 3 35 3-45 3 58 3-35 3 54 3 3 3-20 3-73 3 33 3 28 3 0 3 4 3 21 3-51 3-16 3-3 3 76 3-6 3-40 3 13 3 42 3-49 3 32 3 4 3-15 3 17 3 10 3-44 3-38 3 46 3-39 3-6 3 71 3-49 3 16 3 19 3-31 3 46 3 38 3-79 3 24 3-60 3 36 3 75 3-50 3-11 3 28 3-22 3 51 3-45 3-14 3 11 3-51 3 73 3 3 3-66 3-8 3 44 3 23 3 37 3-67 3 3 3 21 3 38 3-61 3 15 3-9 3 46 3 17 3 16 3-11 3-20 3-39 3 29 3 22 3-12 3-44 3 16 3-4 3 38 3-18 3-18 3 30 3-7 3-28 3 46 3-25 3-6 3-22 3 29 3 11 3-70 3 38 3 11 3 21 3-46 3 85 3-58 3-17 3 20 3 26 3-22 3-19 3 26 3 2 3-5 3-28 3 34 3 52 3-65 3 10 3-59 3 54 3 8 3-19 3 7 3-22 3 47 3-20 3-31 3 21 3 17 3-2 3 55 3-63 3 5 3-24 3 37 3-37 3 34 3-29 3-4 3 1 3 72 3-81 3 56 3-24 3-34 3 25 3-12 3 29 3 20 3 22 3-64 3-1 3-2 3 17 3-20 3 65 3-47 3-3 3-50 3 60 3-30 3 84 3-42 3-25 3 22 3 36 3-39 3 10 3-67 3 27 3-12 3 43 3-49 3-6 3 33 3 6 3 19 3 26 3-8 3-29 3 2 3-52 3 77 3-51 3 10 3 9 3-24 3 19 3 31 3 10 3 14 3-26 3-35 3 25 3-38 3-28 3 66 3-25 3 0 3-15 3 75 3-45 3 30 3-29 3 3 3-1 3 33 3-86 3 41 3-10 3 28 3-26 3 15 3-16 3-7 3 33 3 15 3-18 3-43 3 15 3 39 3-28 3 29 3-18 3 36 3-63 3 31 3 16 3-8 3-46 3 12 3 10 3-18 3 16 3-1 3 4 3 0 3-10 3 40 3 6 3-29 3 36 3-2 3-39 3 54 3-7 3-15 3-31 3 18 3-22 3 33 3-26 3-22 3 0 3 14 3-9 3 36 3 7 3-15 3-14 3 3 3-7 3-7 3 32 3-26 3 28 3-39 3-5 3 38 3 51 3-57 3-21 3 56 3-35 3-9 3-21 3 47 3-29 3-10 3 13 3 35 3-7 3-48 3-21 3 88 3-37 3 49 3-41 3 3 3-13 3 2 3 5 3-5 3 38 3-44 3-4 3 38 3-52 3 16 3 8 3-39 3 48 3-13 3 23 3-14 3-37 3-5 3 16 3 12 3 3 3-2 3 20 3-44 3 16 3 51 3-37 3 1 3 19 3-49 3 40 3-11 3-16 3 24 3 31 3-29 3-11 3 43 3-24 3 34 3-16 3-28 3-19 3 8 3 35 3-58 3 87 3-109 3 63 3 16 3-48 3-31 3 38 3 2 3 32 3-22 3 6 3-9 3 40 3-48 3 8 3 11 3 51 3-108 3 0 3 35 3-8 3 21 3 21 3-2 3-22 3-12 3 13 3-13 3 67 3-18 3-33 3 21 3-29 3 11 3 5 3-32 3 29 3-16 3 28 3-38 3 11 3 28 3 24 3-23 3-5 3-44 3 21 3 18 3-5 3 4 3 26 3 5 3-46 3-7 3-19 3 42 3 13 3 16 3-49 3 7 3-9 3 74 3-13 3-51 3 17 3-25 3 9 3 63 3-60 3 2 3 5 3-33 3-6 3-11 3 75 3-44 3 4 3 37 3-49 3 16 3-8 3 29 3-16 3-36 3 67 3 7 3-24 3-15 3 5 3-26 3 20 3 34 3-19 3-40 3 0 3 26 3 38 3-20 3-11 3 22 3-39 3 27 3-17 3-20 3 41 3-44 3 30 3 26 3-55 3 61"/></g>
<g transform="scale(0.1)" fill="none" stroke="#00ee10"><path fill="#00ee10" stroke="none" d="M263 4225l6 1 6 2 6 1 6 1 6 1 6 1 6 1 6 1 6 1 6 1 6 1 6 1 6 1 6 1 6 1 6 1 6 1 6 0 6 1 6 1 6 1 6 0 6 1 6 1 6 0 6 1 6 0 6 1 6 0 6 0 6 1 6 0 6 0 6 0 6 1 6 0 6 0 6 0 6 1 6 0 6 0 6 0 6 0 6 1 6 0 6 0 6 0 6 0 6 0 6 0 6 1 6 0 6 0 6 0 6 0 6 0 6 0 6 0 6 0 6 0 6 0 6 0 6 0 6 0 6 0 6 0 6 0 6 0 6 0 6 0 6 0 6 0 6 0 6 0 6 0 6 0 6 0 6 0 6 0 6 0 6 0 6 0 6 0 6 0 6 0 6 0 6 0 6 0 6-1 6-1 6-2 6-1 6-3 6-2 6-3 6-3 6-3 6-3 6-3 6-4 6-4 6-3 6-4 6-4 6-5 6-5 6-6 6-7 6-6 6-7 6-7 6-7 6-7 6-6 6-7 6-6 6-7 6-6 6-7 6-7 6-7 6-6 6-5 6-5 6-4 6-5 6-4 6-4 6-3 6-1 6-1 6 2 6 2 6 4 6 4 6 4 6 4 6 5 6 6 6 7 6 7 6 7 6 7 6 7 6 6 6 4 6 5 6 3 6 4 6 3 6 3 6 3 6 3 6 3 6 3 6 2 6 3 6 3 6 2 6 3 6 2 6 3 6 3 6 2 6 3 6 2 6 3 6 2 6 3 6 2 6 2 6 3 6 2 6 2 6 2 6 2 6 1 6 2 6 1 6 1 6 1 6 2 6 1 6 1 6 1 6 1 6 1 6 1 6 1 6 0 6 1 6 1 6 1 6 1 6 1 6 1 6 0 6 1 6 1 6 1 6 0 6 1 6 1 6 0 6 1 6 0 6 1 6 1 6 0 6 1 6 0 6 1 6 0 6 1 6 0 6 0 6 1 6 0 6 1 6 0 6 0 6 1 6 0 6 0 6 0 6 1 6 0 6 0 6 0 6 1 6 0 6 0 6 0 6 1 6 0 6 0 6 0 6 0 6 1 6 0 6 0 6 0 6 0 6 1 6 0 6 0 6 0 6 0 6 0 6 0 6 1 6 0 6 0 6 0 6 0 6 0 6 0 6 1 6 0 6 0 6 0 6 0 6 0 6 0 6 1 6 0 6 0 6 0 6 0 6 0 6 0 6 1 6 0 6 0 6 0 6 0 6 0 6 0 6 1 6 0 6 0 6 0 6 0 6 0 6 0 6 1 6 0 6 0 6 0 6 0 6 1 6 0 6 0 6 0 6 0 6 0 6 1 6 0 6 0 6 0 6 0 6 1 6 0 6 0 6 0 6 0 6 0 6 1 6 0 6 0 6 0 6 0 6 1 6 0 6 0 6 0 6 0 6 1 6 0 6 0 6 0 6 0 6 1 6 0 6 0 6 0 6 0 6 0 6 1 6 0 6 0 6 0 6 0 6 1 6 0 6 0 6 0 6 0 6 1 6 0 6 0 6 0 6 0 6 1 6 0 6 0 6 0 6 0 6 1 6 0 6 0 6 0 6 0 6 1 6 0 6 0 6 0 6 0 6 1 6 0 6 0 6 0 6 0 6 1 6 0 6 0 6 0 6 1 6 0 6 0 6 0 6 0 6 1 6 0 6 0 6 0 6 0 6 1 6 0 6 0 6 0 6 0 6 1 6 0 6 0 0 46 -6 0 -6 0 -6 0 -6-1 -6 0 -6 0 -6 0 -6 0 -6-1 -6 0 -6 0 -6 0 -6 0 -6-1 -6 0 -6 0 -6 0 -6 0 -6-1 -6 0 -6 0 -6 0 -6 0 -6 0 -6-1 -6 0 -6 0 -6 0 -6 0 -6-1 -6 0 -6 0 -6 0 -6 0 -6-1 -6 0 -6 0 -6 0 -6 0 -6 0 -6-1 -6 0 -6 0 -6 0 -6 0 -6-1 -6 0 -6 0 -6 0 -6 0 -6 0 -6-1 -6 0 -6 0 -6 0 -6 0 -6-1 -6 0 -6 0 -6 0 -6 0 -6 0 -6-1 -6 0 -6 0 -6 0 -6 0 -6 0 -6-1 -6 0 -6 0 -6 0 -6 0 -6-1 -6 0 -6 0 -6 0 -6 0 -6 0 -6-1 -6 0 -6 0 -6 0 -6 0 -6 0 -6-1 -6 0 -6 0 -6 0 -6 0 -6 0 -6-1 -6 0 -6 0 -6 0 -6 0 -6 0 -6-1 -6 0 -6 0 -6 0 -6 0 -6 0 -6-1 -6 0 -6 0 -6 0 -6 0 -6 0 -6 0 -6 0 -6-1 -6 0 -6 0 -6 0 -6 0 -6 0 -6 0 -6 0 -6-1 -6 0 -6 0 -6 0 -6 0 -6 0 -6 0 -6 0 -6-1 -6 0 -6 0 -6 0 -6 0 -6 0 -6 0 -6-1 -6 0 -6 0 -6 0 -6 0 -6 0 -6 0 -6-1 -6 0 -6 0 -6 0 -6 0 -6 0 -6-1 -6 0 -6 0 -6 0 -6 0 -6-1 -6 0 -6 0 -6 0 -6-1 -6 0 -6 0 -6 0 -6 0 -6-1 -6 0 -6 0 -6-1 -6 0 -6 0 -6-1 -6 0 -6 0 -6-1 -6 0 -6-1 -6 0 -6-1 -6 0 -6-1 -6 0 -6-1 -6 0 -6-1 -6 0 -6-1 -6-1 -6 0 -6-1 -6-1 -6 0 -6-1 -6-1 -6-1 -6 0 -6-1 -6-1 -6-1 -6-1 -6 0 -6-1 -6-1 -6-1 -6-1 -6-1 -6-1 -6-1 -6-1 -6-1 -6-2 -6-1 -6-2 -6-1 -6-2 -6-2 -6-2 -6-2 -6-2 -6-2 -6-3 -6-2 -6-2 -6-3 -6-2 -6-3 -6-2 -6-3 -6-2 -6-2 -6-3 -6-2 -6-3 -6-2 -6-3 -6-2 -6-3 -6-3 -6-3 -6-3 -6-3 -6-4 -6-4 -6-5 -6-5 -6-6 -6-7 -6-7 -6-7 -6-6 -6-5 -6-5 -6-4 -6-4 -6-4 -6-3 -6-3 -6-1 -6 0 -6 2 -6 3 -6 3 -6 4 -6 4 -6 4 -6 5 -6 5 -6 6 -6 6 -6 7 -6 6 -6 7 -6 6 -6 6 -6 6 -6 6 -6 7 -6 6 -6 7 -6 6 -6 6 -6 6 -6 6 -6 5 -6 4 -6 4 -6 4 -6 3 -6 3 -6 4 -6 3 -6 3 -6 3 -6 3 -6 2 -6 2 -6 2 -6 2 -6 1 -6 1 -6 1 -6 0 -6 0 -6 0 -6 0 -6 0 -6 0 -6 0 -6 0 -6 0 -6 0 -6 0 -6 0 -6 0 -6 0 -6 0 -6 0 -6 0 -6 0 -6 0 -6 0 -6 0 -6 0 -6 0 -6 0 -6 0 -6 0 -6 0 -6 0 -6 0 -6 0 -6 0 -6 0 -6 0 -6 0 -6 0 -6 0 -6 0 -6 0 -6 0 -6 0 -6 0 -6-1 -6 0 -6 0 -6 0 -6 0 -6 0 -6-1 -6 0 -6 0 -6 0 -6 0 -6-1 -6 0 -6 0 -6 0 -6-1 -6 0 -6 0 -6-1 -6 0 -6 0 -6-1 -6 0 -6-1 -6-1 -6 0 -6-1 -6-1 -6 0 -6-1 -6-1 -6-1 -6 0 -6-1 -6-1 -6-1 -6-1 -6-1 -6-1 -6-1 -6-1 -6-1 -6-1 -6-1 -6-1 -6-1 -6-1z"/><path stroke-width="6" stroke-opacity="0.35" d="M263 4312l6-72 6 1 6-28 6 106 6 9 6-109 6 36 6 75 6-17 6-31 6-70 6 46 6 42 6-95 6 156 6-113 6-2 6 25 6-34 6 51 6 3 6-30 6 4 6 35 6 14 6-35 6-2 6-52 6 84 6-3 6 38 6-78 6 25 6 1 6 9 6-68 6 45 6-24 6 48 6 13 6 3 6-133 6 99 6 43 6-23 6-41 6 0 6 4 6-1 6-6 6 1 6-20 6 27 6 10 6 28 6-68 6 20 6-27 6 137 6-23 6-31 6-102 6 59 6 55 6-139 6 170 6-76 6-12 6-22 6 54 6 8 6 10 6-25 6-9 6-38 6 75 6-53 6 71 6-105 6 50 6-63 6 73 6 18 6-99 6 75 6-36 6 31 6 38 6-110 6 48 6-30 6 18 6 48 6-37 6 57 6-115 6-39 6 119 6-4 6-3 6-39 6-77 6 65 6-26 6 100 6-114 6 41 6-40 6 65 6-46 6-66 6 87 6-78 6 33 6 0 6-31 6-29 6 113 6 7 6-103 6 84 6-125 6 41 6-18 6-37 6 19 6 37 6-15 6-105 6 117 6 8 6 79 6-96 6-38 6 98 6-117 6 104 6-17 6-20 6-10 6-59 6 114 6-52 6 49 6-90 6 69 6 25 6-82 6 62 6 88 6-62 6 70 6-37 6-93 6 6 6 115 6-63 6 48 6-33 6 36 6-73 6 44 6 58 6-16 6-83 6 10 6-26 6 64 6 112 6-136 6 79 6-97 6 126 6 28 6-47 6-16 6 30 6-108 6 20 6-20 6 78 6-50 6-14 6 38 6-82 6 110 6 44 6-125 6 57 6 46 6-77 6 82 6-76 6 47 6-29 6 59 6 70 6-124 6 25 6-18 6 42 6 36 6-65 6 40 6-24 6 10 6 1 6-11 6-22 6-5 6 65 6 30 6-59 6 67 6-44 6 10 6 7 6-30 6-7 6 1 6-28 6 87 6-114 6 34 6 1 6 59 6-83 6 38 6-80 6 53 6-65 6 107 6-17 6 6 6-4 6-5 6 8 6 62 6-27 6 14 6-66 6 11 6 54 6-35 6-2 6-35 6-36 6 15 6 40 6 38 6-54 6 62 6-14 6-9 6-91 6 29 6 36 6 50 6-17 6-90 6 70 6 8 6 24 6 1 6-4 6 9 6-53 6 75 6-152 6 19 6 32 6 85 6-51 6-12 6 23 6-30 6-2 6 47 6 21 6-9 6 55 6-76 6-25 6-4 6-8 6 72 6-53 6 36 6-33 6 1 6 21 6-29 6-11 6-5 6 69 6-36 6-2 6-38 6-35 6 54 6 62 6-54 6 69 6-69 6-4 6-3 6 34 6-40 6 21 6 27 6-19 6-9 6-17 6 14 6 32 6 38 6-52 6-60 6 69 6-47 6 81 6-37 6-58 6 55 6 1 6-13 6 19 6-27 6 16 6 68 6-70 6-63 6 23 6-30 6 98 6-38 6-74 6 58 6 46 6-34 6 71 6-49 6 35 6-43 6-17 6-49 6 58 6 5 6-10 6 35 6-105 6 58 6 35 6-24 6 6 6 20 6-12 6 42 6-34 6-37 6 40 6 6 6-4 6-41 6 11 6 19 6 83 6-97 6 63 6-18 6-5 6-69 6 35 6-8 6 2 6-27 6 37 6-27 6 7 6 15 6-4 6 61 6-64 6-1 6 14"/><path stroke-width="8" stroke-linejoin="bevel" d="M263 4244l3-10 3 24 3-18 3-4 3 7 3-19 3 48 3 15 3-66 3 18 3 25 3-48 3 15 3 36 3-11 3 6 3-61 3 86 3-28 3-6 3 56 3-24 3-69 3 95 3-68 3 12 3-28 3 76 3-42 3 17 3 13 3-25 3-57 3 101 3-53 3-32 3 32 3 2 3-3 3 10 3 15 3 39 3-25 3-21 3 57 3-58 3 61 3-60 3-47 3 84 3-43 3-3 3 5 3 6 3 15 3-19 3-32 3 45 3 3 3-22 3 18 3 8 3-65 3-5 3 32 3 46 3-66 3 73 3-46 3 27 3-26 3-2 3 6 3-12 3-6 3 7 3 10 3 0 3-28 3 25 3 6 3 25 3-1 3-12 3 2 3-38 3 19 3 34 3-9 3 29 3 17 3-7 3-66 3 0 3 8 3 44 3-26 3-17 3-22 3 28 3-5 3 41 3 28 3-99 3-4 3 64 3-4 3-34 3 25 3 1 3-39 3 48 3-33 3 20 3 30 3-62 3 49 3-2 3 22 3-65 3 32 3-50 3 40 3 37 3 15 3-33 3-46 3-16 3 54 3-28 3 29 3-10 3-1 3 44 3-83 3 33 3 28 3 20 3-71 3-5 3 19 3-34 3 15 3 71 3-62 3-13 3 24 3 16 3-26 3 22 3 24 3-5 3-26 3 39 3 11 3-28 3-68 3 78 3-34 3 35 3-43 3-2 3 1 3 4 3 59 3-61 3 2 3 17 3-35 3 16 3-12 3 52 3-65 3 36 3 9 3 28 3-11 3-15 3-34 3 88 3-25 3-26 3-54 3 25 3-19 3-3 3 8 3-22 3 4 3 21 3 4 3-50 3 47 3 53 3-54 3-12 3-2 3 80 3-42 3-1 3-9 3-18 3 57 3-68 3-59 3 79 3 11 3-23 3 10 3-7 3-5 3 53 3-20 3-32 3-16 3-24 3-27 3-9 3-1 3 29 3-4 3 30 3-22 3-81 3 6 3 34 3 107 3-104 3 34 3-15 3-31 3 43 3-109 3 35 3-25 3 73 3 64 3-104 3-31 3-3 3 41 3-11 3 20 3-45 3-5 3 74 3 3 3-26 3-68 3 89 3 43 3-140 3 74 3-44 3 24 3-9 3 14 3-55 3 34 3-35 3 39 3-10 3-34 3 28 3-17 3 36 3-2 3 4 3-104 3 87 3-18 3 6 3 65 3-5 3-26 3 60 3-5 3-34 3 29 3 36 3-111 3-3 3 13 3 27 3 17 3 54 3-70 3 85 3-1 3 2 3-47 3-28 3 79 3-28 3-24 3 44 3-18 3-39 3 47 3-10 3-12 3 23 3-42 3 32 3-20 3 47 3-21 3-11 3 40 3-50 3-5 3 66 3-69 3 82 3-13 3-44 3-10 3 95 3-67 3-12 3-6 3-12 3 106 3-49 3-16 3-19 3 6 3 44 3-100 3 50 3-4 3-17 3 74 3-43 3 58 3 0 3-67 3 67 3-23 3-15 3 47 3-30 3-1 3-49 3 74 3-35 3 47 3-44 3 38 3-25 3 17 3-83 3 64 3-7 3 0 3-26 3-22 3 76 3-20 3 6 3 25 3-46 3 58 3-20 3-10 3-5 3 50 3-38 3 8 3-49 3 41 3-43 3 11 3 32 3-20 3-44 3 22 3 14 3 34 3-32 3 47 3-27 3-31 3 75 3-49 3-10 3-5 3 17 3-9 3 19 3 15 3-17 3-23 3 49 3-36 3 19 3-73 3 93 3-49 3 43 3-57 3 28 3 43 3-4 3-24 3 12 3-77 3 39 3 13 3-50 3 41 3 21 3 19 3-31 3 41 3 25 3-62 3 22 3 0 3 20 3-95 3 68 3-25 3-20 3 1 3 23 3 22 3-28 3-24 3 35 3 42 3-62 3 43 3 16 3-35 3-17 3-5 3 60 3-17 3-19 3 8 3-24 3 13 3 47 3-26 3-2 3 5 3-33 3 23 3-38 3-32 3 59 3-10 3-4 3-22 3 29 3 1 3-16 3 3 3-13 3 17 3 36 3-47 3 47 3-54 3 15 3 82 3-100 3 62 3-47 3 30 3 7 3 10 3-26 3-13 3 77 3-44 3 0 3-38 3-7 3 44 3 23 3-53 3-15 3 54 3-39 3 27 3-39 3 27 3-20 3 10 3-10 3 27 3-15 3 16 3-20 3 42 3-47 3 10 3 36 3-24 3-22 3 4 3-6 3 47 3-26 3-1 3-39 3 62 3 1 3 9 3-60 3 59 3-46 3 25 3-6 3 18 3-57 3 38 3 17 3 29 3-53 3 18 3 23 3-45 3 3 3 7 3 35 3-43 3 15 3-16 3 15 3 40 3-27 3-3 3-25 3-5 3 39 3 8 3-50 3 12 3-4 3 3 3 30 3-50 3 56 3 11 3-73 3 37 3-8 3-20 3 75 3-11 3-51 3 1 3 18 3 27 3-4 3-22 3-34 3-13 3 39 3 18 3 7 3 15 3-38 3-2 3 33 3-33 3 24 3-80 3 91 3-23 3 1 3 14 3-21 3-40 3 27 3 53 3-46 3 4 3-13 3 9 3-11 3-12 3 27 3-16 3-12 3 57 3-34 3 14 3 32 3 3 3-56 3 24 3-11 3-17 3 24 3-20 3-4 3 17 3 7 3 9 3-18 3 27 3-34 3 0 3 28 3-38 3 33 3 6 3-31 3-2 3 17 3 11 3-25 3 2 3-28 3 45 3 12 3 3 3-24 3 16 3 23 3-17 3-14 3-3 3 11 3-3 3-14 3 29 3-24 3 18 3-27 3 40 3-26 3-17 3-3 3 59 3-30 3 12 3-34 3 6 3-5 3 19 3-14 3 12 3-32 3 77 3-79 3 80 3-44 3 24 3-32 3 26 3-16 3-36 3 4 3-6 3 49 3-25 3 3 3 5 3-6 3 2 3-18 3-5 3 34 3-4 3-6 3 15 3-3 3-2 3 22 3-80 3 59 3-64 3 73 3-2 3-20 3 2 3 18 3-26 3 6 3 22 3-73 3 62 3 3 3 8 3-8 3-48 3 67 3-54 3-33 3 62 3-3 3 6 3 7 3 22 3-14 3-55 3 44 3-1 3-13 3 4 3-4 3 21 3-38 3-35 3 52 3-17 3 13 3 24 3-43 3 28 3-28 3 3 3 8 3-6 3 32 3-35 3 22 3-1 3-4 3 25 3 9 3-11 3 14 3-28 3 28 3-8 3-18 3 26 3-47 3-3 3-6 3 37 3-37 3 48 3-48 3 20 3 8 3 13 3-29 3 31 3 5 3-20 3-40 3 65 3-33 3-7 3 19 3-49 3 66 3-46 3 36 3-8 3-19 3 26 3 0 3-12 3 7 3 4 3-21 3-7 3 20 3-36 3 14 3 38 3 0"/></g>
<g transform="scale(0.1)" fill="none" stroke="#0a0aff"><path fill="#0a0aff" stroke="none" d="M263 3952l6 2 6 1 6 1 6 1 6 2 6 1 6 1 6 1 6 1 6 1 6 1 6 1 6 1 6 1 6 1 6 1 6 1 6 1 6 1 6 1 6 1 6 0 6 1 6 1 6 1 6 0 6 1 6 0 6 1 6 0 6 1 6 0 6 0 6 1 6 0 6 0 6 1 6 0 6 0 6 0 6 0 6 1 6 0 6 0 6 0 6 0 6 1 6 0 6 0 6 0 6 0 6 1 6 0 6 0 6 1 6 0 6 0 6 1 6 0 6 1 6 1 6 1 6 1 6 0 6 1 6 1 6 1 6 0 6 1 6 0 6 0 6 0 6 0 6 0 6 0 6-1 6 0 6-1 6 0 6-1 6-1 6-1 6 0 6-1 6-1 6-1 6-1 6-1 6-1 6-1 6-1 6-2 6-1 6-2 6-2 6-2 6-2 6-2 6-2 6-3 6-3 6-2 6-3 6-3 6-4 6-5 6-5 6-5 6-6 6-6 6-7 6-7 6-7 6-10 6-10 6-11 6-9 6-9 6-7 6-7 6-6 6-6 6-6 6-5 6-5 6-5 6-6 6-4 6-2 6 1 6 4 6 4 6 6 6 6 6 6 6 8 6 9 6 9 6 8 6 7 6 6 6 6 6 6 6 6 6 5 6 5 6 4 6 5 6 3 6 3 6 3 6 3 6 3 6 2 6 3 6 2 6 2 6 2 6 2 6 2 6 2 6 2 6 2 6 2 6 1 6 2 6 2 6 1 6 2 6 1 6 2 6 1 6 2 6 1 6 2 6 1 6 2 6 1 6 1 6 2 6 1 6 2 6 1 6 1 6 2 6 1 6 2 6 1 6 1 6 1 6 2 6 1 6 1 6 1 6 1 6 1 6 1 6 1 6 1 6 1 6 1 6 1 6 1 6 1 6 1 6 1 6 0 6 1 6 1 6 1 6 1 6 0 6 1 6 1 6 0 6 1 6 0 6 1 6 0 6 0 6 1 6 0 6 0 6 0 6 0 6 0 6 0 6 0 6 0 6 0 6 0 6-1 6 0 6 0 6 0 6 0 6 0 6 0 6 0 6 0 6 0 6 0 6 0 6 0 6 0 6 0 6-1 6 0 6 0 6 0 6 0 6 0 6 0 6 0 6 0 6 0 6 0 6-1 6 0 6 0 6 0 6 0 6 0 6 0 6 0 6 0 6 0 6 0 6-1 6 0 6 0 6 0 6 0 6 0 6 0 6 0 6 0 6 0 6 0 6 0 6 0 6 0 6 0 6 0 6 0 6 0 6 0 6 0 6 0 6 0 6 0 6 0 6 0 6 0 6 0 6 0 6 0 6 0 6 0 6 0 6 0 6 0 6 0 6 0 6 0 6 0 6 0 6 0 6 0 6 0 6 0 6 0 6 0 6 0 6 0 6 0 6 1 6 0 6 0 6 0 6 0 6 0 6 0 6 0 6 0 6 0 6 0 6 1 6 0 6 0 6 0 6 0 6 0 6 0 6 0 6 0 6 1 6 0 6 0 6 0 6 0 6 0 6 0 6 0 6 1 6 0 6 0 6 0 6 0 6 0 6 1 6 0 6 0 6 0 6 0 6 0 6 0 6 1 6 0 6 0 6 0 6 0 6 1 6 0 6 0 6 0 6 0 6 1 6 0 6 0 6 0 6 0 6 1 6 0 6 0 6 0 6 0 6 1 6 0 6 0 6 0 6 0 6 1 6 0 6 0 0 46 -6 0 -6 0 -6-1 -6 0 -6 0 -6 0 -6 0 -6-1 -6 0 -6 0 -6 0 -6 0 -6 0 -6-1 -6 0 -6 0 -6 0 -6 0 -6-1 -6 0 -6 0 -6 0 -6 0 -6 0 -6-1 -6 0 -6 0 -6 0 -6 0 -6 0 -6-1 -6 0 -6 0 -6 0 -6 0 -6 0 -6 0 -6-1 -6 0 -6 0 -6 0 -6 0 -6 0 -6 0 -6 0 -6-1 -6 0 -6 0 -6 0 -6 0 -6 0 -6 0 -6 0 -6 0 -6 0 -6-1 -6 0 -6 0 -6 0 -6 0 -6 0 -6 0 -6 0 -6 0 -6 0 -6 0 -6-1 -6 0 -6 0 -6 0 -6 0 -6 0 -6 0 -6 0 -6 0 -6 0 -6 0 -6 0 -6 0 -6 0 -6 0 -6 0 -6 0 -6 0 -6 0 -6 0 -6 0 -6 0 -6 0 -6 0 -6 0 -6-1 -6 0 -6 0 -6 0 -6 0 -6 0 -6 0 -6 1 -6 0 -6 0 -6 0 -6 0 -6 0 -6 0 -6 0 -6 0 -6 0 -6 0 -6 0 -6 0 -6 0 -6 0 -6 0 -6 0 -6 0 -6 0 -6 0 -6 1 -6 0 -6 0 -6 0 -6 0 -6 0 -6 0 -6 0 -6 0 -6 0 -6 0 -6 0 -6 1 -6 0 -6 0 -6 0 -6 0 -6 0 -6 0 -6 0 -6 0 -6 0 -6 0 -6 0 -6 1 -6 0 -6 0 -6 0 -6 0 -6 0 -6 0 -6 0 -6 0 -6 0 -6 0 -6 0 -6 0 -6 0 -6 0 -6 0 -6 0 -6 0 -6 0 -6 0 -6 0 -6 0 -6 0 -6 0 -6-1 -6 0 -6 0 -6-1 -6 0 -6-1 -6-1 -6 0 -6-1 -6-1 -6 0 -6-1 -6-1 -6-1 -6-1 -6-1 -6-1 -6 0 -6-1 -6-1 -6-1 -6-1 -6-1 -6-1 -6-1 -6-1 -6-1 -6-1 -6-1 -6-1 -6-1 -6-2 -6-1 -6-1 -6-1 -6-2 -6-1 -6-1 -6-2 -6-1 -6-1 -6-2 -6-1 -6-1 -6-2 -6-1 -6-1 -6-2 -6-1 -6-1 -6-2 -6-1 -6-2 -6-2 -6-1 -6-2 -6-2 -6-1 -6-2 -6-2 -6-2 -6-2 -6-2 -6-2 -6-2 -6-2 -6-3 -6-3 -6-2 -6-3 -6-4 -6-4 -6-4 -6-5 -6-5 -6-5 -6-5 -6-6 -6-6 -6-7 -6-7 -6-9 -6-8 -6-8 -6-6 -6-5 -6-6 -6-4 -6-3 -6-1 -6 2 -6 3 -6 6 -6 5 -6 5 -6 5 -6 5 -6 5 -6 6 -6 7 -6 6 -6 9 -6 9 -6 10 -6 9 -6 9 -6 8 -6 6 -6 6 -6 6 -6 5 -6 5 -6 5 -6 4 -6 4 -6 3 -6 3 -6 2 -6 3 -6 2 -6 2 -6 2 -6 2 -6 2 -6 2 -6 1 -6 2 -6 1 -6 1 -6 1 -6 1 -6 1 -6 1 -6 1 -6 1 -6 0 -6 1 -6 1 -6 1 -6 0 -6 1 -6 0 -6 1 -6 0 -6 0 -6 1 -6 0 -6 0 -6-1 -6 0 -6 0 -6-1 -6 0 -6-1 -6-1 -6-1 -6 0 -6-1 -6-1 -6-1 -6 0 -6-1 -6 0 -6 0 -6-1 -6 0 -6 0 -6 0 -6-1 -6 0 -6 0 -6 0 -6 0 -6-1 -6 0 -6 0 -6 0 -6 0 -6 0 -6-1 -6 0 -6 0 -6 0 -6-1 -6 0 -6 0 -6 0 -6-1 -6 0 -6-1 -6 0 -6-1 -6 0 -6-1 -6 0 -6-1 -6-1 -6 0 -6-1 -6-1 -6-1 -6 0 -6-1 -6-1 -6-1 -6-1 -6-1 -6-1 -6-1 -6-1 -6-1 -6-1 -6-1 -6-1 -6-1 -6-2 -6-1 -6-1 -6-1z"/><path stroke-width="6" stroke-opacity="0.35" d="M263 3972l6 0 6 32 6-22 6 94 6-53 6-15 6-34 6 12 6-26 6 42 6 72 6-148 6 94 6-1 6-28 6-32 6 89 6-66 6 55 6 54 6-153 6 1 6 12 6 89 6 47 6-112 6 21 6 32 6-13 6 15 6-21 6-1 6 3 6-56 6 64 6 7 6 27 6-71 6-12 6 95 6-110 6 61 6-12 6 77 6-61 6 47 6-64 6 7 6-2 6-29 6 1 6 59 6-120 6 86 6 28 6-113 6 85 6 23 6 8 6-9 6-3 6-33 6 85 6-103 6 118 6-56 6-27 6 3 6-5 6 80 6-90 6 20 6 47 6-71 6 59 6-90 6 37 6 2 6 84 6-46 6-3 6-47 6 3 6-55 6 89 6-17 6 50 6-71 6 29 6-39 6 48 6-2 6 32 6-103 6 14 6 27 6 56 6-33 6-8 6-16 6 44 6-30 6-8 6 40 6-46 6-13 6-22 6 12 6-16 6 32 6-124 6 4 6 51 6-23 6 63 6-150 6 27 6 101 6-99 6-16 6 81 6-9 6-66 6 108 6-23 6-134 6-27 6 24 6 37 6 54 6 65 6-50 6-23 6-55 6 80 6 3 6 118 6-171 6-79 6 116 6-6 6 146 6-46 6-10 6 15 6-60 6 47 6 46 6-50 6 7 6 51 6-36 6-110 6 100 6 16 6-30 6 29 6-2 6-47 6 96 6-109 6 2 6 25 6 42 6-38 6 28 6 14 6-42 6 5 6-76 6 112 6-27 6-14 6 35 6 8 6-56 6 109 6-82 6 19 6 12 6 11 6-24 6 27 6 43 6-62 6-8 6 47 6-21 6 28 6 21 6-38 6 46 6 39 6-72 6 8 6-70 6 43 6-29 6 87 6-25 6 60 6-77 6-15 6 21 6 17 6-37 6 1 6 80 6-58 6 29 6 30 6-44 6 51 6-108 6 25 6 47 6-29 6-55 6 10 6 63 6 15 6-21 6-5 6 30 6 26 6-49 6-30 6-16 6 55 6-39 6 23 6-10 6-24 6-26 6-13 6 71 6 15 6-6 6-45 6 59 6-61 6 44 6-4 6 1 6-38 6 14 6-25 6 3 6 70 6-36 6-17 6 27 6 41 6-51 6-20 6 58 6-47 6 60 6-53 6-12 6-18 6-35 6 68 6-72 6 31 6 38 6 18 6 25 6-99 6 0 6 69 6 38 6-30 6-12 6-19 6-31 6 63 6-15 6-17 6-36 6 56 6 36 6-68 6 34 6 52 6-20 6-45 6 2 6 8 6-6 6-77 6 134 6-48 6-32 6 52 6-75 6-46 6 112 6-38 6-4 6 7 6 19 6 10 6 38 6-77 6-16 6 111 6-126 6 75 6-61 6-41 6 46 6 40 6 0 6 14 6-18 6-16 6-10 6-7 6 30 6-11 6 4 6 24 6-11 6 3 6-15 6-9 6-70 6 126 6-46 6-6 6 77 6-61 6 41 6-70 6-60 6 77 6 30 6-14 6-39 6 63 6-17 6-5 6-35 6 108 6-37 6-63 6-29 6 73 6 41 6-16 6-27 6-44 6 56 6-48 6-54 6 75 6-18 6-10 6 15 6 6 6 32 6-22 6 22 6-14 6 24 6-41 6 11 6-4 6 22 6-64 6 27 6-18 6 64 6-34 6-31 6 22 6 34 6 34 6-81 6 82 6-10 6-49 6-19 6 53"/><path stroke-width="8" stroke-linejoin="bevel" d="M263 3956l3 52 3 7 3-38 3-5 3-11 3 26 3-10 3 4 3-6 3 9 3 51 3-49 3-18 3-3 3 36 3-23 3 17 3-3 3-20 3-34 3 50 3-55 3 82 3-57 3 20 3 10 3-21 3 54 3-48 3 25 3 7 3 31 3-15 3 16 3-18 3-73 3 65 3-22 3 15 3-2 3 30 3-79 3 59 3-16 3-30 3 28 3 16 3-10 3 2 3-15 3 23 3-10 3-26 3 76 3-83 3 68 3-50 3-3 3 37 3-37 3-12 3 16 3 46 3-68 3 87 3-19 3 0 3-12 3-36 3 12 3 24 3 10 3-2 3-20 3-11 3 71 3-90 3 32 3-32 3 63 3-45 3 30 3 23 3-102 3 33 3-27 3 17 3 0 3 14 3 58 3-37 3 14 3 30 3-36 3-9 3 37 3-24 3-35 3-30 3 37 3 20 3-21 3 37 3 30 3-22 3-83 3 49 3-15 3 51 3-9 3-15 3-3 3-7 3-20 3 30 3-23 3 16 3 39 3-35 3 27 3-13 3-27 3 38 3-26 3 22 3-13 3 31 3-14 3-16 3-16 3 72 3-57 3 9 3-2 3-9 3-25 3 22 3-13 3 49 3 30 3-71 3 19 3 17 3-43 3 7 3-2 3 54 3-21 3-37 3 23 3-1 3 0 3-49 3 45 3 7 3 9 3-11 3-18 3 4 3 30 3 36 3-77 3 47 3 1 3-33 3-57 3 73 3-26 3-5 3 29 3-37 3-3 3 51 3 0 3 3 3-16 3-10 3 13 3 14 3 12 3-26 3 7 3-34 3 39 3 20 3-2 3-46 3-53 3 24 3 31 3-39 3 9 3 69 3-91 3-2 3 39 3-2 3 60 3-50 3 3 3-6 3-54 3-12 3 7 3 37 3-45 3 70 3-25 3 14 3 1 3-19 3-56 3 22 3 28 3-54 3 34 3-34 3 55 3-7 3-14 3 10 3 14 3-35 3 5 3 18 3-26 3-10 3-14 3-14 3-16 3 41 3-16 3-28 3 49 3 2 3-44 3-40 3 42 3-16 3 19 3-24 3 35 3-87 3 40 3-13 3 23 3-45 3-4 3-28 3 53 3 69 3-6 3-89 3 14 3 14 3-86 3 95 3 29 3-63 3-70 3 16 3 86 3-35 3 12 3 34 3-22 3-12 3 2 3-57 3 127 3 6 3-66 3 37 3-43 3 63 3-22 3-13 3-1 3 67 3-37 3 22 3-45 3 114 3-65 3-56 3 95 3-84 3 84 3-3 3 33 3-73 3-41 3 72 3 14 3-17 3-4 3 56 3-20 3-63 3 43 3-51 3 32 3-47 3 30 3-7 3-22 3 58 3 11 3-25 3-29 3 98 3-52 3-9 3-2 3 49 3-64 3 36 3-41 3 73 3-58 3-3 3 48 3-2 3 14 3-6 3 39 3-82 3 40 3 9 3-10 3 32 3-12 3-15 3 26 3-53 3 23 3-23 3 55 3-59 3-1 3 37 3-9 3-34 3 34 3 35 3-33 3-38 3 31 3-25 3 6 3 51 3-9 3 24 3-60 3 18 3-25 3 58 3-51 3-1 3-4 3 49 3-7 3-4 3 32 3-31 3-22 3 79 3-75 3 3 3 51 3-32 3 7 3-49 3 23 3-4 3 35 3-17 3 20 3-31 3 13 3 17 3-41 3 8 3 54 3-42 3 73 3-38 3-2 3-21 3 14 3-6 3-39 3 24 3 4 3 30 3-26 3-54 3 65 3-11 3 21 3-7 3-39 3-5 3 22 3-7 3 22 3-12 3 11 3 18 3-20 3-5 3 27 3 10 3-9 3-51 3 42 3-9 3 30 3-80 3 55 3 3 3 10 3-19 3 0 3 12 3-38 3 39 3-41 3 18 3 41 3-10 3 0 3 18 3-17 3-1 3-27 3 3 3 49 3-50 3 40 3-13 3 29 3-55 3 43 3-39 3 5 3 50 3-3 3-34 3 30 3-22 3-14 3 26 3-54 3 0 3-27 3 62 3-25 3 9 3 11 3-2 3 16 3-15 3 29 3-70 3 64 3 2 3-33 3 44 3-41 3 58 3-20 3-22 3-9 3 12 3-7 3-6 3 8 3 23 3-36 3-16 3 69 3-43 3 10 3-18 3-12 3 38 3 6 3-40 3-6 3 20 3 5 3-20 3 34 3-17 3-28 3 18 3 6 3 1 3-16 3 28 3-38 3 33 3-13 3-21 3 6 3-21 3-1 3 0 3 43 3-9 3-26 3 13 3-11 3 47 3-41 3 22 3 8 3 5 3 12 3-33 3-33 3 52 3 2 3-57 3 39 3 11 3-17 3 8 3-33 3 11 3-5 3 65 3-37 3-9 3-13 3 24 3 1 3-9 3-22 3 5 3-13 3-6 3 50 3-22 3 25 3-15 3-3 3-1 3 7 3 45 3-30 3-32 3 46 3-39 3-22 3-15 3 4 3 58 3 3 3-42 3 19 3-27 3 29 3 25 3-13 3-18 3-13 3 26 3 5 3-19 3 6 3 25 3-18 3-34 3 60 3-32 3-42 3 72 3 9 3-27 3-23 3-12 3 15 3-38 3 62 3 0 3-38 3 66 3-20 3 16 3-23 3 17 3-21 3-34 3 27 3-34 3 9 3 20 3-25 3-6 3 48 3-19 3 0 3 9 3-38 3 36 3-24 3 31 3-2 3-7 3 36 3-33 3 9 3-9 3 5 3 21 3 20 3-43 3-12 3 0 3 3 3 34 3-44 3-19 3-24 3 49 3 6 3-8 3 4 3 4 3-18 3 18 3-24 3 17 3 64 3-45 3-7 3-7 3 4 3 30 3-50 3 19 3-6 3 33 3-14 3-29 3-29 3 62 3 13 3-44 3 48 3-69 3 2 3-10 3 57 3-24 3 26 3-70 3 68 3-12 3 36 3-26 3-46 3 73 3-36 3 27 3-52 3 32 3 14 3 2 3-6 3-48 3 22 3-17 3 32 3-50 3 82 3-59 3 37 3-42 3 78 3-10 3-84 3 1 3 49 3-47 3 34 3 27 3-46 3 11 3 1 3 13 3 20 3-7 3-46 3 4 3 33 3 25 3-43 3-7 3 13 3 1 3 10 3-9 3 10 3-21 3 39 3-4 3-9 3-7 3-16 3-13 3 34 3-11 3-2 3 41 3-41 3 40 3 14 3-18 3-34 3 17 3-17 3 11 3 3 3-38 3 29 3 8 3 9 3-7 3-5 3-9 3 34 3-39 3-2 3 15 3-6 3-25 3 46 3 10 3-21 3-4 3 5 3 16 3-43 3 25 3 24 3-45 3 35 3-61 3 67 3 17 3-19 3-8 3-33 3 0 3-1 3 35 3-16 3 29 3-31 3 23 3-7 3-11 3-10 3 29 3-71 3 105 3-63"/></g>
<g transform="scale(0.1)" fill="none" stroke="#000"><path fill="#000" stroke="none" d="M3048 4891l6-1 6 0 6-1 6-1 6-1 6 0 6-1 6-1 6 0 6-1 6-1 6 0 6-1 6 0 6-1 6 0 6-1 6 0 6 0 6-1 6 0 6 0 6 0 6 0 6 0 6 0 6 0 6 0 6 0 6 0 6 0 6 0 6 0 6 0 6 0 6 0 6 0 6 0 6 0 6 0 6 1 6 0 6 0 6 0 6 0 6 0 6 0 6 0 6 1 6 0 6 0 6 0 6 0 6 0 6 1 6 0 6 0 6 0 6 1 6 0 6 0 6 1 6 0 6 1 6 0 6 0 6 1 6 0 6 0 6 1 6 0 6 0 6 1 6 0 6 0 6 0 6 0 6 1 6 0 6 0 6 0 6 0 6-1 6-1 6-1 6-1 6-2 6-2 6-2 6-3 6-3 6-3 6-3 6-3 6-3 6-4 6-3 6-4 6-3 6-4 6-4 6-5 6-5 6-6 6-6 6-6 6-7 6-7 6-7 6-7 6-7 6-7 6-7 6-7 6-8 6-7 6-8 6-7 6-7 6-7 6-7 6-8 6-8 6-8 6-5 6-3 6 1 6 4 6 6 6 7 6 8 6 8 6 7 6 7 6 7 6 8 6 7 6 8 6 7 6 7 6 7 6 7 6 5 6 5 6 5 6 4 6 5 6 4 6 4 6 4 6 3 6 4 6 3 6 4 6 3 6 3 6 3 6 3 6 3 6 3 6 3 6 3 6 2 6 3 6 3 6 2 6 3 6 2 6 3 6 2 6 2 6 2 6 2 6 2 6 1 6 2 6 2 6 1 6 2 6 2 6 1 6 2 6 1 6 2 6 2 6 1 6 2 6 1 6 2 6 1 6 1 6 2 6 1 6 1 6 2 6 1 6 1 6 1 6 2 6 1 6 1 6 1 6 1 6 1 6 1 6 0 6 1 6 1 6 1 6 0 6 1 6 0 6 1 6 0 6 0 6 1 6 0 6 0 6 0 6 0 6 0 6 0 6 1 6 0 6 0 6 0 6 0 6 0 6 0 6 0 6 0 6 0 6 1 6 0 6 0 6 0 6 0 6 0 6 0 6 0 6 0 6 0 6 0 6 0 6 0 6 0 6 0 6 0 6 0 6 1 6 0 6 0 6 0 6 0 6 0 6 0 6 0 6 0 6 0 6 0 6 0 6 0 6 0 6 0 6 0 6 0 6 0 6 0 6 0 6 0 6 0 6 0 6 1 6 0 6 0 6 0 6 0 6 0 6 0 6 0 6 0 6 0 6 0 6 0 6 0 6 0 6 0 6 1 6 0 6 0 6 0 6 0 6 0 6 0 6 0 6 0 6 1 6 0 6 0 6 0 6 0 6 0 6 0 6 0 6 1 6 0 6 0 6 0 6 0 6 0 6 1 6 0 6 0 6 0 6 0 6 0 6 1 6 0 6 0 6 0 6 0 6 1 6 0 6 0 6 0 6 0 6 1 6 0 6 0 6 0 6 0 6 1 6 0 6 0 6 0 6 1 6 0 6 0 6 0 6 1 6 0 6 0 6 0 6 1 6 0 6 0 6 0 6 1 6 0 6 0 6 0 6 1 6 0 6 0 6 1 6 0 6 0 6 0 6 1 6 0 6 0 6 1 6 0 6 0 6 0 6 1 6 0 6 0 6 1 6 0 6 0 6 0 6 1 6 0 6 0 6 1 6 0 6 0 0 31 -6 0 -6 0 -6-1 -6 0 -6 0 -6 0 -6-1 -6 0 -6 0 -6-1 -6 0 -6 0 -6 0 -6-1 -6 0 -6 0 -6 0 -6-1 -6 0 -6 0 -6-1 -6 0 -6 0 -6 0 -6-1 -6 0 -6 0 -6 0 -6-1 -6 0 -6 0 -6 0 -6-1 -6 0 -6 0 -6 0 -6-1 -6 0 -6 0 -6 0 -6 0 -6-1 -6 0 -6 0 -6 0 -6-1 -6 0 -6 0 -6 0 -6 0 -6-1 -6 0 -6 0 -6 0 -6 0 -6-1 -6 0 -6 0 -6 0 -6 0 -6 0 -6-1 -6 0 -6 0 -6 0 -6 0 -6 0 -6-1 -6 0 -6 0 -6 0 -6 0 -6 0 -6-1 -6 0 -6 0 -6 0 -6 0 -6 0 -6 0 -6 0 -6-1 -6 0 -6 0 -6 0 -6 0 -6 0 -6 0 -6 0 -6 0 -6 0 -6 0 -6-1 -6 0 -6 0 -6 0 -6 0 -6 0 -6 0 -6 0 -6 0 -6 0 -6 0 -6 0 -6 0 -6 0 -6 0 -6 0 -6 0 -6-1 -6 0 -6 0 -6 0 -6 0 -6 0 -6 0 -6 0 -6 0 -6 0 -6 0 -6 0 -6 0 -6 0 -6 0 -6 0 -6 0 -6 0 -6 0 -6 0 -6 0 -6 0 -6 0 -6 0 -6-1 -6 0 -6 0 -6 0 -6 0 -6 0 -6 0 -6 0 -6 0 -6 0 -6 0 -6 0 -6 0 -6 0 -6 0 -6-1 -6 0 -6 0 -6 0 -6 0 -6 0 -6 0 -6 0 -6 0 -6 0 -6-1 -6 0 -6 0 -6 0 -6 0 -6-1 -6 0 -6 0 -6-1 -6 0 -6-1 -6-1 -6 0 -6-1 -6-1 -6-1 -6 0 -6-1 -6-1 -6-1 -6-1 -6-2 -6-1 -6-1 -6-1 -6-1 -6-2 -6-1 -6-1 -6-1 -6-2 -6-1 -6-2 -6-1 -6-2 -6-1 -6-2 -6-1 -6-2 -6-1 -6-2 -6-1 -6-2 -6-1 -6-2 -6-1 -6-2 -6-2 -6-2 -6-2 -6-2 -6-2 -6-3 -6-2 -6-3 -6-2 -6-3 -6-3 -6-2 -6-3 -6-3 -6-3 -6-3 -6-3 -6-3 -6-3 -6-3 -6-3 -6-4 -6-3 -6-4 -6-4 -6-3 -6-5 -6-4 -6-4 -6-5 -6-6 -6-6 -6-6 -6-7 -6-8 -6-7 -6-7 -6-8 -6-7 -6-6 -6-7 -6-7 -6-8 -6-8 -6-5 -6-4 -6-1 -6 3 -6 5 -6 7 -6 8 -6 8 -6 7 -6 6 -6 7 -6 7 -6 8 -6 7 -6 7 -6 7 -6 7 -6 6 -6 7 -6 7 -6 7 -6 7 -6 6 -6 6 -6 6 -6 6 -6 5 -6 4 -6 4 -6 4 -6 3 -6 4 -6 3 -6 3 -6 3 -6 4 -6 3 -6 2 -6 3 -6 2 -6 3 -6 2 -6 1 -6 2 -6 1 -6 1 -6 0 -6 0 -6 0 -6 0 -6 0 -6 0 -6 0 -6-1 -6 0 -6 0 -6 0 -6-1 -6 0 -6 0 -6-1 -6 0 -6 0 -6-1 -6 0 -6 0 -6-1 -6 0 -6 0 -6-1 -6 0 -6 0 -6-1 -6 0 -6 0 -6 0 -6 0 -6-1 -6 0 -6 0 -6 0 -6 0 -6 0 -6 0 -6 0 -6-1 -6 0 -6 0 -6 0 -6 0 -6 0 -6 0 -6 0 -6 0 -6 0 -6 0 -6 0 -6 0 -6-1 -6 0 -6 0 -6 0 -6 0 -6 0 -6 0 -6 1 -6 0 -6 0 -6 0 -6 0 -6 1 -6 0 -6 0 -6 1 -6 0 -6 1 -6 0 -6 1 -6 0 -6 1 -6 1 -6 0 -6 1 -6 1 -6 0 -6 1 -6 1 -6 1 -6 0z"/><path stroke-width="6" stroke-opacity="0.35" d="M3048 4925l6-54 6 69 6-36 6 12 6 11 6-23 6 17 6-4 6 31 6-33 6-2 6 5 6-16 6-44 6 39 6 19 6-55 6-1 6 44 6 20 6-31 6 1 6 42 6 35 6-70 6-34 6 29 6 30 6-52 6 42 6-2 6-22 6-71 6 61 6 40 6-52 6-9 6 68 6 10 6-17 6 35 6-20 6-40 6-25 6 15 6 39 6-16 6 8 6-62 6 34 6 52 6-92 6 91 6-27 6 46 6-50 6-19 6-45 6 12 6 38 6-12 6-11 6 19 6 4 6 41 6-2 6 20 6-97 6 36 6-23 6 57 6-16 6 31 6-47 6-20 6 12 6 6 6-29 6 59 6-50 6 21 6 34 6-41 6-5 6-27 6 92 6-84 6 32 6 0 6-20 6 30 6-52 6 79 6-7 6-49 6-79 6 31 6 5 6 4 6 19 6-7 6 16 6 13 6 5 6-82 6 43 6 4 6-3 6 20 6-13 6-53 6 1 6-36 6 42 6-119 6-19 6 109 6 1 6-67 6 63 6-77 6-19 6 100 6-109 6 24 6 47 6 4 6-36 6 15 6-87 6 126 6-17 6-63 6 123 6-43 6-111 6 157 6-12 6 29 6 55 6-24 6-117 6 98 6-70 6 67 6-1 6 68 6-145 6 81 6-29 6 2 6 11 6 49 6-22 6 10 6-14 6 55 6-40 6-52 6 16 6 59 6-38 6 34 6 41 6-27 6-25 6-10 6 100 6-72 6 12 6-12 6 37 6-31 6-33 6 33 6 23 6-47 6-12 6 64 6-28 6 14 6 29 6-5 6-4 6-12 6 9 6-65 6 12 6 24 6 78 6-48 6-5 6 13 6-51 6 22 6-5 6 40 6 11 6-74 6 73 6 25 6-28 6-8 6 35 6-26 6 39 6-35 6 47 6-30 6-26 6 7 6 23 6-15 6-35 6 26 6 41 6-12 6 6 6-29 6-28 6-11 6 5 6 25 6 18 6-44 6 45 6-50 6-11 6 41 6 0 6-41 6-2 6 77 6-18 6 21 6-25 6 2 6-15 6-30 6 41 6-47 6 31 6 4 6-7 6 52 6-61 6 16 6-49 6 65 6 18 6-28 6 48 6-57 6-12 6 52 6 3 6-13 6-5 6-50 6 55 6 1 6-38 6 23 6 3 6-26 6 18 6-25 6 35 6-15 6 29 6-38 6 17 6-26 6 65 6-52 6-10 6-42 6 50 6 20 6 7 6-21 6 34 6-35 6 42 6 4 6-45 6-32 6 27 6 12 6-14 6-17 6 6 6 72 6-37 6 12 6-9 6-27 6 34 6-23 6-25 6 8 6 67 6-8 6-34 6 18 6-23 6-8 6 29 6-14 6-42 6 14 6 2 6 5 6 40 6-30 6 41 6-35 6-14 6 5 6 4 6 23 6-10 6-14 6 12 6-31 6-11 6 52 6-19 6 3 6-5 6 24 6-4 6 27 6-63 6 54 6-42 6-8 6 82 6-85 6-14 6 41 6 44 6-75 6 57 6-32 6 3 6-37 6 10 6 24 6 19 6 15 6-4 6-20 6 8 6 2 6-16 6-30 6 9 6 37 6 1 6-13 6-17 6 20 6 6 6-24 6-7 6 42 6-68 6 57 6-15 6 8 6 20 6-54 6 67 6-2 6-9 6-21 6 28"/><path stroke-width="8" stroke-linejoin="bevel" d="M3048 4906l3-10 3 5 3 4 3-3 3 5 3 23 3-43 3-26 3 77 3 5 3-65 3 16 3 27 3-21 3-8 3-9 3-17 3 61 3-28 3-34 3 46 3 10 3-18 3 5 3-38 3 40 3-16 3-5 3-7 3 20 3 45 3-54 3 6 3-3 3 0 3 37 3-16 3 24 3-7 3-70 3 58 3-25 3-31 3 4 3 24 3 31 3-9 3-14 3-21 3 14 3 10 3 4 3-20 3-30 3 19 3 30 3-12 3 16 3-1 3-30 3 25 3 14 3-41 3 3 3 37 3-30 3 11 3-6 3 2 3-2 3 28 3-19 3-4 3 8 3-15 3-12 3-7 3 65 3-52 3-7 3 36 3 1 3-2 3 1 3-37 3 66 3-18 3-30 3-2 3-43 3 30 3 38 3 3 3-30 3-10 3 18 3-6 3 4 3 18 3-67 3 51 3-34 3 47 3-32 3-16 3 45 3 5 3-30 3 47 3-42 3 0 3 12 3-5 3-10 3 48 3-40 3 19 3-24 3-3 3 2 3-13 3 48 3-51 3 29 3 7 3-47 3 51 3-31 3 9 3-12 3 38 3-46 3 8 3 29 3 40 3-23 3 4 3-47 3 48 3-31 3 0 3 53 3-14 3-26 3-27 3 27 3 16 3-14 3 23 3-38 3 22 3 10 3-23 3-9 3 40 3-26 3 7 3-26 3 23 3 2 3 0 3-6 3 3 3-10 3 9 3-12 3-3 3 42 3-86 3 16 3 34 3-11 3 55 3-27 3 10 3-46 3 5 3-24 3 17 3 28 3-35 3 35 3-15 3-37 3 6 3 12 3 22 3-35 3-2 3 12 3 3 3 1 3 12 3-58 3 31 3 17 3 24 3-24 3-19 3 6 3-27 3 33 3-45 3 1 3 4 3 17 3 20 3-30 3 37 3-12 3 3 3-19 3-12 3-12 3 21 3-24 3-21 3 30 3 3 3-35 3-19 3 14 3-50 3 75 3-40 3 32 3-12 3-30 3 6 3-65 3 52 3-35 3 55 3-35 3 17 3-32 3-18 3-2 3 62 3-28 3-19 3 5 3-35 3 25 3-23 3 79 3-104 3 31 3-45 3-6 3-11 3 99 3-27 3 19 3-10 3-34 3-24 3 11 3-14 3 38 3-2 3 4 3 68 3-87 3 48 3-25 3 18 3 5 3 49 3-51 3 26 3 55 3 3 3-33 3 5 3 41 3-27 3-26 3-7 3 2 3 30 3-7 3 47 3-51 3 47 3-18 3-2 3 24 3-22 3-2 3-41 3 40 3-24 3 36 3-3 3-1 3-19 3 13 3 48 3-8 3-28 3 42 3-37 3-33 3 35 3 4 3-16 3 8 3 24 3-26 3 20 3 13 3-32 3 14 3-12 3 39 3 24 3-19 3-57 3 66 3-41 3 26 3-29 3 72 3-35 3-18 3 18 3 32 3-73 3 60 3-18 3-42 3 49 3 9 3-21 3-16 3 9 3 20 3 19 3-13 3 14 3-40 3-4 3 58 3 10 3-45 3 12 3-1 3 16 3-3 3-5 3-7 3-40 3 74 3-57 3 7 3-17 3 24 3-9 3 12 3-8 3 30 3-3 3-33 3 51 3-39 3 62 3-41 3 5 3-7 3 15 3 38 3-41 3-1 3-12 3-4 3 32 3 5 3-37 3 12 3-3 3-5 3 14 3-15 3-3 3 67 3-89 3 35 3 17 3-24 3-8 3 29 3 5 3 11 3-53 3 32 3 18 3 21 3-17 3-37 3 24 3-5 3 12 3 7 3 15 3-41 3 29 3-21 3-7 3 0 3 2 3 24 3-3 3-49 3 41 3 13 3-2 3 5 3-19 3 14 3-44 3 32 3-15 3-12 3 0 3 23 3 14 3-44 3 33 3 14 3-21 3 28 3-25 3 20 3-5 3 20 3 2 3-48 3 44 3 8 3-64 3 61 3-17 3-26 3 42 3-16 3-19 3 4 3 2 3 5 3-1 3-4 3-11 3 16 3 10 3 8 3-27 3-4 3-12 3 51 3-7 3-42 3-12 3 34 3-16 3 26 3 28 3-39 3-19 3 38 3 1 3-7 3-7 3-7 3 10 3-37 3 34 3-4 3 9 3-49 3 45 3 2 3-20 3 18 3-20 3 18 3-35 3 22 3 12 3-9 3 19 3-6 3-34 3 18 3 25 3-9 3 13 3-25 3 10 3 8 3-36 3 26 3-30 3 29 3 19 3-13 3-4 3-4 3 16 3-29 3 53 3-27 3 1 3 2 3-23 3 29 3-8 3-18 3 4 3-2 3-11 3-21 3 33 3 10 3 17 3-15 3 23 3-32 3 2 3 2 3-8 3 25 3-35 3 19 3 1 3-7 3 43 3-31 3-14 3 28 3-21 3 8 3-20 3-21 3 68 3-28 3-15 3-12 3 8 3 3 3 4 3-34 3 26 3 36 3-12 3 17 3-21 3-19 3 34 3-31 3 12 3 1 3-2 3-32 3 51 3-36 3 22 3-20 3 13 3 13 3-45 3 3 3 44 3-31 3 1 3 36 3-10 3-9 3 15 3-25 3 22 3-1 3-1 3-14 3 22 3 6 3 7 3-39 3 0 3 26 3-18 3 36 3-30 3-5 3-21 3 31 3-19 3 31 3-12 3 1 3-8 3-21 3 19 3-11 3 13 3-10 3 29 3-1 3-22 3 6 3-7 3 10 3 30 3-38 3-42 3 60 3-17 3-11 3-5 3 28 3-25 3 32 3-14 3-21 3 17 3 13 3-23 3-16 3 27 3 36 3-46 3 0 3-7 3 40 3-26 3 3 3 8 3-1 3-35 3 40 3-32 3-7 3 20 3 12 3-9 3-11 3 0 3 18 3-10 3-16 3-5 3 20 3 0 3-31 3 34 3 14 3 11 3-7 3-24 3-4 3 22 3-26 3 2 3 54 3-67 3 29 3-26 3 35 3-27 3 24 3 5 3-2 3 15 3 7 3-52 3 8 3 35 3-17 3 5 3-5 3 11 3-19 3 27 3-13 3 24 3-50 3 0 3 15 3-21 3 2 3 13 3-4 3 46 3-48 3 19 3-12 3-10 3 23 3 13 3 4 3-25 3 25 3-12 3-12 3 18 3-24 3 34 3-45 3 2 3-18 3 42 3-18 3 3 3 18 3 17 3-25 3-23 3 51 3-44 3 22 3 5 3 9 3-16 3 17 3-6 3-6 3-7 3 6 3-17 3 0 3 19 3 28 3-61 3 29 3 11 3-25 3 7 3 21 3-39 3 34 3 1 3-8 3 15 3-7 3-10 3 3 3-26 3 5 3 35 3-11 3 9 3 6 3-30 3 47 3-53 3 39 3-43"/></g>
<g transform="scale(0.1)" fill="none" stroke="#ff1010"><path fill="#ff1010" stroke="none" d="M3048 4582l6 1 6 1 6 1 6 1 6 1 6 1 6 1 6 1 6 1 6 1 6 1 6 1 6 1 6 1 6 1 6 0 6 1 6 1 6 1 6 1 6 1 6 0 6 1 6 1 6 1 6 0 6 1 6 1 6 0 6 1 6 1 6 1 6 1 6 0 6 1 6 1 6 1 6 0 6 1 6 1 6 0 6 1 6 0 6 1 6 0 6 0 6 1 6 0 6 0 6 0 6 0 6 0 6 0 6 0 6 0 6 0 6 0 6 0 6 0 6 0 6 0 6 0 6 0 6 0 6 0 6 0 6 0 6 0 6 0 6 0 6 0 6 0 6 0 6 0 6 0 6 0 6 0 6 0 6 0 6 0 6 0 6 0 6 0 6-1 6-1 6-1 6-2 6-2 6-2 6-2 6-2 6-3 6-3 6-2 6-3 6-3 6-3 6-3 6-3 6-3 6-3 6-4 6-4 6-5 6-4 6-5 6-5 6-5 6-5 6-5 6-5 6-5 6-4 6-5 6-4 6-5 6-4 6-4 6-4 6-4 6-4 6-3 6-4 6-4 6-4 6-3 6-2 6-1 6 1 6 1 6 2 6 3 6 3 6 3 6 4 6 3 6 4 6 5 6 6 6 5 6 6 6 5 6 5 6 3 6 3 6 4 6 2 6 3 6 3 6 2 6 2 6 3 6 2 6 2 6 2 6 2 6 2 6 2 6 3 6 2 6 2 6 2 6 2 6 2 6 2 6 2 6 2 6 2 6 2 6 2 6 2 6 1 6 2 6 1 6 1 6 1 6 1 6 1 6 1 6 1 6 1 6 1 6 1 6 1 6 1 6 0 6 1 6 1 6 1 6 1 6 1 6 0 6 1 6 1 6 1 6 0 6 1 6 1 6 0 6 1 6 0 6 1 6 1 6 0 6 1 6 0 6 1 6 0 6 0 6 1 6 0 6 1 6 0 6 0 6 1 6 0 6 0 6 0 6 1 6 0 6 0 6 0 6 1 6 0 6 0 6 0 6 1 6 0 6 0 6 0 6 0 6 1 6 0 6 0 6 0 6 0 6 0 6 1 6 0 6 0 6 0 6 0 6 0 6 1 6 0 6 0 6 0 6 0 6 0 6 0 6 1 6 0 6 0 6 0 6 0 6 0 6 0 6 0 6 1 6 0 6 0 6 0 6 0 6 0 6 0 6 0 6 0 6 1 6 0 6 0 6 0 6 0 6 0 6 0 6 0 6 0 6 1 6 0 6 0 6 0 6 0 6 0 6 0 6 0 6 1 6 0 6 0 6 0 6 0 6 0 6 0 6 1 6 0 6 0 6 0 6 0 6 0 6 0 6 1 6 0 6 0 6 0 6 0 6 0 6 0 6 1 6 0 6 0 6 0 6 0 6 0 6 1 6 0 6 0 6 0 6 0 6 0 6 0 6 1 6 0 6 0 6 0 6 0 6 0 6 0 6 1 6 0 6 0 6 0 6 0 6 0 6 0 6 1 6 0 6 0 6 0 6 0 6 0 6 0 6 1 6 0 6 0 6 0 6 0 6 0 6 0 6 1 6 0 6 0 6 0 6 0 6 0 6 0 6 1 6 0 6 0 6 0 6 0 6 0 6 0 6 1 6 0 6 0 6 0 6 0 6 0 6 0 6 1 6 0 6 0 6 0 6 0 6 0 6 0 6 0 6 1 6 0 6 0 0 38 -6 0 -6 0 -6 0 -6-1 -6 0 -6 0 -6 0 -6 0 -6 0 -6 0 -6-1 -6 0 -6 0 -6 0 -6 0 -6 0 -6 0 -6 0 -6-1 -6 0 -6 0 -6 0 -6 0 -6 0 -6 0 -6 0 -6-1 -6 0 -6 0 -6 0 -6 0 -6 0 -6 0 -6-1 -6 0 -6 0 -6 0 -6 0 -6 0 -6 0 -6 0 -6-1 -6 0 -6 0 -6 0 -6 0 -6 0 -6 0 -6-1 -6 0 -6 0 -6 0 -6 0 -6 0 -6 0 -6 0 -6-1 -6 0 -6 0 -6 0 -6 0 -6 0 -6 0 -6-1 -6 0 -6 0 -6 0 -6 0 -6 0 -6 0 -6-1 -6 0 -6 0 -6 0 -6 0 -6 0 -6 0 -6 0 -6-1 -6 0 -6 0 -6 0 -6 0 -6 0 -6 0 -6-1 -6 0 -6 0 -6 0 -6 0 -6 0 -6 0 -6 0 -6-1 -6 0 -6 0 -6 0 -6 0 -6 0 -6 0 -6 0 -6-1 -6 0 -6 0 -6 0 -6 0 -6 0 -6 0 -6 0 -6 0 -6 0 -6-1 -6 0 -6 0 -6 0 -6 0 -6 0 -6 0 -6 0 -6 0 -6-1 -6 0 -6 0 -6 0 -6 0 -6 0 -6 0 -6 0 -6-1 -6 0 -6 0 -6 0 -6 0 -6 0 -6 0 -6 0 -6-1 -6 0 -6 0 -6 0 -6 0 -6 0 -6-1 -6 0 -6 0 -6 0 -6 0 -6 0 -6-1 -6 0 -6 0 -6 0 -6 0 -6-1 -6 0 -6 0 -6 0 -6 0 -6-1 -6 0 -6 0 -6 0 -6-1 -6 0 -6 0 -6-1 -6 0 -6 0 -6-1 -6 0 -6-1 -6 0 -6-1 -6 0 -6-1 -6 0 -6-1 -6 0 -6-1 -6 0 -6-1 -6-1 -6 0 -6-1 -6-1 -6 0 -6-1 -6-1 -6 0 -6-1 -6-1 -6-1 -6-1 -6 0 -6-1 -6-1 -6-1 -6-1 -6-1 -6-1 -6-1 -6-1 -6-1 -6-1 -6-1 -6-1 -6-2 -6-1 -6-2 -6-2 -6-2 -6-1 -6-2 -6-2 -6-2 -6-2 -6-2 -6-3 -6-2 -6-2 -6-1 -6-2 -6-2 -6-2 -6-2 -6-3 -6-2 -6-2 -6-2 -6-3 -6-2 -6-3 -6-3 -6-3 -6-3 -6-5 -6-5 -6-5 -6-6 -6-5 -6-5 -6-4 -6-3 -6-3 -6-3 -6-3 -6-3 -6-2 -6-1 -6 0 -6 0 -6 2 -6 3 -6 4 -6 4 -6 3 -6 4 -6 3 -6 4 -6 4 -6 4 -6 4 -6 4 -6 4 -6 5 -6 4 -6 4 -6 5 -6 5 -6 4 -6 5 -6 5 -6 5 -6 4 -6 5 -6 3 -6 4 -6 3 -6 3 -6 3 -6 2 -6 3 -6 3 -6 3 -6 2 -6 3 -6 2 -6 2 -6 2 -6 2 -6 2 -6 1 -6 2 -6 1 -6 0 -6 1 -6 0 -6 0 -6 0 -6 0 -6 0 -6 0 -6 0 -6 0 -6 0 -6 0 -6 0 -6 0 -6 0 -6 0 -6 0 -6 0 -6 0 -6 0 -6 0 -6 0 -6 0 -6 0 -6 0 -6 0 -6 0 -6 0 -6 0 -6 0 -6 0 -6 0 -6 0 -6 0 -6 0 -6 0 -6-1 -6 0 -6 0 -6-1 -6 0 -6 0 -6-1 -6-1 -6 0 -6-1 -6 0 -6-1 -6-1 -6-1 -6 0 -6-1 -6-1 -6 0 -6-1 -6-1 -6-1 -6 0 -6-1 -6-1 -6 0 -6-1 -6-1 -6-1 -6 0 -6-1 -6-1 -6-1 -6-1 -6 0 -6-1 -6-1 -6-1 -6-1 -6-1 -6-1 -6-1 -6-1 -6 0 -6-1 -6-1 -6-1 -6-1 -6-1z"/><path stroke-width="6" stroke-opacity="0.35" d="M3048 4629l6-63 6 31 6 10 6 12 6-30 6 101 6-131 6 19 6 25 6 30 6 7 6-14 6-39 6 8 6 24 6 33 6-58 6 17 6 19 6 13 6-19 6-24 6-50 6 106 6-12 6 10 6 30 6-61 6-48 6 53 6 18 6-37 6 25 6 32 6-18 6-4 6 44 6-85 6 31 6 7 6 30 6-96 6 105 6-17 6-27 6 39 6-65 6 35 6-45 6 58 6-17 6 54 6-21 6-34 6 14 6-20 6 16 6 43 6-21 6-8 6-27 6-16 6 42 6-14 6-73 6 33 6 21 6 7 6 23 6-21 6-38 6 19 6 55 6 6 6-42 6-37 6 28 6-3 6 35 6 3 6-64 6 51 6-12 6-13 6-44 6 53 6 13 6 54 6-69 6-5 6-27 6 90 6-78 6 70 6-67 6 39 6-31 6-30 6-36 6 21 6 59 6-21 6-102 6 96 6-81 6 40 6-20 6-4 6 50 6 28 6-93 6 41 6 33 6-131 6 99 6-53 6 14 6-116 6 63 6 1 6-45 6-30 6 96 6-12 6-23 6 123 6-194 6 117 6-14 6-36 6-49 6 106 6 9 6 16 6-111 6 101 6-52 6 72 6-15 6 30 6 27 6-79 6 58 6-30 6-36 6 20 6-60 6 93 6 51 6-86 6 76 6-76 6 15 6 14 6 29 6 59 6-61 6-41 6-16 6 46 6-6 6 10 6 25 6 2 6-46 6 46 6-1 6 9 6-27 6 17 6 0 6-17 6 14 6 16 6-13 6 47 6-7 6-27 6 29 6-3 6-23 6 11 6 47 6-56 6-30 6-12 6 68 6-91 6 78 6 24 6 9 6-117 6 86 6-85 6 117 6-64 6 50 6-46 6-6 6 23 6 35 6-55 6 6 6-5 6 79 6-98 6-26 6 53 6-8 6 40 6-1 6-29 6 6 6 34 6-12 6 10 6-9 6 16 6 29 6-24 6 10 6-40 6 1 6-10 6-2 6 20 6 12 6-39 6 41 6-3 6-14 6 42 6-45 6 16 6-35 6-26 6 23 6 46 6 8 6-24 6-37 6 78 6-75 6 14 6-8 6 8 6 7 6 39 6-57 6 42 6-22 6 67 6-100 6 110 6-70 6-35 6 37 6 17 6-20 6 14 6 27 6-52 6 3 6-20 6 18 6-2 6 30 6-27 6-1 6 84 6-104 6 45 6-6 6 0 6-7 6 5 6 9 6 11 6-27 6 15 6 49 6-26 6-32 6 13 6-13 6 13 6-77 6 54 6 28 6-17 6-15 6-5 6-48 6 55 6 80 6-42 6-50 6 27 6 18 6-1 6-2 6-72 6 51 6 15 6-8 6-42 6 14 6 15 6-23 6 79 6-7 6-45 6 48 6-38 6-30 6 39 6 33 6-43 6 1 6-29 6 96 6-56 6 17 6-29 6 9 6-5 6-2 6 11 6 4 6-15 6 10 6-56 6 66 6-16 6 17 6-30 6 8 6 6 6-20 6 13 6 41 6 13 6-87 6 21 6-22 6-27 6 21 6 60 6 3 6-25 6 15 6 31 6-65 6 88 6-127 6 48 6-19 6 19 6-11 6 40 6-51 6 32 6 8 6-8 6-2 6-33 6 75 6-39 6 13 6-41 6 41 6 59 6-33 6 16 6-34 6-23 6 74 6-44"/><path stroke-width="8" stroke-linejoin="bevel" d="M3048 4571l3 41 3-20 3 22 3-26 3 40 3 14 3-52 3 26 3-23 3-22 3-6 3 93 3-54 3-28 3 39 3-3 3-12 3 12 3-11 3-6 3 27 3 36 3-22 3-8 3 1 3 0 3 20 3 6 3-60 3-10 3 23 3 42 3 6 3-31 3 14 3-30 3 18 3-25 3 32 3-49 3-9 3 14 3 27 3 9 3 16 3-23 3 23 3-26 3 2 3 20 3-46 3 18 3 8 3-11 3 4 3 5 3 11 3-31 3 39 3-13 3 15 3-12 3 7 3-21 3 15 3-24 3 32 3 21 3-39 3 17 3-42 3 20 3 28 3-25 3 18 3 14 3-26 3 39 3-62 3 23 3 6 3 10 3-48 3 76 3-28 3-2 3 13 3-16 3 19 3-14 3-7 3-11 3 58 3-76 3-3 3 37 3-13 3 66 3-10 3-33 3-23 3 30 3-28 3 50 3-30 3 22 3 9 3-36 3 33 3-53 3 29 3-4 3 2 3-9 3 34 3-39 3 17 3-22 3 47 3-17 3-11 3-8 3 5 3-11 3-21 3-3 3 61 3-55 3 56 3-46 3 21 3 13 3-64 3 10 3 38 3 46 3-90 3 44 3-12 3 9 3-1 3-10 3 26 3 12 3-5 3-69 3 68 3-30 3-6 3 36 3-15 3 29 3-67 3 55 3-30 3 17 3-13 3-2 3-18 3-4 3 72 3-45 3 33 3-41 3 36 3-24 3-5 3-11 3 32 3-44 3 4 3 53 3-33 3-4 3-38 3 19 3 41 3-39 3-30 3 58 3-53 3 44 3 39 3-20 3-35 3-16 3-7 3 26 3-8 3 34 3-35 3 26 3-17 3 29 3-98 3 59 3-29 3 9 3-40 3 53 3-37 3 54 3 18 3-12 3-78 3 35 3 27 3-61 3 58 3 0 3-60 3 39 3-11 3-2 3 22 3-34 3 19 3-25 3-13 3-21 3 52 3-40 3 58 3-48 3-27 3 4 3 31 3 7 3-36 3-21 3 31 3-5 3 26 3-66 3 74 3-75 3 7 3 49 3 6 3-43 3 0 3 7 3-27 3 16 3 42 3 5 3-46 3 2 3-3 3 38 3-94 3 55 3-8 3-10 3 3 3-33 3 37 3 6 3-21 3 39 3 21 3-16 3-26 3-5 3 5 3-37 3 44 3 31 3-36 3 19 3-31 3 27 3 11 3-6 3-62 3 45 3 12 3-1 3 28 3-16 3-48 3 46 3-11 3 55 3-8 3-5 3 30 3-29 3-9 3-21 3 55 3-30 3 26 3-75 3 105 3-32 3 8 3-26 3-24 3 36 3-11 3-7 3 3 3 31 3-18 3-27 3 44 3 2 3 0 3-26 3-2 3 19 3 38 3-58 3-1 3 17 3-22 3 76 3-61 3 39 3-35 3 70 3-24 3-11 3 15 3-3 3-49 3 41 3-6 3 33 3-25 3-29 3 64 3-38 3-19 3-9 3 41 3-44 3 30 3 8 3-51 3 15 3-18 3 55 3-6 3 2 3-4 3 22 3 37 3-34 3-13 3-1 3 42 3-77 3 34 3 32 3-51 3 50 3-51 3 20 3-12 3 16 3-53 3 46 3 5 3-6 3 33 3-10 3-23 3 28 3-35 3 15 3 14 3-8 3 25 3-28 3-8 3 33 3-13 3 8 3 34 3-29 3-18 3 1 3-22 3 23 3-20 3 39 3-23 3-25 3 35 3 19 3-10 3-4 3 23 3-47 3 21 3-9 3 15 3-36 3 47 3-31 3 26 3 9 3-19 3 38 3-62 3 5 3-2 3 9 3 23 3 12 3-24 3-13 3 1 3-26 3 37 3-35 3 55 3-45 3 65 3-88 3 65 3-54 3 29 3-4 3 22 3 22 3-8 3-56 3 56 3-58 3 19 3 46 3-57 3 12 3 14 3-27 3 38 3-46 3 59 3-18 3-7 3 28 3-49 3 33 3-2 3-9 3 5 3-13 3-20 3-11 3 54 3 5 3-19 3-4 3-23 3 63 3-42 3 23 3-1 3-31 3 20 3 12 3-20 3 9 3 8 3-58 3 55 3-12 3 2 3-30 3 18 3 7 3-7 3 14 3-15 3 8 3 0 3 44 3-40 3-34 3 7 3 40 3 4 3-24 3-5 3 25 3-48 3 48 3-4 3 1 3-46 3 47 3 11 3-24 3-10 3-6 3 18 3 17 3-9 3 5 3 17 3-37 3-20 3 3 3 24 3 4 3 2 3 29 3-48 3 15 3-32 3 4 3 4 3 17 3 55 3-43 3 4 3-35 3 18 3-9 3 37 3-21 3 23 3-41 3 21 3 12 3 21 3 6 3-57 3 45 3-29 3 2 3-3 3 8 3-41 3 47 3-20 3 14 3-43 3 37 3-5 3 3 3 6 3 17 3-17 3 9 3-22 3-7 3 8 3-1 3 25 3-1 3 4 3-8 3-15 3-12 3 42 3 0 3-53 3 78 3-59 3 38 3-44 3 28 3-5 3 16 3-14 3-20 3 45 3-63 3 24 3-25 3 52 3-15 3-10 3 38 3-17 3-20 3 5 3 5 3-5 3 22 3-10 3-6 3 7 3-18 3 25 3 9 3-16 3-16 3 7 3-11 3 35 3 0 3-31 3 13 3-17 3 14 3-13 3 38 3-42 3 38 3-33 3 19 3-10 3-10 3-2 3 18 3 9 3-3 3 1 3-15 3 26 3-27 3 2 3 0 3 9 3-37 3 41 3-4 3 5 3 32 3-38 3-28 3 5 3 31 3-19 3 17 3-2 3-14 3-34 3 21 3 5 3 18 3-19 3 18 3 33 3-53 3-20 3 0 3 40 3-10 3 49 3-66 3-12 3 31 3 17 3 19 3 5 3-15 3-21 3-6 3-7 3 23 3-8 3-24 3 17 3-15 3 29 3 1 3 4 3-31 3 6 3 7 3-26 3 21 3 6 3 7 3-15 3 43 3-16 3-24 3-3 3 8 3 16 3 4 3 0 3-4 3-2 3-27 3 11 3 10 3 7 3-31 3 38 3 6 3-53 3-2 3 11 3 5 3 23 3 15 3 2 3-28 3-6 3 41 3-15 3-7 3-15 3-3 3 23 3-12 3-2 3-2 3 15 3 7 3-6 3-9 3-35 3 41 3-9 3-38 3 29 3-9 3 18 3 1 3 12 3 23 3-64 3 48 3-41 3 40 3-15 3-3 3-43 3 49 3 6 3-10 3 11 3 17 3-26 3 4 3-8 3-20 3 46 3-7 3-27 3 1 3 22 3-11 3-19 3 4 3 40 3-36 3 5 3 13 3 4 3 3 3-22 3 2 3 6 3-17 3 53 3-40 3 24"/></g>
<g transform="scale(0.1)" fill="none" stroke="#00ee10"><path fill="#00ee10" stroke="none" d="M3048 4262l6 1 6 2 6 1 6 2 6 1 6 1 6 1 6 2 6 1 6 1 6 1 6 2 6 1 6 1 6 1 6 1 6 1 6 1 6 1 6 0 6 1 6 1 6 1 6 0 6 1 6 1 6 0 6 1 6 0 6 1 6 0 6 1 6 0 6 1 6 0 6 0 6 1 6 0 6 1 6 0 6 0 6 1 6 0 6 0 6 1 6 0 6 0 6 1 6 0 6 0 6 1 6 0 6 1 6 0 6 0 6 1 6 0 6 1 6 0 6 0 6 1 6 0 6 1 6 0 6 0 6 1 6 0 6 0 6 1 6 0 6 0 6 1 6 0 6 0 6 0 6 0 6 1 6 0 6 0 6 0 6 0 6 0 6-1 6 0 6-1 6-2 6-1 6-2 6-2 6-2 6-3 6-2 6-3 6-2 6-3 6-3 6-3 6-3 6-2 6-3 6-3 6-3 6-4 6-3 6-4 6-4 6-4 6-4 6-5 6-4 6-4 6-4 6-4 6-4 6-5 6-4 6-5 6-4 6-4 6-4 6-4 6-3 6-4 6-4 6-4 6-3 6-2 6-1 6 1 6 2 6 3 6 4 6 4 6 4 6 4 6 5 6 5 6 6 6 6 6 6 6 6 6 5 6 4 6 4 6 3 6 3 6 3 6 3 6 2 6 3 6 3 6 2 6 2 6 2 6 2 6 2 6 2 6 2 6 2 6 1 6 2 6 2 6 1 6 1 6 2 6 1 6 1 6 2 6 1 6 1 6 1 6 1 6 1 6 1 6 1 6 1 6 1 6 1 6 0 6 1 6 1 6 1 6 1 6 1 6 1 6 1 6 0 6 1 6 1 6 1 6 1 6 0 6 1 6 1 6 1 6 0 6 1 6 1 6 1 6 0 6 1 6 0 6 1 6 1 6 0 6 1 6 0 6 1 6 0 6 1 6 0 6 1 6 0 6 0 6 1 6 0 6 0 6 0 6 1 6 0 6 0 6 0 6 1 6 0 6 0 6 0 6 1 6 0 6 0 6 0 6 0 6 1 6 0 6 0 6 0 6 0 6 0 6 1 6 0 6 0 6 0 6 0 6 0 6 1 6 0 6 0 6 0 6 0 6 0 6 0 6 1 6 0 6 0 6 0 6 0 6 0 6 0 6 0 6 1 6 0 6 0 6 0 6 0 6 0 6 0 6 0 6 0 6 1 6 0 6 0 6 0 6 0 6 0 6 0 6 0 6 0 6 1 6 0 6 0 6 0 6 0 6 0 6 0 6 0 6 1 6 0 6 0 6 0 6 0 6 0 6 0 6 1 6 0 6 0 6 0 6 0 6 0 6 0 6 1 6 0 6 0 6 0 6 0 6 0 6 0 6 1 6 0 6 0 6 0 6 0 6 0 6 1 6 0 6 0 6 0 6 0 6 0 6 0 6 1 6 0 6 0 6 0 6 0 6 0 6 0 6 1 6 0 6 0 6 0 6 0 6 0 6 0 6 1 6 0 6 0 6 0 6 0 6 0 6 0 6 1 6 0 6 0 6 0 6 0 6 0 6 0 6 1 6 0 6 0 6 0 6 0 6 0 6 0 6 1 6 0 6 0 6 0 6 0 6 0 6 0 6 1 6 0 6 0 6 0 6 0 6 0 6 0 6 1 6 0 6 0 6 0 6 0 6 0 6 0 6 0 6 1 6 0 6 0 0 38 -6 0 -6 0 -6 0 -6-1 -6 0 -6 0 -6 0 -6 0 -6 0 -6 0 -6-1 -6 0 -6 0 -6 0 -6 0 -6 0 -6 0 -6 0 -6-1 -6 0 -6 0 -6 0 -6 0 -6 0 -6 0 -6 0 -6-1 -6 0 -6 0 -6 0 -6 0 -6 0 -6 0 -6-1 -6 0 -6 0 -6 0 -6 0 -6 0 -6 0 -6 0 -6-1 -6 0 -6 0 -6 0 -6 0 -6 0 -6 0 -6-1 -6 0 -6 0 -6 0 -6 0 -6 0 -6 0 -6 0 -6-1 -6 0 -6 0 -6 0 -6 0 -6 0 -6 0 -6-1 -6 0 -6 0 -6 0 -6 0 -6 0 -6 0 -6-1 -6 0 -6 0 -6 0 -6 0 -6 0 -6 0 -6 0 -6-1 -6 0 -6 0 -6 0 -6 0 -6 0 -6 0 -6-1 -6 0 -6 0 -6 0 -6 0 -6 0 -6 0 -6 0 -6-1 -6 0 -6 0 -6 0 -6 0 -6 0 -6 0 -6 0 -6-1 -6 0 -6 0 -6 0 -6 0 -6 0 -6 0 -6 0 -6 0 -6 0 -6-1 -6 0 -6 0 -6 0 -6 0 -6 0 -6 0 -6 0 -6 0 -6-1 -6 0 -6 0 -6 0 -6 0 -6 0 -6 0 -6 0 -6-1 -6 0 -6 0 -6 0 -6 0 -6 0 -6 0 -6 0 -6-1 -6 0 -6 0 -6 0 -6 0 -6 0 -6-1 -6 0 -6 0 -6 0 -6 0 -6 0 -6-1 -6 0 -6 0 -6 0 -6 0 -6-1 -6 0 -6 0 -6 0 -6 0 -6-1 -6 0 -6 0 -6 0 -6-1 -6 0 -6 0 -6-1 -6 0 -6-1 -6 0 -6 0 -6-1 -6 0 -6-1 -6 0 -6-1 -6-1 -6 0 -6-1 -6 0 -6-1 -6-1 -6 0 -6-1 -6-1 -6 0 -6-1 -6-1 -6-1 -6 0 -6-1 -6-1 -6-1 -6 0 -6-1 -6-1 -6-1 -6-1 -6-1 -6 0 -6-1 -6-1 -6-1 -6-1 -6-1 -6-1 -6-1 -6-1 -6-1 -6-1 -6-1 -6-1 -6-1 -6-1 -6-2 -6-1 -6-1 -6-2 -6-1 -6-2 -6-1 -6-2 -6-2 -6-2 -6-2 -6-2 -6-2 -6-2 -6-2 -6-3 -6-3 -6-2 -6-3 -6-3 -6-3 -6-4 -6-4 -6-5 -6-5 -6-5 -6-6 -6-6 -6-5 -6-4 -6-4 -6-4 -6-4 -6-4 -6-3 -6-2 -6 0 -6 0 -6 2 -6 3 -6 4 -6 4 -6 3 -6 4 -6 3 -6 4 -6 4 -6 4 -6 4 -6 5 -6 4 -6 4 -6 4 -6 4 -6 4 -6 4 -6 4 -6 3 -6 4 -6 4 -6 4 -6 3 -6 3 -6 3 -6 3 -6 3 -6 2 -6 3 -6 3 -6 2 -6 3 -6 3 -6 2 -6 2 -6 3 -6 2 -6 2 -6 1 -6 2 -6 1 -6 1 -6 1 -6 0 -6 0 -6 0 -6 0 -6 0 -6 0 -6 0 -6 0 -6-1 -6 0 -6 0 -6 0 -6-1 -6 0 -6 0 -6-1 -6 0 -6 0 -6-1 -6 0 -6 0 -6-1 -6 0 -6 0 -6-1 -6 0 -6-1 -6 0 -6 0 -6-1 -6 0 -6 0 -6-1 -6 0 -6 0 -6-1 -6 0 -6 0 -6-1 -6 0 -6 0 -6-1 -6 0 -6 0 -6-1 -6 0 -6 0 -6-1 -6 0 -6-1 -6 0 -6 0 -6-1 -6 0 -6-1 -6 0 -6-1 -6 0 -6-1 -6-1 -6 0 -6-1 -6-1 -6-1 -6-1 -6 0 -6-1 -6-1 -6-1 -6-1 -6-1 -6-2 -6-1 -6-1 -6-1 -6-1 -6-1 -6-2 -6-1 -6-1 -6-1 -6-2 -6-1z"/><path stroke-width="6" stroke-opacity="0.35" d="M3048 4258l6 7 6-30 6 74 6 19 6 27 6-22 6-49 6 47 6-67 6 21 6-14 6 22 6 56 6 3 6 13 6-83 6 21 6-7 6 51 6 7 6-63 6 42 6 4 6-40 6-30 6-7 6 66 6 13 6 45 6-61 6-27 6 11 6 40 6 32 6-78 6 41 6-57 6 53 6-17 6-35 6 22 6 7 6-59 6 37 6 39 6 30 6-16 6-21 6-3 6 0 6-38 6 48 6-15 6-47 6 73 6-72 6 72 6-18 6 22 6-60 6 14 6-14 6 69 6-29 6-27 6 10 6 51 6-59 6 18 6-33 6 49 6-27 6 30 6-6 6-13 6 15 6-18 6 33 6-6 6 13 6-37 6 12 6-12 6 47 6-19 6 5 6-49 6 16 6 14 6-23 6 9 6 16 6-66 6 29 6 67 6-23 6-35 6-5 6 22 6-55 6-41 6 68 6 17 6-15 6-29 6 5 6-17 6 36 6-37 6 33 6-52 6-51 6 69 6-42 6 121 6-90 6 28 6-143 6 173 6-167 6 104 6-47 6 37 6-35 6-5 6 7 6-9 6 11 6 63 6-44 6 9 6-3 6-90 6 116 6-37 6 71 6-131 6 85 6 46 6 7 6-73 6 33 6 25 6-15 6-28 6 21 6 42 6-4 6-42 6-22 6 46 6-58 6 7 6 29 6 39 6-23 6 41 6 16 6 5 6-78 6 59 6 22 6 10 6 10 6-77 6 50 6-40 6 58 6 1 6-60 6 53 6-21 6-44 6 46 6 4 6-9 6 12 6 22 6-76 6 23 6 48 6-6 6-52 6 52 6 4 6-41 6 36 6-13 6-4 6 15 6 17 6 11 6-46 6-20 6 49 6 26 6-33 6-58 6 26 6 12 6 68 6-23 6-12 6 23 6 0 6-44 6 3 6 9 6-62 6 74 6-48 6 19 6 11 6-20 6 22 6 44 6-35 6-1 6-37 6 34 6-43 6 49 6-56 6 14 6 63 6-22 6 52 6-64 6 9 6 28 6-102 6 101 6 1 6-43 6 25 6 2 6-48 6 23 6 18 6-4 6-15 6-6 6 50 6-32 6-12 6 0 6 31 6 6 6-3 6-58 6 48 6 6 6-14 6-1 6-10 6-27 6 48 6-20 6-12 6 68 6-41 6 46 6-45 6 21 6-12 6-2 6-17 6 0 6 12 6-17 6 21 6-47 6 44 6-8 6 22 6-6 6-52 6 35 6 34 6-102 6 103 6-21 6 1 6 31 6-60 6 7 6-21 6 29 6-38 6 30 6 37 6-15 6-17 6-22 6 42 6 15 6-34 6-6 6-18 6 1 6 41 6-54 6 92 6-100 6 96 6-78 6 47 6-11 6 22 6-26 6-7 6-3 6-31 6 34 6 10 6 7 6-34 6-29 6 74 6-19 6-7 6 54 6-64 6 19 6 42 6-65 6 2 6 64 6-22 6 31 6-61 6 27 6-40 6 23 6-2 6-5 6-39 6 39 6 8 6 63 6-86 6 9 6 3 6 50 6-90 6 97 6-97 6 86 6 19 6-61 6-28 6 48 6 2 6-36 6 26 6 20 6-57 6 24 6 34 6-33 6-8 6 5 6 12 6-20 6 37 6-15 6-7 6 36 6-30 6 24 6-52 6 34 6 59 6-59 6 9 6-65 6 40 6-3"/><path stroke-width="8" stroke-linejoin="bevel" d="M3048 4261l3 51 3 0 3-37 3-41 3 46 3 6 3-22 3 60 3-71 3 86 3-40 3 12 3-41 3-6 3 41 3 37 3-51 3 39 3-23 3-27 3 31 3 10 3-23 3 19 3-6 3 24 3-40 3 0 3 27 3-55 3 37 3-9 3 1 3 32 3-15 3-7 3 23 3-50 3 47 3-31 3 24 3 28 3-35 3-21 3-14 3 19 3-1 3-7 3-2 3 11 3-2 3 12 3-3 3 40 3-40 3 1 3 13 3 0 3-20 3-4 3 9 3-3 3 38 3-46 3 12 3 12 3 9 3 22 3-39 3 2 3 37 3-2 3-31 3-21 3 34 3-40 3 60 3-13 3-43 3 47 3-40 3 11 3 35 3-52 3-16 3 16 3 33 3-3 3-21 3-26 3 35 3-14 3 38 3-56 3 56 3-20 3 10 3 5 3 1 3-34 3 40 3-43 3 43 3-15 3-11 3 11 3 6 3-2 3 16 3-13 3-9 3 54 3-65 3-7 3 34 3 14 3 0 3 0 3 6 3-43 3 34 3-43 3 31 3-25 3 24 3 5 3 0 3-15 3-8 3 37 3 7 3-37 3-33 3 41 3 20 3-26 3-3 3 26 3 10 3-45 3-4 3 14 3-21 3 39 3-38 3 57 3-37 3 2 3 24 3-4 3-6 3 6 3-26 3 54 3-69 3 17 3-9 3 0 3 43 3 5 3-1 3-19 3-43 3 3 3 10 3 4 3 25 3 0 3-11 3-32 3 47 3-15 3-37 3 44 3-27 3 58 3-72 3 43 3-23 3-40 3 14 3-1 3 22 3 32 3-18 3 25 3-20 3 11 3-26 3 9 3 0 3-25 3 11 3-22 3 9 3-16 3 12 3-4 3 32 3-41 3-5 3 24 3-19 3-2 3 13 3 4 3-8 3 23 3 14 3-17 3-36 3-27 3 0 3 29 3-42 3 44 3-24 3 9 3 15 3-12 3-60 3 7 3 80 3-45 3 40 3-44 3 11 3-27 3 28 3 7 3-19 3 17 3-20 3-67 3 73 3 5 3-49 3 48 3-64 3 27 3 16 3-83 3 83 3-17 3 23 3-42 3 10 3 0 3-1 3-31 3 67 3-81 3 27 3 21 3-35 3 53 3-44 3-4 3 35 3 44 3-59 3 39 3-50 3 19 3 5 3 22 3-6 3-35 3 8 3 14 3 22 3 57 3-66 3 53 3 11 3-68 3-10 3 58 3-67 3 82 3-39 3 26 3-8 3-54 3 75 3-14 3-71 3 16 3 54 3-1 3-3 3 6 3-27 3 14 3 47 3-91 3 1 3 95 3-18 3 29 3-20 3 8 3-18 3-40 3 11 3 48 3-17 3 16 3 20 3-39 3 54 3-63 3 12 3 19 3 4 3-25 3 29 3-60 3 49 3 15 3-19 3-3 3 5 3-24 3 68 3-40 3-9 3 5 3 11 3-22 3-16 3 53 3-37 3 5 3-33 3 55 3 9 3-5 3-4 3-51 3 82 3-25 3-23 3 28 3-11 3 3 3-20 3 15 3-10 3 21 3-17 3 13 3-8 3 15 3 6 3-14 3 20 3-22 3 49 3-23 3 2 3-58 3 22 3 11 3 11 3-3 3 3 3-34 3 68 3-37 3 8 3-12 3 1 3-2 3 37 3-45 3 20 3 16 3-55 3 10 3-4 3 33 3-45 3 28 3 7 3-7 3-29 3 74 3-53 3 2 3 38 3-34 3 0 3-8 3 11 3 13 3 21 3-27 3 7 3-44 3 45 3 13 3 4 3-57 3 16 3-15 3 32 3 30 3-59 3 42 3-22 3 36 3-35 3-25 3 26 3 6 3-5 3-6 3 28 3-2 3-15 3 19 3-6 3 22 3 10 3 2 3-47 3 22 3-16 3 13 3 3 3-13 3-1 3 20 3-26 3-4 3-9 3-3 3 40 3 7 3-26 3-9 3 42 3-34 3-7 3 5 3 22 3-12 3 29 3-13 3-13 3-40 3 17 3 49 3-5 3-11 3 1 3-11 3-3 3-20 3 35 3-5 3-32 3-3 3 32 3-20 3 45 3-30 3-23 3 12 3-5 3 0 3 28 3-29 3-6 3-24 3 57 3-6 3-48 3 66 3-31 3 44 3-33 3-15 3 26 3 8 3-46 3 30 3 6 3-17 3-15 3 9 3 32 3-1 3-13 3 31 3-22 3 6 3-4 3-10 3-6 3 15 3-22 3 8 3-47 3 23 3-3 3 63 3-76 3 44 3 14 3-25 3 3 3 8 3-44 3 37 3 28 3-10 3-15 3-1 3 21 3-36 3 22 3 17 3-46 3 20 3 19 3 25 3-61 3 40 3 17 3-23 3-12 3-1 3-24 3 51 3-55 3 26 3-7 3 17 3-17 3 35 3-62 3-4 3 39 3-27 3 41 3 0 3 2 3-36 3 6 3 5 3 13 3-3 3 14 3-24 3 49 3-33 3 4 3-54 3 27 3 36 3-29 3-1 3-11 3 19 3 19 3-14 3 22 3-41 3 30 3-8 3 0 3-31 3 27 3 5 3-34 3 64 3-35 3-24 3 48 3-45 3 29 3-39 3 54 3-15 3-8 3-15 3-6 3 50 3-32 3 28 3-43 3 20 3-22 3 30 3-46 3 53 3-40 3 33 3-6 3-4 3 1 3 34 3-53 3 6 3 36 3-9 3 14 3-19 3-16 3 8 3 10 3 6 3-10 3-20 3 11 3 36 3-46 3 41 3-53 3 9 3-11 3 48 3-27 3 5 3 28 3-16 3-35 3 6 3-12 3 48 3-18 3-15 3 17 3 12 3 7 3 25 3-56 3 30 3 2 3-12 3-50 3 17 3 63 3-52 3 20 3-20 3 54 3-20 3-33 3-6 3 35 3 9 3-28 3 22 3-13 3 1 3 1 3-31 3 13 3 20 3-6 3 28 3-54 3 34 3 36 3-33 3 5 3-23 3 1 3 16 3-25 3-7 3-3 3 1 3 45 3-5 3 5 3-16 3 2 3-28 3 19 3 17 3-27 3-19 3 42 3-32 3 36 3-20 3-6 3 0 3 3 3 20 3 1 3 5 3-11 3-5 3 10 3-18 3-7 3 10 3-5 3-23 3 10 3 31 3-9 3-7 3 12 3 2 3 15 3-8 3-12 3 6 3-2 3-39 3 66 3-51 3 32 3-21 3-6 3 37 3-38 3 7 3-33 3 52 3-20 3-7 3 33 3-19 3-39 3 52 3-30 3 4 3 0 3-16 3 20 3 9 3 19 3 7 3-34 3 44 3-36 3 29 3-20 3-3 3-43 3 63 3-50 3 40 3-43 3-5 3 7 3 4 3 5 3 25 3 5"/></g>
<g transform="scale(0.1)" fill="none" stroke="#0a0aff"><path fill="#0a0aff" stroke="none" d="M3048 3996l6 1 6 1 6 1 6 0 6 1 6 1 6 1 6 1 6 1 6 1 6 1 6 0 6 1 6 1 6 1 6 0 6 1 6 1 6 0 6 1 6 0 6 1 6 0 6 1 6 0 6 1 6 0 6 1 6 0 6 0 6 1 6 0 6 0 6 0 6 1 6 0 6 0 6 1 6 0 6 0 6 0 6 1 6 0 6 0 6 0 6 1 6 0 6 0 6 0 6 1 6 0 6 0 6 1 6 0 6 0 6 1 6 0 6 0 6 1 6 0 6 1 6 0 6 0 6 1 6 0 6 1 6 0 6 0 6 1 6 0 6 0 6 1 6 0 6 0 6 0 6 1 6 0 6 0 6 0 6 0 6 0 6 0 6 0 6-1 6-1 6-1 6-2 6-2 6-2 6-2 6-2 6-2 6-3 6-3 6-3 6-2 6-3 6-3 6-3 6-3 6-3 6-4 6-4 6-5 6-5 6-5 6-5 6-5 6-5 6-6 6-4 6-5 6-4 6-5 6-4 6-5 6-4 6-4 6-4 6-4 6-3 6-3 6-4 6-3 6-3 6-3 6-3 6-2 6-1 6 0 6 2 6 3 6 4 6 5 6 5 6 5 6 4 6 4 6 4 6 4 6 5 6 4 6 4 6 5 6 4 6 4 6 3 6 4 6 2 6 3 6 2 6 2 6 1 6 2 6 2 6 1 6 1 6 2 6 1 6 2 6 1 6 1 6 2 6 1 6 2 6 2 6 1 6 2 6 1 6 2 6 1 6 1 6 2 6 1 6 2 6 1 6 1 6 2 6 1 6 2 6 1 6 1 6 2 6 1 6 1 6 1 6 1 6 2 6 1 6 0 6 1 6 1 6 1 6 1 6 1 6 1 6 1 6 0 6 1 6 1 6 1 6 1 6 0 6 1 6 1 6 0 6 1 6 1 6 0 6 1 6 0 6 1 6 0 6 1 6 0 6 1 6 0 6 0 6 1 6 0 6 0 6 1 6 0 6 0 6 0 6 1 6 0 6 0 6 1 6 0 6 0 6 0 6 1 6 0 6 0 6 0 6 0 6 1 6 0 6 0 6 0 6 0 6 1 6 0 6 0 6 0 6 0 6 1 6 0 6 0 6 0 6 0 6 0 6 1 6 0 6 0 6 0 6 0 6 0 6 1 6 0 6 0 6 0 6 0 6 0 6 0 6 1 6 0 6 0 6 0 6 0 6 0 6 0 6 1 6 0 6 0 6 0 6 0 6 0 6 1 6 0 6 0 6 0 6 0 6 0 6 0 6 1 6 0 6 0 6 0 6 0 6 1 6 0 6 0 6 0 6 0 6 0 6 1 6 0 6 0 6 0 6 0 6 0 6 1 6 0 6 0 6 0 6 0 6 1 6 0 6 0 6 0 6 0 6 0 6 1 6 0 6 0 6 0 6 0 6 0 6 1 6 0 6 0 6 0 6 0 6 0 6 1 6 0 6 0 6 0 6 0 6 0 6 1 6 0 6 0 6 0 6 0 6 0 6 1 6 0 6 0 6 0 6 0 6 0 6 1 6 0 6 0 6 0 6 0 6 0 6 1 6 0 6 0 6 0 6 0 6 0 6 1 6 0 6 0 6 0 6 0 6 0 6 1 6 0 6 0 6 0 6 0 6 0 6 0 6 1 6 0 6 0 6 0 6 0 6 0 6 1 6 0 6 0 0 38 -6 0 -6 0 -6-1 -6 0 -6 0 -6 0 -6 0 -6 0 -6 0 -6-1 -6 0 -6 0 -6 0 -6 0 -6 0 -6 0 -6-1 -6 0 -6 0 -6 0 -6 0 -6 0 -6 0 -6-1 -6 0 -6 0 -6 0 -6 0 -6 0 -6-1 -6 0 -6 0 -6 0 -6 0 -6 0 -6 0 -6-1 -6 0 -6 0 -6 0 -6 0 -6 0 -6-1 -6 0 -6 0 -6 0 -6 0 -6 0 -6 0 -6-1 -6 0 -6 0 -6 0 -6 0 -6 0 -6-1 -6 0 -6 0 -6 0 -6 0 -6 0 -6-1 -6 0 -6 0 -6 0 -6 0 -6 0 -6-1 -6 0 -6 0 -6 0 -6 0 -6 0 -6-1 -6 0 -6 0 -6 0 -6 0 -6 0 -6-1 -6 0 -6 0 -6 0 -6 0 -6 0 -6-1 -6 0 -6 0 -6 0 -6 0 -6 0 -6 0 -6-1 -6 0 -6 0 -6 0 -6 0 -6 0 -6 0 -6-1 -6 0 -6 0 -6 0 -6 0 -6 0 -6 0 -6-1 -6 0 -6 0 -6 0 -6 0 -6 0 -6 0 -6-1 -6 0 -6 0 -6 0 -6 0 -6 0 -6 0 -6-1 -6 0 -6 0 -6 0 -6 0 -6 0 -6 0 -6-1 -6 0 -6 0 -6 0 -6 0 -6 0 -6-1 -6 0 -6 0 -6 0 -6 0 -6-1 -6 0 -6 0 -6 0 -6 0 -6-1 -6 0 -6 0 -6 0 -6-1 -6 0 -6 0 -6 0 -6 0 -6-1 -6 0 -6 0 -6-1 -6 0 -6 0 -6 0 -6-1 -6 0 -6 0 -6-1 -6 0 -6-1 -6 0 -6 0 -6-1 -6-1 -6 0 -6-1 -6 0 -6-1 -6-1 -6 0 -6-1 -6-1 -6 0 -6-1 -6-1 -6-1 -6 0 -6-1 -6-1 -6-1 -6-1 -6-1 -6 0 -6-1 -6-1 -6-1 -6-1 -6-2 -6-1 -6-1 -6-1 -6-1 -6-2 -6-1 -6-1 -6-2 -6-1 -6-1 -6-2 -6-1 -6-1 -6-2 -6-1 -6-1 -6-2 -6-1 -6-2 -6-1 -6-2 -6-1 -6-1 -6-2 -6-1 -6-1 -6-2 -6-1 -6-1 -6-2 -6-1 -6-2 -6-1 -6-2 -6-2 -6-2 -6-3 -6-3 -6-4 -6-3 -6-4 -6-4 -6-4 -6-5 -6-4 -6-4 -6-4 -6-3 -6-5 -6-4 -6-5 -6-4 -6-4 -6-3 -6-2 -6 0 -6 1 -6 2 -6 2 -6 3 -6 3 -6 3 -6 3 -6 3 -6 4 -6 3 -6 4 -6 4 -6 4 -6 4 -6 5 -6 4 -6 4 -6 4 -6 5 -6 5 -6 5 -6 5 -6 5 -6 5 -6 4 -6 5 -6 3 -6 4 -6 3 -6 3 -6 3 -6 2 -6 3 -6 3 -6 2 -6 3 -6 2 -6 3 -6 2 -6 2 -6 2 -6 1 -6 2 -6 1 -6 1 -6 1 -6 0 -6 0 -6 0 -6 0 -6 0 -6 0 -6-1 -6 0 -6 0 -6 0 -6 0 -6-1 -6 0 -6 0 -6-1 -6 0 -6 0 -6-1 -6 0 -6 0 -6-1 -6 0 -6 0 -6-1 -6 0 -6-1 -6 0 -6 0 -6-1 -6 0 -6 0 -6-1 -6 0 -6 0 -6 0 -6-1 -6 0 -6 0 -6 0 -6-1 -6 0 -6 0 -6 0 -6-1 -6 0 -6 0 -6 0 -6 0 -6-1 -6 0 -6 0 -6-1 -6 0 -6 0 -6-1 -6 0 -6 0 -6-1 -6 0 -6-1 -6 0 -6-1 -6 0 -6-1 -6 0 -6-1 -6 0 -6-1 -6-1 -6-1 -6 0 -6-1 -6-1 -6-1 -6 0 -6-1 -6-1 -6-1 -6-1 -6-1 -6 0 -6-1 -6-1z"/><path stroke-width="6" stroke-opacity="0.35" d="M3048 4031l6 7 6-18 6-3 6-28 6 22 6 48 6-34 6 47 6-43 6-22 6 80 6-18 6-53 6 14 6-14 6-33 6 73 6 13 6-43 6 1 6 17 6-23 6 49 6-7 6-42 6 47 6-99 6 45 6 47 6-42 6 13 6-9 6-2 6 5 6 68 6-52 6-38 6 22 6 1 6 36 6-7 6 0 6-64 6 24 6 62 6-13 6 20 6-10 6-78 6 32 6 37 6-64 6 30 6 41 6-27 6-36 6 14 6 36 6-68 6 17 6-33 6 38 6 52 6 12 6-50 6-13 6 2 6-28 6 11 6 43 6 16 6-26 6 20 6-7 6-10 6 1 6 7 6-8 6 11 6 43 6-25 6-12 6 0 6-25 6 64 6-39 6 0 6 17 6-40 6 34 6-46 6-27 6 66 6-18 6-22 6-24 6 24 6-32 6 22 6 4 6-13 6 38 6-7 6-47 6 38 6-49 6 12 6-6 6 32 6-28 6-60 6 59 6-1 6 52 6-120 6 15 6 51 6 11 6-59 6-6 6 10 6-22 6-40 6 63 6 33 6-122 6 85 6-106 6 47 6-70 6 177 6-145 6 168 6 17 6-41 6-70 6 27 6-92 6 61 6 0 6 18 6 62 6-11 6-23 6 79 6-38 6-58 6 17 6-18 6 75 6-17 6-44 6 109 6-74 6 57 6-88 6 30 6 71 6-95 6 63 6-40 6-21 6-26 6 65 6 15 6 22 6 6 6-32 6-16 6 15 6 46 6-16 6 3 6-12 6 15 6-98 6 96 6-29 6 59 6-73 6 94 6-96 6 14 6 77 6-89 6 72 6-36 6 62 6-92 6 59 6-21 6-22 6 11 6-35 6 37 6 42 6-31 6 34 6-62 6 11 6-19 6 88 6-83 6 57 6 18 6 0 6-39 6 24 6-66 6 5 6 25 6-26 6 60 6-76 6 77 6-59 6 113 6-131 6 65 6 8 6-24 6 19 6 34 6-2 6-37 6-27 6 21 6 43 6-53 6 55 6-45 6-52 6 38 6 30 6-20 6 54 6-50 6-6 6-22 6 34 6 16 6-27 6 7 6-39 6 112 6-82 6 52 6-57 6 47 6-19 6 24 6-49 6-23 6 62 6-52 6 15 6 8 6-8 6-55 6 48 6 37 6-65 6 35 6 34 6-6 6-45 6 7 6 76 6-29 6 20 6 21 6-78 6-8 6 63 6-78 6-7 6 74 6-24 6 10 6 1 6-36 6 29 6 19 6-49 6 40 6-46 6 3 6 41 6 0 6 19 6-38 6-1 6 43 6-59 6 35 6-58 6 23 6 82 6-46 6-17 6-61 6 72 6 31 6-80 6 40 6 11 6-25 6 21 6 3 6 6 6-49 6 21 6 52 6-33 6 16 6-58 6 4 6 20 6 49 6-50 6 43 6 45 6-24 6-41 6-1 6-63 6 38 6 14 6 63 6-40 6-60 6 42 6-16 6 57 6-7 6 40 6-43 6 5 6 24 6-98 6 67 6-68 6 82 6-101 6 54 6 13 6-39 6-24 6 71 6 3 6-15 6-23 6 43 6-15 6 5 6-6 6-38 6 39 6-37 6 50 6 1 6 7 6-15 6 42 6-30 6-32 6 12 6-26 6 48 6-47 6 31 6-2 6 52 6-34 6 28 6-40 6 18 6-41"/><path stroke-width="8" stroke-linejoin="bevel" d="M3048 4009l3-13 3 39 3 7 3-19 3 12 3-42 3 29 3-14 3-37 3 55 3-18 3 3 3 11 3-6 3 25 3-32 3 27 3-27 3 26 3-12 3 20 3 37 3-54 3 16 3-38 3 11 3 19 3 21 3-54 3 22 3 35 3-70 3 52 3-16 3 49 3-48 3-17 3 56 3 2 3-23 3 32 3-51 3 12 3-19 3-4 3 28 3-15 3 48 3-56 3 20 3-54 3 54 3-16 3 0 3 17 3-10 3-20 3 41 3-13 3-16 3 48 3-35 3 21 3 1 3-28 3 15 3-11 3-15 3 11 3 48 3-37 3 35 3-19 3-50 3 29 3 20 3-14 3 7 3-2 3-23 3 37 3 22 3-52 3 3 3 12 3 15 3-26 3 30 3-30 3-7 3-28 3 52 3 11 3-38 3 20 3-19 3-1 3 53 3-12 3-66 3 62 3-12 3 34 3-33 3-2 3-23 3 14 3-3 3-26 3 50 3-28 3 15 3 10 3-55 3 32 3-9 3 4 3-14 3 29 3-32 3 17 3 0 3 1 3 7 3 4 3 8 3 38 3-58 3 10 3-10 3 53 3-76 3 14 3 43 3-11 3-38 3 55 3-46 3 1 3 51 3 0 3-9 3-14 3 12 3-34 3 59 3-79 3 51 3 16 3-50 3 15 3 14 3 31 3-16 3 3 3-25 3 12 3 2 3 19 3-61 3 33 3-5 3-8 3 49 3-56 3 28 3-8 3 9 3-30 3-11 3 71 3-22 3-27 3-15 3 18 3-4 3-9 3 25 3-12 3-10 3 8 3-21 3 26 3-7 3-54 3 59 3-27 3 5 3 18 3-17 3 9 3-43 3 58 3-35 3 33 3-25 3 0 3 21 3-10 3-19 3 10 3 36 3-50 3-12 3 24 3-52 3 40 3-17 3 12 3-71 3 82 3-22 3-29 3 43 3-41 3-27 3 2 3 23 3-9 3 8 3-15 3 25 3 6 3-50 3 59 3-62 3 45 3 2 3-29 3-15 3-19 3 88 3-107 3 40 3 0 3 34 3-13 3-31 3-17 3 84 3-73 3-19 3 73 3-60 3-29 3 51 3-31 3-59 3 56 3 20 3-62 3 43 3 42 3-52 3-24 3 7 3 52 3-43 3 32 3-18 3-23 3 58 3 29 3-90 3 47 3 4 3 0 3-2 3 49 3 23 3-59 3-8 3 32 3-46 3 2 3 40 3 16 3-21 3 10 3-80 3 39 3 27 3 27 3-51 3 47 3-13 3 18 3-20 3 40 3-47 3 63 3-52 3 28 3-44 3 13 3 31 3-70 3 65 3 0 3 62 3-61 3 50 3-48 3-13 3 50 3-19 3 32 3-76 3-6 3 69 3 6 3-2 3-33 3 34 3-29 3-15 3 14 3-44 3 70 3 0 3-43 3-18 3 51 3 21 3-89 3 53 3-7 3 54 3 3 3-75 3 18 3-30 3 49 3 8 3 23 3-79 3 4 3 53 3 0 3-24 3 18 3 13 3-16 3 48 3 3 3-32 3-16 3-25 3 22 3-1 3-45 3 53 3 12 3-9 3-37 3 3 3 49 3 9 3-41 3-15 3 21 3 18 3 47 3-26 3-10 3-22 3 13 3-23 3 46 3-17 3-25 3 26 3 38 3-56 3-8 3 19 3 6 3 10 3-9 3 20 3-17 3 9 3 32 3-69 3 5 3 28 3-26 3 9 3 65 3-72 3 3 3 32 3-10 3-40 3 46 3 26 3-36 3 15 3-13 3-19 3 2 3 35 3-4 3-48 3 59 3-13 3 6 3 10 3-60 3 29 3-6 3-2 3 15 3 13 3-14 3 50 3-69 3 74 3-44 3 37 3-31 3-28 3 14 3-7 3 28 3-10 3-32 3 75 3-26 3-58 3 17 3 10 3 12 3 1 3-13 3 47 3-70 3 44 3-8 3 25 3-36 3 6 3 45 3-37 3-6 3-3 3-4 3-21 3 0 3 18 3 11 3 18 3-26 3-1 3 10 3-13 3 12 3 25 3-42 3-9 3 15 3 12 3-22 3 37 3 29 3-21 3 8 3 4 3-15 3-14 3 1 3-37 3 5 3 14 3-10 3 8 3 25 3-11 3-4 3 48 3-52 3 7 3 24 3-26 3 30 3-41 3 47 3-22 3-44 3 33 3 15 3-20 3 17 3-18 3 21 3-16 3 28 3-11 3 10 3-2 3-28 3 4 3 13 3 17 3-13 3-37 3 52 3-18 3 19 3-46 3 9 3-3 3-11 3 54 3-34 3-12 3-11 3 14 3 29 3 11 3-13 3-21 3 11 3-40 3 8 3 25 3 10 3-9 3 7 3-16 3 5 3 9 3-10 3-3 3 5 3 39 3-53 3 64 3-62 3 37 3 6 3 4 3-35 3-40 3 28 3 24 3 41 3-52 3 15 3 1 3 27 3-21 3 20 3-47 3-19 3 30 3-17 3 34 3-16 3 21 3-41 3 9 3 3 3 32 3-28 3 3 3 33 3-43 3 3 3 42 3-80 3 71 3-30 3 3 3 4 3 4 3-6 3 31 3-73 3-2 3 49 3-33 3 23 3-3 3 5 3 14 3-55 3 25 3 51 3-42 3-1 3 58 3-39 3-26 3 30 3 1 3-35 3 39 3-22 3-33 3 55 3 0 3-5 3-1 3-22 3 4 3-11 3 40 3-9 3 26 3-28 3-18 3-4 3-6 3 1 3 65 3-85 3 16 3-9 3 51 3-14 3-8 3 22 3-27 3 17 3 26 3-35 3-2 3 14 3 6 3 0 3-22 3 14 3-6 3 19 3-26 3 0 3-15 3 11 3-4 3 21 3 18 3-34 3 49 3-44 3 29 3-12 3-24 3 10 3-29 3 41 3 27 3-31 3 30 3-35 3-4 3 6 3-10 3 15 3 30 3-34 3-12 3 10 3 18 3-21 3-32 3 17 3 49 3-33 3 27 3-25 3-14 3 19 3 15 3-25 3-21 3 20 3-7 3 36 3-41 3-2 3-8 3 28 3-9 3 3 3 15 3-12 3 47 3-9 3-46 3 49 3-34 3 6 3-27 3 30 3 10 3-8 3-5 3 13 3-7 3-42 3 27 3 11 3-21 3 54 3-30 3-11 3 5 3 5 3-17 3-5 3-20 3 52 3-15 3-29 3 44 3-18 3-10 3-8 3 54 3-16 3-10 3 0 3-11 3 0 3 32 3-40 3-3 3 32 3-54 3 25 3-4 3 12 3-25 3 19 3-1 3 12 3 11 3 12 3-21 3-14 3-3 3 5 3 48 3-11 3-7 3-8 3-33 3 42 3-25 3-16 3 0 3 24 3-17 3 43 3-6 3-9"/></g>
<rect x="140.8" y="3.4" width="117.7" height="82.6" fill="#090909"/>
<g transform="translate(140 3) scale(1.00000)">
<polygon fill="#787878" points="0.8,8 5,10 7,15 5,20 0.8,22"/>
<polygon fill="url(#ga1)" points="3,30.5 4.6,35.9 9.2,36.6 32.8,24.4 33.6,20.6 30.5,19.8 15.3,24.4 6.1,29.8"/>
<polygon fill="url(#ga2)" points="29.8,6.1 35.1,2.3 45.8,1.5 55,3.1 60,4.6 63.4,8 63,15.3 60,16.8 56.5,21.4 54.2,30.5 50.4,32.8 41.2,29 38.2,22.9 37.4,16.8 32.8,12.2"/>
<polygon fill="#4a4a4a" points="31.3,29.8 48.9,29 50.4,32.8 45.8,35.1 32.1,34.4"/>
<polygon fill="url(#ga3)" points="6.1,68.7 12.2,61.1 19.8,50.4 27.5,42.7 36.6,35.9 48.9,34.4 56.5,36.6 58,44.3 57.3,51.9 51.9,58 38.2,61.1 22.9,63.4 15.3,67.2 9.2,71.8 5.3,71.8"/>
<polygon fill="url(#ga4)" points="15.3,65.6 30.5,63.4 45.8,62.6 58,64.1 62.6,61.2 67.2,65.7 71.8,84 16.8,84 14.5,73.3"/>
<polygon fill="url(#ga5)" points="60.3,17.6 65.6,16.1 73.3,14.5 79.4,13.8 84.8,15.3 86.3,19.9 88.6,30.6 93.2,41.3 97.8,48.9 96.2,52 85.5,53.5 74.8,51.2 64.1,47.4 60.3,44.3 59.5,30.6"/>
<polygon fill="#c4c4c4" points="60.3,17.6 65.6,18.3 73.3,30.6 72.5,38.2 64.1,45.9 60.3,44.3 59.5,30.6"/>
<polygon fill="url(#ga6)" points="107,53.5 110,48.9 114.6,47.4 119,47.4 119,65.7 110,64.2"/>
<polygon fill="#7a7a7a" points="81,56.6 86,56 88.6,58.1 84,59"/>
</g>
<rect x="140.8" y="3.4" width="117.7" height="82.6" filter="url(#grain)" style="mix-blend-mode:soft-light"/>
<rect x="218.7" y="68" width="39.8" height="18.0" fill="#fff"/>
<text x="238.6" y="77.8" text-anchor="middle" font-family='"Liberation Serif", serif' font-size="7.2" fill="#222">200 μm</text>
<line x1="235.1" y1="81.5" x2="242.1" y2="81.5" stroke="#555" stroke-width="0.7"/>
<rect x="141.5" y="278" width="116.6" height="82" fill="#121212"/>
<g transform="translate(141 277) scale(1.00000)">
<polygon fill="url(#gc1)" points="0,0 19,0 20,8 14,18 8,23 0,24"/>
<polygon fill="url(#gc5)" points="18,0 38,0 36,6 28,14 22,20 18,15"/>
<polygon fill="#7e7e7e" points="0,24 10,22 14,28 12,40 8,50 0,52"/>
<polygon fill="#8a8a8a" points="12,35 30,35 32,42 28,50 14,50"/>
<polygon fill="#6e6e6e" points="35,38 45,35 52,40 50,50 42,53 36,48"/>
<polygon fill="#2a2a2a" points="0,52 20,52 22,84 0,84"/>
<polygon fill="#383838" points="12,66 22,66 30,84 12,84"/>
<polygon fill="url(#gc2)" points="21,57 30,55 42,58 46,66 44,75 32,76 24,70 21,63"/>
<polygon fill="#555555" points="58,0 78,0 78,10 62,17 58,12"/>
<polygon fill="#242424" points="52,18 70,16 85,24 80,40 65,44 55,38"/>
<polygon fill="url(#gc3)" points="77,5 82,0 118,0 118,36 105,30 95,22 85,15 78,12"/>
<polygon fill="#303030" points="85,25 100,28 102,45 90,48 85,40"/>
<polygon fill="#888888" points="101,34 118,32 118,64 105,62 100,50"/>
<polygon fill="url(#gc4)" points="58,50 70,46 91,45 89,55 85,64 68,66 58,58"/>
<polygon fill="#2c2c2c" points="58,66 78,66 78,84 58,84"/>
<polygon fill="#363636" points="44,18 58,18 58,40 50,38 44,28"/>
</g>
<g stroke="#555" stroke-width="0.6" fill="none"><path d="M226 282 L252 300 M232 279 L258 296 M222 288 L240 296"/></g>
<rect x="141.5" y="278" width="116.6" height="82" filter="url(#grain)" style="mix-blend-mode:soft-light"/>
<rect x="220" y="343" width="38.1" height="17.0" fill="#fff"/>
<text x="239.1" y="352.8" text-anchor="middle" font-family='"Liberation Serif", serif' font-size="7.2" fill="#222">200 μm</text>
<line x1="235.6" y1="356.5" x2="242.6" y2="356.5" stroke="#555" stroke-width="0.7"/>
<rect x="416" y="3.3" width="118.3" height="82.5" fill="#0c0c0c"/>
<g mask="url(#mb)"><rect x="416" y="3.3" width="118.3" height="82.5" filter="url(#spk1)"/></g>
<rect x="494.7" y="68" width="39.6" height="17.8" fill="#fff"/>
<text x="514.5" y="77.8" text-anchor="middle" font-family='"Liberation Serif", serif' font-size="7.2" fill="#222">200 μm</text>
<line x1="511.0" y1="81.5" x2="518.0" y2="81.5" stroke="#555" stroke-width="0.7"/>
<rect x="414.8" y="278.2" width="118.2" height="83.1" filter="url(#spk2)"/>
<rect x="494.9" y="344" width="38.1" height="17.3" fill="#fff"/>
<text x="514.0" y="353.8" text-anchor="middle" font-family='"Liberation Serif", serif' font-size="7.2" fill="#222">200 μm</text>
<line x1="510.5" y1="357.5" x2="517.5" y2="357.5" stroke="#555" stroke-width="0.7"/>
<rect x="24.4" y="3.3" width="234.9" height="234.0" fill="none" stroke="#505050" stroke-width="1.2"/>
<line x1="53.8" y1="237.3" x2="53.8" y2="240.3" stroke="#505050" stroke-width="1"/>
<text x="53.8" y="252.6" text-anchor="middle" font-family='"Liberation Serif", serif' font-size="12" fill="#1e1e1e" stroke="#1e1e1e" stroke-width="0.2">20</text>
<line x1="83.1" y1="237.3" x2="83.1" y2="239.10000000000002" stroke="#505050" stroke-width="1"/>
<line x1="112.5" y1="237.3" x2="112.5" y2="240.3" stroke="#505050" stroke-width="1"/>
<text x="112.5" y="252.6" text-anchor="middle" font-family='"Liberation Serif", serif' font-size="12" fill="#1e1e1e" stroke="#1e1e1e" stroke-width="0.2">40</text>
<line x1="141.8" y1="237.3" x2="141.8" y2="239.10000000000002" stroke="#505050" stroke-width="1"/>
<line x1="171.2" y1="237.3" x2="171.2" y2="240.3" stroke="#505050" stroke-width="1"/>
<text x="171.2" y="252.6" text-anchor="middle" font-family='"Liberation Serif", serif' font-size="12" fill="#1e1e1e" stroke="#1e1e1e" stroke-width="0.2">60</text>
<line x1="200.6" y1="237.3" x2="200.6" y2="239.10000000000002" stroke="#505050" stroke-width="1"/>
<line x1="229.9" y1="237.3" x2="229.9" y2="240.3" stroke="#505050" stroke-width="1"/>
<text x="229.9" y="252.6" text-anchor="middle" font-family='"Liberation Serif", serif' font-size="12" fill="#1e1e1e" stroke="#1e1e1e" stroke-width="0.2">80</text>
<rect x="299.7" y="3.3" width="234.6" height="234.1" fill="none" stroke="#505050" stroke-width="1.2"/>
<line x1="329.0" y1="237.4" x2="329.0" y2="240.4" stroke="#505050" stroke-width="1"/>
<text x="329.0" y="252.6" text-anchor="middle" font-family='"Liberation Serif", serif' font-size="12" fill="#1e1e1e" stroke="#1e1e1e" stroke-width="0.2">20</text>
<line x1="358.3" y1="237.4" x2="358.3" y2="239.20000000000002" stroke="#505050" stroke-width="1"/>
<line x1="387.7" y1="237.4" x2="387.7" y2="240.4" stroke="#505050" stroke-width="1"/>
<text x="387.7" y="252.6" text-anchor="middle" font-family='"Liberation Serif", serif' font-size="12" fill="#1e1e1e" stroke="#1e1e1e" stroke-width="0.2">40</text>
<line x1="417.0" y1="237.4" x2="417.0" y2="239.20000000000002" stroke="#505050" stroke-width="1"/>
<line x1="446.3" y1="237.4" x2="446.3" y2="240.4" stroke="#505050" stroke-width="1"/>
<text x="446.3" y="252.6" text-anchor="middle" font-family='"Liberation Serif", serif' font-size="12" fill="#1e1e1e" stroke="#1e1e1e" stroke-width="0.2">60</text>
<line x1="475.6" y1="237.4" x2="475.6" y2="239.20000000000002" stroke="#505050" stroke-width="1"/>
<line x1="505.0" y1="237.4" x2="505.0" y2="240.4" stroke="#505050" stroke-width="1"/>
<text x="505.0" y="252.6" text-anchor="middle" font-family='"Liberation Serif", serif' font-size="12" fill="#1e1e1e" stroke="#1e1e1e" stroke-width="0.2">80</text>
<rect x="25.7" y="277.8" width="232.1" height="232.6" fill="none" stroke="#505050" stroke-width="1.2"/>
<line x1="54.7" y1="510.4" x2="54.7" y2="513.4" stroke="#505050" stroke-width="1"/>
<text x="54.7" y="525.6" text-anchor="middle" font-family='"Liberation Serif", serif' font-size="12" fill="#1e1e1e" stroke="#1e1e1e" stroke-width="0.2">20</text>
<line x1="83.7" y1="510.4" x2="83.7" y2="512.1999999999999" stroke="#505050" stroke-width="1"/>
<line x1="112.7" y1="510.4" x2="112.7" y2="513.4" stroke="#505050" stroke-width="1"/>
<text x="112.7" y="525.6" text-anchor="middle" font-family='"Liberation Serif", serif' font-size="12" fill="#1e1e1e" stroke="#1e1e1e" stroke-width="0.2">40</text>
<line x1="141.8" y1="510.4" x2="141.8" y2="512.1999999999999" stroke="#505050" stroke-width="1"/>
<line x1="170.8" y1="510.4" x2="170.8" y2="513.4" stroke="#505050" stroke-width="1"/>
<text x="170.8" y="525.6" text-anchor="middle" font-family='"Liberation Serif", serif' font-size="12" fill="#1e1e1e" stroke="#1e1e1e" stroke-width="0.2">60</text>
<line x1="199.8" y1="510.4" x2="199.8" y2="512.1999999999999" stroke="#505050" stroke-width="1"/>
<line x1="228.8" y1="510.4" x2="228.8" y2="513.4" stroke="#505050" stroke-width="1"/>
<text x="228.8" y="525.6" text-anchor="middle" font-family='"Liberation Serif", serif' font-size="12" fill="#1e1e1e" stroke="#1e1e1e" stroke-width="0.2">80</text>
<rect x="304.2" y="278.2" width="228.3" height="227.6" fill="none" stroke="#505050" stroke-width="1.2"/>
<line x1="332.7" y1="505.8" x2="332.7" y2="508.8" stroke="#505050" stroke-width="1"/>
<text x="332.7" y="521.5" text-anchor="middle" font-family='"Liberation Serif", serif' font-size="12" fill="#1e1e1e" stroke="#1e1e1e" stroke-width="0.2">20</text>
<line x1="361.3" y1="505.8" x2="361.3" y2="507.6" stroke="#505050" stroke-width="1"/>
<line x1="389.8" y1="505.8" x2="389.8" y2="508.8" stroke="#505050" stroke-width="1"/>
<text x="389.8" y="521.5" text-anchor="middle" font-family='"Liberation Serif", serif' font-size="12" fill="#1e1e1e" stroke="#1e1e1e" stroke-width="0.2">40</text>
<line x1="418.4" y1="505.8" x2="418.4" y2="507.6" stroke="#505050" stroke-width="1"/>
<line x1="446.9" y1="505.8" x2="446.9" y2="508.8" stroke="#505050" stroke-width="1"/>
<text x="446.9" y="521.5" text-anchor="middle" font-family='"Liberation Serif", serif' font-size="12" fill="#1e1e1e" stroke="#1e1e1e" stroke-width="0.2">60</text>
<line x1="475.4" y1="505.8" x2="475.4" y2="507.6" stroke="#505050" stroke-width="1"/>
<line x1="504.0" y1="505.8" x2="504.0" y2="508.8" stroke="#505050" stroke-width="1"/>
<text x="504.0" y="521.5" text-anchor="middle" font-family='"Liberation Serif", serif' font-size="12" fill="#1e1e1e" stroke="#1e1e1e" stroke-width="0.2">80</text>
<text x="38" y="24.6" font-family='"Liberation Serif", serif' font-weight="bold" font-size="13.6" fill="#111">a) <tspan font-style="italic">S</tspan><tspan font-size="8.5" dy="4">c</tspan><tspan dy="-4"> = 14.7 m/s</tspan></text>
<text x="314.8" y="24.6" font-family='"Liberation Serif", serif' font-weight="bold" font-size="13.6" fill="#111">b) <tspan font-style="italic">S</tspan><tspan font-size="8.5" dy="4">c</tspan><tspan dy="-4"> = 14.7 m/s</tspan></text>
<text x="39.2" y="298.9" font-family='"Liberation Serif", serif' font-weight="bold" font-size="13.6" fill="#111">c) <tspan font-style="italic">S</tspan><tspan font-size="8.5" dy="4">c</tspan><tspan dy="-4"> = 36.6 m/s</tspan></text>
<text x="314.8" y="298.9" font-family='"Liberation Serif", serif' font-weight="bold" font-size="13.6" fill="#111">d) <tspan font-style="italic">S</tspan><tspan font-size="8.5" dy="4">c</tspan><tspan dy="-4"> = 36.6 m/s</tspan></text>
<text x="106" y="272.7" font-family='"Liberation Serif", serif' font-weight="bold" font-size="13.3" fill="#111">2θ (degree)</text>
<text x="378.6" y="272.5" font-family='"Liberation Serif", serif' font-weight="bold" font-size="13.3" fill="#111">2θ (degree)</text>
<text x="106.7" y="543.9" font-family='"Liberation Serif", serif' font-weight="bold" font-size="13.3" fill="#111">2θ (degree)</text>
<text x="387.3" y="544.4" font-family='"Liberation Serif", serif' font-weight="bold" font-size="13.3" fill="#111">2θ (degree)</text>
<text x="14.3" y="132.3" font-family='"Liberation Serif", serif' font-weight="bold" font-size="13.4" fill="#111" text-anchor="middle" transform="rotate(-90 14.3 132.3)">Intensity (a.u.)</text>
<text x="291.5" y="111.2" font-family='"Liberation Serif", serif' font-weight="bold" font-size="13.4" fill="#111" text-anchor="middle" transform="rotate(-90 291.5 111.2)">Intensity (a.u.)</text>
<text x="15.7" y="402.5" font-family='"Liberation Serif", serif' font-weight="bold" font-size="13.4" fill="#111" text-anchor="middle" transform="rotate(-90 15.7 402.5)">Intensity (a.u.)</text>
<text x="294.4" y="398" font-family='"Liberation Serif", serif' font-weight="bold" font-size="13.4" fill="#111" text-anchor="middle" transform="rotate(-90 294.4 398)">Intensity (a.u.)</text>
<text x="185.4" y="123.7" font-family='"Liberation Serif", serif' font-size="10.4" fill="#1e1e1e" stroke="#1e1e1e" stroke-width="0.22" text-anchor="start" >RT-21 min</text>
<text x="186.4" y="158.5" font-family='"Liberation Serif", serif' font-size="10.4" fill="#1e1e1e" stroke="#1e1e1e" stroke-width="0.22" text-anchor="start" >RT-12min</text>
<text x="187.60000000000002" y="189.2" font-family='"Liberation Serif", serif' font-size="10.5" fill="#1e1e1e" stroke="#1e1e1e" stroke-width="0.22" text-anchor="start" >RT-6 min</text>
<text x="182.3" y="221.1" font-family='"Liberation Serif", serif' font-size="9.8" fill="#1e1e1e" stroke="#1e1e1e" stroke-width="0.22" text-anchor="start" >as-quenched</text>
<text x="477.40000000000003" y="118.3" font-family='"Liberation Serif", serif' font-size="10" fill="#1e1e1e" stroke="#1e1e1e" stroke-width="0.22" text-anchor="start" >CT-21 min</text>
<text x="477.40000000000003" y="155.5" font-family='"Liberation Serif", serif' font-size="10" fill="#1e1e1e" stroke="#1e1e1e" stroke-width="0.22" text-anchor="start" >CT-12 min</text>
<text x="480.2" y="184.2" font-family='"Liberation Serif", serif' font-size="10" fill="#1e1e1e" stroke="#1e1e1e" stroke-width="0.22" text-anchor="start" >CT-6 min</text>
<text x="475.2" y="217.5" font-family='"Liberation Serif", serif' font-size="9.8" fill="#1e1e1e" stroke="#1e1e1e" stroke-width="0.22" text-anchor="start" >as-quenched</text>
<text x="183.0" y="393.5" font-family='"Liberation Serif", serif' font-size="10.5" fill="#1e1e1e" stroke="#1e1e1e" stroke-width="0.22" text-anchor="start" >RT-21 min</text>
<text x="183.0" y="421.3" font-family='"Liberation Serif", serif' font-size="10.5" fill="#1e1e1e" stroke="#1e1e1e" stroke-width="0.22" text-anchor="start" >RT-12 min</text>
<text x="186.3" y="451.3" font-family='"Liberation Serif", serif' font-size="10.4" fill="#1e1e1e" stroke="#1e1e1e" stroke-width="0.22" text-anchor="start" >RT-6 min</text>
<text x="179.5" y="486.3" font-family='"Liberation Serif", serif' font-size="9.8" fill="#1e1e1e" stroke="#1e1e1e" stroke-width="0.22" text-anchor="start" >as-quenched</text>
<text x="462.2" y="396.5" font-family='"Liberation Serif", serif' font-size="10" fill="#1e1e1e" stroke="#1e1e1e" stroke-width="0.22" text-anchor="start" >CT-21 min</text>
<text x="462.2" y="425.4" font-family='"Liberation Serif", serif' font-size="10" fill="#1e1e1e" stroke="#1e1e1e" stroke-width="0.22" text-anchor="start" >CT-12 min</text>
<text x="465.2" y="455.1" font-family='"Liberation Serif", serif' font-size="9.8" fill="#1e1e1e" stroke="#1e1e1e" stroke-width="0.22" text-anchor="start" >CT-6 min</text>
<text x="459.8" y="484" font-family='"Liberation Serif", serif' font-size="9.7" fill="#1e1e1e" stroke="#1e1e1e" stroke-width="0.22" text-anchor="start" >as-quenched</text>
<text x="54.0" y="61.0" font-family='"Liberation Serif", serif' font-size="11" fill="#333">o</text>
<line x1="62.8" y1="58.6" x2="66.8" y2="58.6" stroke="#333" stroke-width="0.8"/>
<text x="73.0" y="59.6" font-family='"Liberation Sans", sans-serif' font-size="10.2" fill="#1a1a1a"><tspan>Al</tspan><tspan font-size="7.6" dy="3.1" dx="1.4">11</tspan><tspan dy="-3.1" dx="0.2">La</tspan><tspan font-size="7.6" dy="3.1" dx="1.6">3</tspan></text>
<text x="54.5" y="77.6" font-family='"Liberation Serif", serif' font-size="10" fill="#333">Δ</text>
<line x1="65.6" y1="75.3" x2="70.1" y2="75.3" stroke="#333" stroke-width="0.8"/>
<text x="75.0" y="76.9" font-family='"Liberation Sans", sans-serif' font-size="11.4" fill="#1a1a1a"><tspan>fcc-Al</tspan></text>
<text x="315.9" y="48.2" font-family='"Liberation Serif", serif' font-size="8" fill="#333">Δ</text>
<line x1="321.8" y1="46.3" x2="327" y2="46.3" stroke="#333" stroke-width="0.8"/>
<text x="330.9" y="48.0" font-family='"Liberation Sans", sans-serif' font-size="9.4" fill="#1a1a1a"><tspan>fcc-Al</tspan></text>
<text x="315.6" y="61.0" font-family='"Liberation Serif", serif' font-size="9.5" fill="#333">o</text>
<line x1="322" y1="57.8" x2="327" y2="57.8" stroke="#333" stroke-width="0.8"/>
<text x="329.8" y="61.6" font-family='"Liberation Sans", sans-serif' font-size="9.4" fill="#1a1a1a"><tspan>Al</tspan><tspan font-size="6.5" dy="2.8" dx="0.5">11</tspan><tspan dy="-2.8" dx="-0.5">La</tspan><tspan font-size="6.5" dy="2.8" dx="1">3</tspan></text>
<text x="372.0" y="47.9" font-family='"Liberation Serif", serif' font-size="9.5" fill="#333">#</text>
<line x1="377.6" y1="44.9" x2="381" y2="44.9" stroke="#333" stroke-width="0.8"/>
<text x="385.3" y="47.8" font-family='"Liberation Sans", sans-serif' font-size="9.4" fill="#1a1a1a"><tspan>Al</tspan><tspan font-size="6.5" dy="2.8">3</tspan><tspan dy="-2.8">Ni</tspan></text>
<text x="372.6" y="66.7" font-family='"Liberation Serif", serif' font-size="12" fill="#333">*</text>
<line x1="379" y1="60.1" x2="382.7" y2="60.1" stroke="#333" stroke-width="0.8"/>
<text x="385.8" y="62.6" font-family='"Liberation Sans", sans-serif' font-size="9.4" fill="#1a1a1a"><tspan>Al</tspan><tspan font-size="6.5" dy="2.8">4</tspan><tspan dy="-2.8">La</tspan></text>
<text x="60.6" y="125.3" text-anchor="middle" font-family='"Liberation Serif", serif' font-size="10.5" fill="#444">o</text>
<text x="92.6" y="116.5" text-anchor="middle" font-family='"Liberation Serif", serif' font-size="10.5" fill="#444">o</text>
<text x="60.0" y="157.4" text-anchor="middle" font-family='"Liberation Serif", serif' font-size="10.5" fill="#444">o</text>
<text x="93.7" y="146.6" text-anchor="middle" font-family='"Liberation Serif", serif' font-size="10.5" fill="#444">o</text>
<text x="108.6" y="142.3" text-anchor="middle" font-family='"Liberation Serif", serif' font-size="9" fill="#444">Δ</text>
<text x="320.7" y="128.8" text-anchor="middle" font-family='"Liberation Serif", serif' font-size="10.5" fill="#444">o</text>
<text x="333.8" y="116.6" text-anchor="middle" font-family='"Liberation Serif", serif' font-size="10.5" fill="#444">o</text>
<text x="337.1" y="131.1" text-anchor="middle" font-family='"Liberation Serif", serif' font-size="10" fill="#444">#</text>
<text x="346.2" y="136.2" text-anchor="middle" font-family='"Liberation Serif", serif' font-size="10" fill="#444">#</text>
<text x="354.0" y="124.5" text-anchor="middle" font-family='"Liberation Serif", serif' font-size="10.5" fill="#444">o</text>
<text x="369.0" y="97.0" text-anchor="middle" font-family='"Liberation Serif", serif' font-size="10.5" fill="#444">o</text>
<text x="382.5" y="91.3" text-anchor="middle" font-family='"Liberation Serif", serif' font-size="9" fill="#444">Δ</text>
<text x="391.0" y="113.3" text-anchor="middle" font-family='"Liberation Serif", serif' font-size="10" fill="#444">#</text>
<text x="391.0" y="121.3" text-anchor="middle" font-family='"Liberation Serif", serif' font-size="10.5" fill="#444">o</text>
<text x="401.3" y="111.5" text-anchor="middle" font-family='"Liberation Serif", serif' font-size="9" fill="#444">Δ</text>
<text x="408.0" y="125.9" text-anchor="middle" font-family='"Liberation Serif", serif' font-size="10.5" fill="#444">o</text>
<text x="414.9" y="129.5" text-anchor="middle" font-family='"Liberation Serif", serif' font-size="10.5" fill="#444">o</text>
<text x="419.3" y="134.3" text-anchor="middle" font-family='"Liberation Serif", serif' font-size="10" fill="#444">#</text>
<text x="426.2" y="132.8" text-anchor="middle" font-family='"Liberation Serif", serif' font-size="10.5" fill="#444">o</text>
<text x="432.4" y="134.9" text-anchor="middle" font-family='"Liberation Serif", serif' font-size="12" fill="#444">*</text>
<text x="442.4" y="137.2" text-anchor="middle" font-family='"Liberation Serif", serif' font-size="12" fill="#444">*</text>
<text x="452.2" y="135.0" text-anchor="middle" font-family='"Liberation Serif", serif' font-size="8.5" fill="#444">?</text>
<text x="460.1" y="128.8" text-anchor="middle" font-family='"Liberation Serif", serif' font-size="9" fill="#444">Δ</text>
<text x="474.7" y="133.3" text-anchor="middle" font-family='"Liberation Serif", serif' font-size="12" fill="#444">*</text>
<text x="498.7" y="130.8" text-anchor="middle" font-family='"Liberation Serif", serif' font-size="9" fill="#444">Δ</text>
<text x="517.9" y="136.5" text-anchor="middle" font-family='"Liberation Serif", serif' font-size="8.5" fill="#444">?</text>
</svg></body></html>
